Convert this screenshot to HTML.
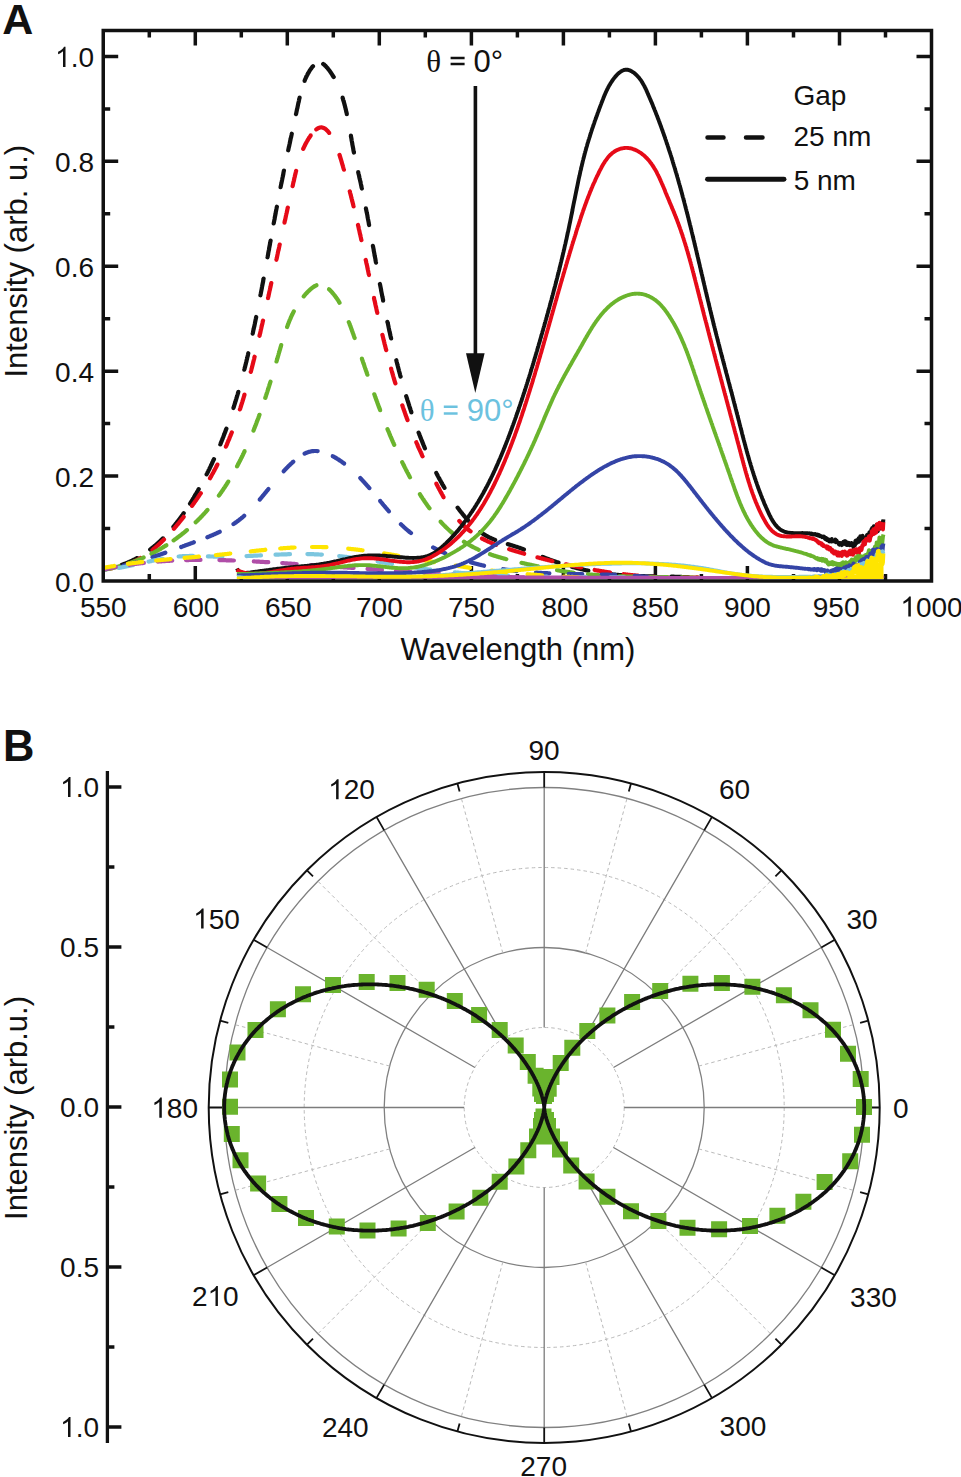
<!DOCTYPE html><html><head><meta charset="utf-8"><style>html,body{margin:0;padding:0;background:#fff;overflow:hidden}svg{display:block}text{font-family:"Liberation Sans",sans-serif}</style></head><body>
<svg width="961" height="1477" viewBox="0 0 961 1477">
<rect width="961" height="1477" fill="#fff"/>
<text x="2.3" y="33.7" font-size="43" font-weight="bold" fill="#111">A</text>
<path d="M149.3 581V574M149.3 30.5V37.5M195.3 581V566M195.3 30.5V45.5M241.3 581V574M241.3 30.5V37.5M287.3 581V566M287.3 30.5V45.5M333.3 581V574M333.3 30.5V37.5M379.3 581V566M379.3 30.5V45.5M425.3 581V574M425.3 30.5V37.5M471.4 581V566M471.4 30.5V45.5M517.4 581V574M517.4 30.5V37.5M563.4 581V566M563.4 30.5V45.5M609.4 581V574M609.4 30.5V37.5M655.4 581V566M655.4 30.5V45.5M701.4 581V574M701.4 30.5V37.5M747.4 581V566M747.4 30.5V45.5M793.5 581V574M793.5 30.5V37.5M839.5 581V566M839.5 30.5V45.5M885.5 581V574M885.5 30.5V37.5M103.25 528.5H110.2M931.5 528.5H924.5M103.25 476.1H118.2M931.5 476.1H916.5M103.25 423.6H110.2M931.5 423.6H924.5M103.25 371.2H118.2M931.5 371.2H916.5M103.25 318.7H110.2M931.5 318.7H924.5M103.25 266.2H118.2M931.5 266.2H916.5M103.25 213.8H110.2M931.5 213.8H924.5M103.25 161.3H118.2M931.5 161.3H916.5M103.25 108.9H110.2M931.5 108.9H924.5M103.25 56.4H118.2M931.5 56.4H916.5" stroke="#111" stroke-width="3.5" fill="none"/>
<defs><clipPath id="ca"><rect x="105" y="32" width="825" height="547"/></clipPath></defs>
<g clip-path="url(#ca)" fill="none" stroke-linejoin="round">
<path d="M103.9 569 L103.9 569 L104.4 568.9 L104.9 568.8 L105.4 568.8 L105.9 568.7 L106.5 568.6 L106.7 568.6M121.7 564.9 L121.9 564.8 L122.3 564.7 L122.8 564.5 L123.3 564.3 L123.8 564.2 L124.2 564 L124.7 563.8 L125.2 563.6 L125.6 563.5 L126.1 563.3 L126.5 563.1 L127 562.9 L127.5 562.7 L127.9 562.5 L128.4 562.3 L128.8 562.1 L129.3 561.9 L129.7 561.7 L130.2 561.5 L130.6 561.3 L131.1 561.1 L131.5 560.9 L132 560.7 L132.4 560.5 L132.9 560.3 L133.3 560.1 L133.7 559.8 L134.2 559.6 L134.6 559.4 L135.1 559.2 L135.5 558.9 L135.9 558.7 L136.4 558.5 L136.8 558.2 L137.2 558 L137.3 558M150.2 549.5 L150.3 549.4 L150.7 549.1 L151.1 548.8 L151.5 548.5 L151.9 548.2 L152.2 547.9 L152.6 547.6 L153 547.3 L153.4 547 L153.8 546.7 L154.2 546.3 L154.5 546 L154.9 545.7 L155.3 545.4 L155.7 545.1 L156 544.7 L156.4 544.4 L156.8 544.1 L157.1 543.8 L157.5 543.4 L157.9 543.1 L158.2 542.8 L158.6 542.4 L159 542.1 L159.3 541.8 L159.7 541.4 L160.1 541.1 L160.4 540.8 L160.8 540.4 L161.1 540.1 L161.5 539.7 L161.9 539.4 L162.2 539 L162.6 538.7 L162.9 538.3 L163 538.3M173.4 526.8 L173.7 526.5 L174 526.1 L174.3 525.7 L174.6 525.3 L174.9 524.9 L175.2 524.5 L175.6 524.1 L175.9 523.7 L176.2 523.3 L176.5 522.9 L176.8 522.5 L177.1 522.1 L177.4 521.7 L177.7 521.3 L178.1 520.9 L178.4 520.5 L178.7 520.1 L179 519.7 L179.3 519.3 L179.6 518.9 L179.9 518.5 L180.2 518.1 L180.5 517.7 L180.8 517.3 L181.1 516.9 L181.4 516.5 L181.7 516 L182 515.6 L182.3 515.2 L182.6 514.8 L182.8 514.4 L183.1 514 L183.4 513.6 L183.7 513.2M190 503.7 L190.2 503.4 L190.5 503 L190.7 502.5 L191 502.1 L191.3 501.7 L191.5 501.3 L191.8 500.8 L192.1 500.4 L192.3 500 L192.6 499.5 L192.9 499.1 L193.1 498.7 L193.4 498.2 L193.7 497.8 L193.9 497.4 L194.2 496.9 L194.4 496.5 L194.7 496.1 L195 495.6 L195.2 495.2 L195.5 494.7 L195.7 494.3 L196 493.9 L196.3 493.4 L196.5 493 L196.8 492.6 L197 492.1 L197.3 491.7 L197.5 491.3 L197.8 490.8 L198 490.4 L198.3 489.9 L198.5 489.5 L198.7 489.1M206.6 474.4 L206.8 474 L207.1 473.5 L207.3 473.1 L207.5 472.7 L207.7 472.2 L208 471.8 L208.2 471.3 L208.4 470.9 L208.6 470.4 L208.8 470 L209.1 469.5 L209.3 469.1 L209.5 468.6 L209.7 468.2 L209.9 467.7 L210.2 467.3 L210.4 466.8 L210.6 466.4 L210.8 465.9 L211 465.5 L211.2 465 L211.4 464.6 L211.7 464.1 L211.9 463.7 L212.1 463.2 L212.3 462.7 L212.5 462.3 L212.7 461.8 L212.9 461.4 L213.1 460.9 L213.3 460.5 L213.5 460 L213.8 459.6 L214 459.1 L214 459.1M220.2 444.5 L220.3 444.5 L220.5 444 L220.6 443.6 L220.8 443.1 L221 442.6 L221.2 442.2 L221.4 441.7 L221.6 441.3 L221.8 440.8 L221.9 440.3 L222.1 439.9 L222.3 439.4 L222.5 438.9 L222.7 438.5 L222.8 438 L223 437.6 L223.2 437.1 L223.4 436.6 L223.6 436.2 L223.7 435.7 L223.9 435.2 L224.1 434.8 L224.3 434.3 L224.5 433.8 L224.6 433.4 L224.8 432.9 L225 432.4 L225.2 432 L225.3 431.5 L225.5 431 L225.7 430.6 L225.8 430.1 L226 429.6 L226.2 429.2 L226.4 428.7 L226.4 428.7M233.4 408.1 L233.4 408 L233.6 407.5 L233.7 407.1 L233.9 406.6 L234 406.1 L234.2 405.6 L234.3 405.2 L234.5 404.7 L234.6 404.2 L234.8 403.7 L234.9 403.3 L235.1 402.8 L235.2 402.3 L235.4 401.8 L235.5 401.4 L235.7 400.9 L235.8 400.4 L235.9 399.9 L236.1 399.5 L236.2 399 L236.4 398.5 L236.5 398 L236.7 397.6 L236.8 397.1 L236.9 396.6 L237.1 396.1 L237.2 395.7 L237.4 395.2 L237.5 394.7 L237.7 394.2 L237.8 393.7 L237.9 393.3 L238.1 392.8 L238.2 392.3 L238.3 391.8 L238.4 391.8M244.3 369.7 L244.3 369.7 L244.4 369.2 L244.6 368.7 L244.7 368.2 L244.8 367.8 L244.9 367.3 L245.1 366.8 L245.2 366.3 L245.3 365.8 L245.4 365.3 L245.5 364.9 L245.7 364.4 L245.8 363.9 L245.9 363.4 L246 362.9 L246.1 362.4 L246.3 361.9 L246.4 361.5 L246.5 361 L246.6 360.5 L246.7 360 L246.8 359.5 L247 359 L247.1 358.5 L247.2 358.1 L247.3 357.6 L247.4 357.1 L247.5 356.6 L247.7 356.1 L247.8 355.6 L247.9 355.1 L248 354.7 L248.1 354.2 L248.2 353.7 L248.3 353.2 L248.3 353.2M252.7 333.6 L252.8 333.2 L252.9 332.7 L253 332.2 L253.1 331.7 L253.2 331.2 L253.3 330.7 L253.4 330.2 L253.5 329.7 L253.6 329.3 L253.7 328.8 L253.8 328.3 L253.9 327.8 L254 327.3 L254.2 326.8 L254.3 326.3 L254.4 325.8 L254.5 325.3 L254.6 324.8 L254.7 324.3 L254.8 323.9 L254.9 323.4 L255 322.9 L255.1 322.4 L255.2 321.9 L255.3 321.4 L255.4 320.9 L255.5 320.4 L255.6 319.9 L255.7 319.4 L255.8 318.9 L255.9 318.5 L256 318 L256.1 317.5 L256.2 317M260.4 295.3 L260.5 294.8 L260.6 294.3 L260.7 293.8 L260.8 293.4 L260.9 292.9 L261 292.4 L261.1 291.9 L261.2 291.4 L261.3 290.9 L261.4 290.4 L261.5 289.9 L261.6 289.4 L261.7 288.9 L261.8 288.4 L261.9 287.9 L261.9 287.4 L262 286.9 L262.1 286.5 L262.2 286 L262.3 285.5 L262.4 285 L262.5 284.5 L262.6 284 L262.7 283.5 L262.8 283 L262.9 282.5 L263 282 L263.1 281.5 L263.2 281 L263.2 280.5 L263.3 280 L263.4 279.5 L263.5 279.1 L263.6 278.6M267.5 257.3 L267.6 256.9 L267.7 256.4 L267.8 255.9 L267.9 255.4 L268 254.9 L268.1 254.4 L268.2 253.9 L268.2 253.4 L268.3 252.9 L268.4 252.4 L268.5 251.9 L268.6 251.4 L268.7 250.9 L268.8 250.4 L268.9 250 L269 249.5 L269.1 249 L269.1 248.5 L269.2 248 L269.3 247.5 L269.4 247 L269.5 246.5 L269.6 246 L269.7 245.5 L269.8 245 L269.9 244.5 L270 244 L270 243.5 L270.1 243.1 L270.2 242.6 L270.3 242.1 L270.4 241.6 L270.5 241.1 L270.6 240.6M273.7 223.4 L273.7 223.4 L273.8 222.9 L273.9 222.4 L274 221.9 L274.1 221.4 L274.2 220.9 L274.3 220.4 L274.4 219.9 L274.5 219.4 L274.6 219 L274.7 218.5 L274.7 218 L274.8 217.5 L274.9 217 L275 216.5 L275.1 216 L275.2 215.5 L275.3 215 L275.4 214.5 L275.5 214 L275.6 213.6 L275.7 213.1 L275.7 212.6 L275.8 212.1 L275.9 211.6 L276 211.1 L276.1 210.6 L276.2 210.1 L276.3 209.6 L276.4 209.1 L276.5 208.7 L276.6 208.2 L276.7 207.7 L276.8 207.2 L276.9 206.7 L276.9 206.7M280.6 187.2 L280.6 187.2 L280.7 186.7 L280.8 186.2 L280.9 185.7 L281 185.2 L281.1 184.7 L281.2 184.2 L281.3 183.7 L281.4 183.3 L281.5 182.8 L281.6 182.3 L281.7 181.8 L281.8 181.3 L281.9 180.8 L282 180.3 L282.1 179.9 L282.2 179.4 L282.3 178.9 L282.4 178.4 L282.5 177.9 L282.6 177.4 L282.7 176.9 L282.8 176.5 L282.9 176 L283 175.5 L283.1 175 L283.2 174.5 L283.3 174 L283.4 173.5 L283.4 173.1 L283.5 172.6 L283.6 172.1 L283.7 171.6 L283.8 171.1 L283.9 170.6 L284 170.6M288.2 150.3 L288.2 150.3 L288.3 149.8 L288.4 149.3 L288.5 148.8 L288.6 148.3 L288.7 147.8 L288.8 147.3 L289 146.9 L289.1 146.4 L289.2 145.9 L289.3 145.4 L289.4 144.9 L289.5 144.4 L289.6 143.9 L289.7 143.5 L289.8 143 L289.9 142.5 L290 142 L290.1 141.5 L290.2 141 L290.3 140.5 L290.4 140 L290.5 139.5 L290.6 139.1 L290.7 138.6 L290.8 138.1 L290.9 137.6 L291.1 137.1 L291.2 136.6 L291.3 136.1 L291.4 135.6 L291.5 135.1 L291.6 134.7 L291.7 134.2 L291.8 133.7M296 114.1 L296.1 113.9 L296.2 113.4 L296.3 112.9 L296.4 112.4 L296.5 111.9 L296.6 111.4 L296.7 110.9 L296.8 110.4 L296.9 109.9 L297 109.4 L297.1 108.9 L297.3 108.3 L297.4 107.8 L297.5 107.3 L297.6 106.8 L297.7 106.3 L297.8 105.8 L297.9 105.3 L298 104.8 L298.1 104.3 L298.2 103.8 L298.3 103.3 L298.4 102.8 L298.6 102.3 L298.7 101.8 L298.8 101.3 L298.9 100.8 L299 100.3 L299.1 99.7 L299.2 99.2 L299.3 98.7 L299.5 98.2 L299.6 97.7 L299.6 97.5M304.6 80.9 L304.6 80.8 L304.8 80.3 L305 79.8 L305.2 79.3 L305.4 78.8 L305.6 78.4 L305.8 77.9 L306 77.4 L306.3 76.9 L306.5 76.5 L306.7 76 L307 75.5 L307.2 75.1 L307.4 74.6 L307.7 74.1 L307.9 73.7 L308.2 73.2 L308.4 72.8 L308.7 72.3 L309 71.8 L309.2 71.4 L309.5 70.9 L309.8 70.5 L310.1 70 L310.4 69.6 L310.7 69.2 L311 68.8 L311.3 68.3 L311.6 67.9 L311.9 67.5 L312.2 67.1 L312.5 66.8 L312.8 66.4 L313 66.2M323.2 63.9 L323.3 64 L323.6 64.2 L323.9 64.5 L324.3 64.8 L324.6 65.1 L324.9 65.4 L325.2 65.7 L325.6 66 L325.9 66.3 L326.2 66.7 L326.5 67 L326.8 67.4 L327.2 67.8 L327.5 68.1 L327.8 68.5 L328.1 68.9 L328.4 69.3 L328.7 69.7 L329 70.1 L329.3 70.4 L329.6 70.8 L329.9 71.2 L330.1 71.6 L330.4 72 L330.7 72.4 L331 72.8 L331.3 73.2 L331.5 73.7 L331.8 74.1 L332.1 74.5 L332.3 74.9 L332.6 75.3 L332.8 75.7 L333.1 76.1 L333.3 76.6 L333.6 77 L333.7 77.1M342.6 97.7 L342.6 98 L342.8 98.5 L343 99 L343.1 99.5 L343.2 100 L343.4 100.5 L343.5 100.9 L343.7 101.4 L343.8 101.9 L344 102.4 L344.1 102.9 L344.2 103.4 L344.4 103.9 L344.5 104.4 L344.6 104.9 L344.8 105.4 L344.9 105.9 L345 106.4 L345.1 106.9 L345.3 107.4 L345.4 107.9 L345.5 108.4 L345.6 108.9 L345.8 109.4 L345.9 109.9 L346 110.4 L346.1 110.9 L346.2 111.4 L346.3 111.9 L346.5 112.4 L346.6 112.9 L346.7 113.4 L346.8 114 L346.8 114.2M350.9 135.7 L350.9 136 L351 136.5 L351.1 137 L351.2 137.5 L351.3 138 L351.4 138.5 L351.5 139 L351.5 139.5 L351.6 140 L351.7 140.6 L351.8 141.1 L351.9 141.6 L352 142.1 L352.1 142.6 L352.2 143.1 L352.3 143.6 L352.3 144.1 L352.4 144.6 L352.5 145.1 L352.6 145.6 L352.7 146.1 L352.8 146.6 L352.9 147.1 L353 147.6 L353.1 148.1 L353.2 148.6 L353.3 149.1 L353.3 149.6 L353.4 150.1 L353.5 150.6 L353.6 151.1 L353.7 151.6 L353.8 152.1 L353.9 152.5M358.2 172.1 L358.2 172.3 L358.3 172.7 L358.4 173.2 L358.5 173.7 L358.7 174.2 L358.8 174.6 L358.9 175.1 L359 175.6 L359.1 176.1 L359.2 176.5 L359.3 177 L359.4 177.5 L359.5 178 L359.6 178.4 L359.7 178.9 L359.9 179.4 L360 179.9 L360.1 180.3 L360.2 180.8 L360.3 181.3 L360.4 181.8 L360.5 182.2 L360.6 182.7 L360.7 183.2 L360.8 183.7 L360.9 184.2 L361 184.6 L361.1 185.1 L361.2 185.6 L361.3 186.1 L361.4 186.5 L361.5 187 L361.6 187.5 L361.8 188 L361.9 188.5 L361.9 188.6M365.9 208.3 L365.9 208.4 L366 208.8 L366.1 209.3 L366.2 209.8 L366.3 210.3 L366.4 210.8 L366.5 211.3 L366.6 211.8 L366.7 212.3 L366.8 212.8 L366.9 213.2 L367 213.7 L367.1 214.2 L367.2 214.7 L367.3 215.2 L367.4 215.7 L367.5 216.2 L367.5 216.7 L367.6 217.2 L367.7 217.7 L367.8 218.2 L367.9 218.7 L368 219.1 L368.1 219.6 L368.2 220.1 L368.3 220.6 L368.4 221.1 L368.5 221.6 L368.6 222.1 L368.7 222.6 L368.8 223.1 L368.8 223.6 L368.9 224.1 L369 224.6 L369.1 225M372.9 245.9 L373 246.3 L373.1 246.8 L373.2 247.3 L373.3 247.8 L373.4 248.3 L373.5 248.8 L373.6 249.3 L373.7 249.8 L373.7 250.3 L373.8 250.8 L373.9 251.3 L374 251.8 L374.1 252.3 L374.2 252.8 L374.3 253.3 L374.4 253.8 L374.5 254.3 L374.5 254.8 L374.6 255.3 L374.7 255.8 L374.8 256.3 L374.9 256.7 L375 257.2 L375.1 257.7 L375.2 258.2 L375.3 258.7 L375.4 259.2 L375.5 259.7 L375.5 260.2 L375.6 260.7 L375.7 261.2 L375.8 261.7 L375.9 262.2 L376 262.6M379.9 284 L380 284.4 L380.1 284.9 L380.2 285.4 L380.3 285.9 L380.4 286.4 L380.5 286.9 L380.6 287.4 L380.7 287.9 L380.8 288.4 L380.9 288.9 L381 289.4 L381.1 289.9 L381.1 290.4 L381.2 290.8 L381.3 291.3 L381.4 291.8 L381.5 292.3 L381.6 292.8 L381.7 293.3 L381.8 293.8 L381.9 294.3 L382 294.8 L382.1 295.3 L382.2 295.8 L382.3 296.3 L382.4 296.8 L382.5 297.2 L382.6 297.7 L382.7 298.2 L382.8 298.7 L382.9 299.2 L383 299.7 L383.1 300.2 L383.1 300.7M387.4 321.8 L387.4 321.8 L387.5 322.3 L387.7 322.8 L387.8 323.3 L387.9 323.7 L388 324.2 L388.1 324.7 L388.2 325.2 L388.3 325.7 L388.4 326.2 L388.5 326.7 L388.6 327.2 L388.7 327.7 L388.8 328.1 L388.9 328.6 L389 329.1 L389.1 329.6 L389.2 330.1 L389.3 330.6 L389.4 331.1 L389.5 331.6 L389.7 332 L389.8 332.5 L389.9 333 L390 333.5 L390.1 334 L390.2 334.5 L390.3 335 L390.4 335.5 L390.5 335.9 L390.6 336.4 L390.7 336.9 L390.9 337.4 L391 337.9 L391.1 338.4 L391.1 338.4M396.3 360.2 L396.3 360.2 L396.4 360.7 L396.5 361.2 L396.6 361.7 L396.8 362.2 L396.9 362.6 L397 363.1 L397.1 363.6 L397.3 364.1 L397.4 364.6 L397.5 365 L397.6 365.5 L397.8 366 L397.9 366.5 L398 367 L398.1 367.5 L398.3 367.9 L398.4 368.4 L398.5 368.9 L398.6 369.4 L398.8 369.9 L398.9 370.4 L399 370.8 L399.1 371.3 L399.3 371.8 L399.4 372.3 L399.5 372.8 L399.7 373.2 L399.8 373.7 L399.9 374.2 L400 374.7 L400.2 375.2 L400.3 375.6 L400.4 376.1 L400.6 376.6 L400.6 376.6M406.2 396.2 L406.2 396.2 L406.4 396.7 L406.5 397.2 L406.7 397.6 L406.8 398.1 L407 398.6 L407.1 399.1 L407.3 399.5 L407.4 400 L407.6 400.5 L407.7 401 L407.9 401.4 L408 401.9 L408.2 402.4 L408.3 402.9 L408.5 403.3 L408.6 403.8 L408.8 404.3 L408.9 404.8 L409.1 405.2 L409.2 405.7 L409.4 406.2 L409.5 406.7 L409.7 407.1 L409.8 407.6 L410 408.1 L410.2 408.6 L410.3 409 L410.5 409.5 L410.6 410 L410.8 410.5 L410.9 410.9 L411.1 411.4 L411.2 411.9 L411.4 412.3 L411.4 412.4M418.6 432.6 L418.8 433 L419 433.5 L419.2 434 L419.3 434.4 L419.5 434.9 L419.7 435.4 L419.9 435.8 L420.1 436.3 L420.2 436.8 L420.4 437.2 L420.6 437.7 L420.8 438.1 L421 438.6 L421.1 439.1 L421.3 439.5 L421.5 440 L421.7 440.5 L421.9 440.9 L422.1 441.4 L422.3 441.9 L422.4 442.3 L422.6 442.8 L422.8 443.3 L423 443.7 L423.2 444.2 L423.4 444.7 L423.6 445.1 L423.8 445.6 L424 446 L424.2 446.5 L424.3 447 L424.5 447.4 L424.7 447.9 L424.9 448.3M436.3 473 L436.5 473.4 L436.7 473.8 L437 474.3 L437.2 474.7 L437.4 475.2 L437.7 475.6 L437.9 476.1 L438.1 476.5 L438.4 477 L438.6 477.4 L438.8 477.8 L439.1 478.3 L439.3 478.7 L439.6 479.2 L439.8 479.6 L440 480 L440.3 480.5 L440.5 480.9 L440.8 481.4 L441 481.8 L441.3 482.2 L441.5 482.7 L441.7 483.1 L442 483.6 L442.2 484 L442.5 484.4 L442.7 484.9 L443 485.3 L443.2 485.7 L443.5 486.2 L443.7 486.6 L444 487 L444.3 487.5 L444.5 487.9M457.6 507.6 L457.9 508 L458.2 508.4 L458.5 508.8 L458.8 509.2 L459.1 509.6 L459.4 510 L459.7 510.4 L460 510.8 L460.3 511.2 L460.6 511.6 L460.9 511.9 L461.2 512.3 L461.6 512.7 L461.9 513.1 L462.2 513.5 L462.5 513.9 L462.8 514.3 L463.1 514.7 L463.5 515.1 L463.8 515.5 L464.1 515.9 L464.4 516.3 L464.8 516.6 L465.1 517 L465.4 517.4 L465.7 517.8 L466.1 518.2 L466.4 518.6 L466.7 518.9 L467.1 519.3 L467.4 519.7 L467.7 520.1 L468.1 520.5 L468.4 520.8M480.4 531.9 L480.5 532 L480.9 532.3 L481.3 532.6 L481.7 532.9 L482.1 533.1 L482.5 533.4 L482.9 533.7 L483.3 534 L483.8 534.2 L484.2 534.5 L484.6 534.8 L485 535 L485.4 535.3 L485.8 535.5 L486.3 535.8 L486.7 536 L487.1 536.3 L487.6 536.5 L488 536.7 L488.4 537 L488.9 537.2 L489.3 537.4 L489.8 537.6 L490.2 537.8 L490.7 538 L491.1 538.3 L491.6 538.5 L492 538.7 L492.5 538.9 L492.9 539 L493.4 539.2 L493.8 539.4 L494.3 539.6 L494.8 539.8 L495.2 540 L495.3 540M507.8 544.1 L508.2 544.2 L508.7 544.4 L509.1 544.5 L509.6 544.7 L510.1 544.8 L510.6 545 L511.1 545.1 L511.6 545.3 L512.1 545.4 L512.5 545.6 L513 545.7 L513.5 545.9 L514 546 L514.5 546.2 L515 546.3 L515.4 546.5 L515.9 546.6 L516.4 546.8 L516.9 546.9 L517.4 547.1 L517.8 547.3 L518.3 547.4 L518.8 547.6 L519.3 547.8 L519.8 547.9 L520.2 548.1 L520.7 548.3 L521.2 548.4 L521.7 548.6 L522.1 548.8 L522.6 549 L523.1 549.1 L523.5 549.3 L523.9 549.5M542.6 556.9 L542.6 556.9 L543.1 557.1 L543.6 557.2 L544 557.4 L544.5 557.6 L545 557.8 L545.4 558 L545.9 558.2 L546.4 558.3 L546.8 558.5 L547.3 558.7 L547.7 558.9 L548.2 559 L548.7 559.2 L549.1 559.4 L549.6 559.6 L550.1 559.8 L550.5 559.9 L551 560.1 L551.5 560.3 L551.9 560.4 L552.4 560.6 L552.9 560.8 L553.4 560.9 L553.8 561.1 L554.3 561.3 L554.8 561.4 L555.2 561.6 L555.7 561.8 L556.2 561.9 L556.6 562.1 L557.1 562.3 L557.6 562.4 L558.1 562.6 L558.5 562.7 L558.6 562.7M571.8 566.8 L571.9 566.8 L572.4 566.9 L572.8 567 L573.3 567.2 L573.8 567.3 L574.3 567.4 L574.8 567.5 L575.2 567.7 L575.7 567.8 L576.2 567.9 L576.7 568 L577.2 568.2 L577.7 568.3 L578.1 568.4 L578.6 568.5 L579.1 568.6 L579.6 568.7 L580.1 568.9 L580.6 569 L581 569.1 L581.5 569.2 L582 569.3 L582.5 569.4 L583 569.5 L583.5 569.6 L584 569.8 L584.4 569.9 L584.9 570 L585.4 570.1 L585.9 570.2 L586.4 570.3 L586.9 570.4 L587.4 570.5 L587.9 570.6 L588.3 570.7 L588.4 570.7M604.6 573.4 L604.6 573.4 L605.1 573.5 L605.6 573.6 L606 573.6 L606.5 573.7 L607 573.8 L607.5 573.8 L608 573.9 L608.5 574 L609 574 L609.5 574.1 L610 574.1 L610.5 574.2 L611 574.2 L611.5 574.3 L612 574.4 L612.5 574.4 L613 574.5 L613.5 574.5 L614 574.6 L614.5 574.6 L615 574.7 L615.5 574.7 L616 574.8 L616.5 574.8 L617 574.8 L617.5 574.9 L618 574.9 L618.5 575 L619 575 L619.5 575.1 L620 575.1 L620.5 575.1 L621 575.2 L621.5 575.2M637.9 576 L638 576 L638.5 576.1 L639 576.1 L639.5 576.1 L640 576.1 L640.5 576.1 L641 576.1 L641.5 576.2 L642 576.2 L642.5 576.2 L643 576.2 L643.5 576.2 L644 576.2 L644.5 576.2 L645 576.2 L645.5 576.3 L646 576.3 L646.5 576.3 L647 576.3 L647.5 576.3 L648.1 576.3 L648.6 576.3 L649.1 576.3 L649.6 576.3 L650.1 576.3 L650.6 576.3 L651.1 576.4 L651.6 576.4 L652.1 576.4 L652.6 576.4 L653.1 576.4 L653.6 576.4 L654.1 576.4 L654.6 576.4 L654.8 576.4M671.3 576.7 L671.7 576.7 L672.2 576.7 L672.7 576.7 L673.2 576.7 L673.7 576.7 L674.2 576.7 L674.7 576.8 L675.2 576.8 L675.7 576.8 L676.2 576.8 L676.7 576.8 L677.2 576.8 L677.7 576.8 L678.2 576.8 L678.7 576.9 L679.2 576.9 L679.7 576.9 L680.2 576.9 L680.7 576.9 L681.2 576.9 L681.7 577 L682.1 577 L682.6 577 L683.1 577 L683.6 577 L684.1 577 L684.6 577.1 L685.1 577.1 L685.6 577.1 L686.1 577.1 L686.6 577.2 L687.1 577.2 L687.6 577.2 L688.1 577.2 L688.2 577.2" stroke="#111" stroke-width="4.2" stroke-linecap="round"/>
<path d="M103.9 569 L103.9 569 L104.5 568.9 L105 568.9 L105.6 568.9 L106.1 568.9 L106.7 568.8 L107.2 568.8 L107.8 568.7 L108.3 568.7 L108.8 568.6 L109.4 568.6 L109.9 568.5 L110.4 568.4 L111 568.4 L111.5 568.3 L112 568.2 L112.4 568.2M126.5 564.7 L126.9 564.5 L127.4 564.4 L127.8 564.2 L128.3 564 L128.8 563.8 L129.2 563.7 L129.7 563.5 L130.1 563.3 L130.6 563.1 L131.1 562.9 L131.5 562.7 L132 562.5 L132.4 562.3 L132.9 562.1 L133.3 561.9 L133.8 561.7 L134.2 561.5 L134.6 561.3 L135.1 561.1 L135.5 560.8 L136 560.6 L136.4 560.4 L136.8 560.2 L137.3 560 L137.7 559.7 L138.1 559.5 L138.6 559.3 L139 559 L139.4 558.8 L139.8 558.5 L140.3 558.3 L140.5 558.1M152.5 549.9 L152.8 549.7 L153.1 549.4 L153.5 549 L153.9 548.7 L154.3 548.4 L154.7 548.1 L155 547.8 L155.4 547.5 L155.8 547.1 L156.2 546.8 L156.5 546.5 L156.9 546.2 L157.3 545.8 L157.6 545.5 L158 545.2 L158.4 544.9 L158.7 544.5 L159.1 544.2 L159.5 543.9 L159.8 543.5 L160.2 543.2 L160.6 542.8 L160.9 542.5 L161.3 542.2 L161.6 541.8 L162 541.5 L162.4 541.1 L162.7 540.8 L163.1 540.4 L163.4 540.1 L163.8 539.7 L164 539.5M173.9 528.8 L174 528.7 L174.3 528.3 L174.6 527.9 L175 527.5 L175.3 527.1 L175.6 526.8 L175.9 526.4 L176.3 526 L176.6 525.6 L176.9 525.2 L177.2 524.8 L177.6 524.4 L177.9 524 L178.2 523.7 L178.5 523.3 L178.8 522.9 L179.2 522.5 L179.5 522.1 L179.8 521.7 L180.1 521.3 L180.4 520.9 L180.8 520.5 L181.1 520.1 L181.4 519.8 L181.7 519.4 L182 519 L182.3 518.6 L182.6 518.2 L183 517.8 L183.3 517.4 L183.6 517 L183.7 516.8M192 505.9 L192.1 505.7 L192.4 505.3 L192.7 504.9 L193 504.5 L193.3 504.1 L193.6 503.7 L193.8 503.3 L194.1 502.9 L194.4 502.5 L194.7 502.1 L195 501.7 L195.3 501.2 L195.6 500.8 L195.9 500.4 L196.2 500 L196.4 499.6 L196.7 499.2 L197 498.8 L197.3 498.4 L197.6 497.9 L197.9 497.5 L198.1 497.1 L198.4 496.7 L198.7 496.3 L199 495.9 L199.3 495.4 L199.5 495 L199.8 494.6 L200.1 494.2 L200.4 493.8 L200.6 493.4 L200.8 493.2M210 478.2 L210.1 478 L210.4 477.6 L210.6 477.1 L210.9 476.7 L211.1 476.3 L211.4 475.8 L211.6 475.4 L211.8 475 L212.1 474.5 L212.3 474.1 L212.6 473.7 L212.8 473.2 L213.1 472.8 L213.3 472.4 L213.5 471.9 L213.8 471.5 L214 471 L214.3 470.6 L214.5 470.2 L214.7 469.7 L215 469.3 L215.2 468.8 L215.4 468.4 L215.7 468 L215.9 467.5 L216.1 467.1 L216.4 466.6 L216.6 466.2 L216.8 465.8 L217 465.3 L217.3 464.9 L217.4 464.6M225.9 446.7 L226 446.4 L226.2 446 L226.4 445.5 L226.6 445.1 L226.8 444.6 L227 444.1 L227.2 443.7 L227.4 443.2 L227.5 442.8 L227.7 442.3 L227.9 441.9 L228.1 441.4 L228.3 440.9 L228.5 440.5 L228.7 440 L228.9 439.6 L229.1 439.1 L229.3 438.6 L229.5 438.2 L229.6 437.7 L229.8 437.3 L230 436.8 L230.2 436.3 L230.4 435.9 L230.6 435.4 L230.8 434.9 L230.9 434.5 L231.1 434 L231.3 433.6 L231.5 433.1 L231.7 432.6 L231.8 432.4M239.9 409.4 L240 409.1 L240.2 408.7 L240.3 408.2 L240.5 407.7 L240.6 407.2 L240.8 406.8 L240.9 406.3 L241.1 405.8 L241.2 405.3 L241.4 404.9 L241.5 404.4 L241.7 403.9 L241.8 403.4 L242 402.9 L242.1 402.5 L242.3 402 L242.4 401.5 L242.6 401 L242.7 400.6 L242.9 400.1 L243 399.6 L243.2 399.1 L243.3 398.6 L243.5 398.2 L243.6 397.7 L243.7 397.2 L243.9 396.7 L244 396.3 L244.2 395.8 L244.3 395.3 L244.5 394.8 L244.5 394.6M250.8 371.8 L250.9 371.6 L251 371.1 L251.1 370.7 L251.2 370.2 L251.4 369.7 L251.5 369.2 L251.6 368.7 L251.7 368.2 L251.9 367.7 L252 367.3 L252.1 366.8 L252.2 366.3 L252.4 365.8 L252.5 365.3 L252.6 364.8 L252.7 364.3 L252.8 363.9 L253 363.4 L253.1 362.9 L253.2 362.4 L253.3 361.9 L253.5 361.4 L253.6 360.9 L253.7 360.4 L253.8 360 L253.9 359.5 L254.1 359 L254.2 358.5 L254.3 358 L254.4 357.5 L254.5 357 L254.6 356.8M259.5 335.8 L259.6 335.5 L259.7 335.1 L259.8 334.6 L259.9 334.1 L260 333.6 L260.2 333.1 L260.3 332.6 L260.4 332.1 L260.5 331.6 L260.6 331.1 L260.7 330.7 L260.8 330.2 L260.9 329.7 L261 329.2 L261.2 328.7 L261.3 328.2 L261.4 327.7 L261.5 327.2 L261.6 326.7 L261.7 326.3 L261.8 325.8 L261.9 325.3 L262 324.8 L262.2 324.3 L262.3 323.8 L262.4 323.3 L262.5 322.8 L262.6 322.4 L262.7 321.9 L262.8 321.4 L262.9 320.9 L263 320.7M268 298.2 L268 298 L268.1 297.5 L268.2 297 L268.4 296.5 L268.5 296 L268.6 295.5 L268.7 295 L268.8 294.6 L268.9 294.1 L269 293.6 L269.1 293.1 L269.2 292.6 L269.3 292.1 L269.4 291.6 L269.5 291.1 L269.6 290.7 L269.7 290.2 L269.9 289.7 L270 289.2 L270.1 288.7 L270.2 288.2 L270.3 287.7 L270.4 287.3 L270.5 286.8 L270.6 286.3 L270.7 285.8 L270.8 285.3 L270.9 284.8 L271 284.3 L271.1 283.8 L271.2 283.4 L271.3 283.1M276.4 259.8 L276.4 259.5 L276.5 259 L276.7 258.5 L276.8 258 L276.9 257.6 L277 257.1 L277.1 256.6 L277.2 256.1 L277.3 255.6 L277.4 255.1 L277.5 254.6 L277.6 254.1 L277.7 253.7 L277.8 253.2 L277.9 252.7 L278 252.2 L278.1 251.7 L278.2 251.2 L278.3 250.7 L278.5 250.2 L278.6 249.8 L278.7 249.3 L278.8 248.8 L278.9 248.3 L279 247.8 L279.1 247.3 L279.2 246.8 L279.3 246.4 L279.4 245.9 L279.5 245.4 L279.6 244.9 L279.7 244.6M284.5 222.7 L284.5 222.5 L284.6 222 L284.7 221.5 L284.8 221 L284.9 220.5 L285.1 220 L285.2 219.6 L285.3 219.1 L285.4 218.6 L285.5 218.1 L285.6 217.6 L285.7 217.1 L285.8 216.6 L285.9 216.1 L286 215.6 L286.1 215.2 L286.2 214.7 L286.3 214.2 L286.4 213.7 L286.6 213.2 L286.7 212.7 L286.8 212.2 L286.9 211.7 L287 211.3 L287.1 210.8 L287.2 210.3 L287.3 209.8 L287.4 209.3 L287.5 208.8 L287.6 208.3 L287.7 207.8 L287.8 207.6M292.6 186.1 L292.7 185.9 L292.8 185.4 L292.9 184.9 L293 184.4 L293.1 183.9 L293.2 183.4 L293.3 182.9 L293.4 182.4 L293.5 181.9 L293.7 181.4 L293.8 181 L293.9 180.5 L294 180 L294.1 179.5 L294.2 179 L294.3 178.5 L294.4 178 L294.5 177.5 L294.7 177 L294.8 176.5 L294.9 176.1 L295 175.6 L295.1 175.1 L295.2 174.6 L295.3 174.1 L295.5 173.6 L295.6 173.1 L295.7 172.6 L295.8 172.1 L295.9 171.7 L296 171.2 L296.1 171M303.2 148.9 L303.3 148.7 L303.5 148.3 L303.7 147.8 L303.9 147.3 L304.2 146.8 L304.4 146.3 L304.6 145.9 L304.9 145.4 L305.1 144.9 L305.3 144.4 L305.6 143.9 L305.8 143.4 L306.1 143 L306.4 142.5 L306.6 142 L306.9 141.5 L307.2 141 L307.4 140.6 L307.7 140.1 L308 139.6 L308.3 139.1 L308.6 138.7 L308.9 138.2 L309.2 137.7 L309.5 137.3 L309.8 136.8 L310.1 136.4 L310.4 135.9 L310.7 135.5 L310.7 135.4M316.3 129.4 L316.3 129.4 L316.7 129.1 L317 128.9 L317.4 128.7 L317.7 128.5 L318.1 128.3 L318.4 128.1 L318.8 128 L319.1 127.8 L319.5 127.7 L319.8 127.6 L320.1 127.5 L320.5 127.5 L320.8 127.4 L321.2 127.4 L321.5 127.4 L321.9 127.5 L322.2 127.5 L322.5 127.6 L322.9 127.7 L323.2 127.8 L323.5 127.9 L323.9 128.1 L324.2 128.2 L324.5 128.4 L324.9 128.6 L325.2 128.8 L325.5 129.1 L325.8 129.3 L326.2 129.6 L326.5 129.9 L326.8 130.2 L327.1 130.5 L327.4 130.8 L327.7 131.1 L328 131.5 L328.3 131.8 L328.6 132.2 L328.9 132.6 L329.2 133 L329.3 133M339.5 154.9 L339.5 154.9 L339.7 155.4 L339.8 155.9 L340 156.4 L340.1 156.9 L340.3 157.4 L340.4 157.9 L340.6 158.4 L340.7 158.9 L340.9 159.3 L341 159.8 L341.2 160.3 L341.3 160.8 L341.5 161.3 L341.6 161.8 L341.8 162.3 L341.9 162.8 L342 163.3 L342.2 163.8 L342.3 164.3 L342.5 164.8 L342.6 165.2 L342.8 165.7 L342.9 166.2 L343 166.7 L343.2 167.2 L343.3 167.7 L343.5 168.2 L343.6 168.7 L343.8 169.2 L343.9 169.7 L343.9 169.7M349.8 191.5 L349.9 191.7 L350 192.2 L350.1 192.7 L350.2 193.2 L350.4 193.7 L350.5 194.1 L350.6 194.6 L350.8 195.1 L350.9 195.6 L351 196.1 L351.1 196.6 L351.2 197.1 L351.4 197.6 L351.5 198 L351.6 198.5 L351.7 199 L351.9 199.5 L352 200 L352.1 200.5 L352.2 201 L352.3 201.5 L352.5 201.9 L352.6 202.4 L352.7 202.9 L352.8 203.4 L353 203.9 L353.1 204.4 L353.2 204.9 L353.3 205.4 L353.4 205.8 L353.6 206.3 L353.6 206.5M358 225 L358.1 225.3 L358.2 225.8 L358.3 226.3 L358.4 226.8 L358.5 227.2 L358.6 227.7 L358.7 228.2 L358.8 228.7 L358.9 229.2 L359.1 229.7 L359.2 230.2 L359.3 230.6 L359.4 231.1 L359.5 231.6 L359.6 232.1 L359.7 232.6 L359.8 233.1 L359.9 233.6 L360 234 L360.2 234.5 L360.3 235 L360.4 235.5 L360.5 236 L360.6 236.5 L360.7 236.9 L360.8 237.4 L360.9 237.9 L361 238.4 L361.1 238.9 L361.2 239.4 L361.3 239.9 L361.4 240.1M365.7 259.9 L365.8 260.2 L365.9 260.7 L366 261.2 L366.1 261.7 L366.2 262.2 L366.3 262.7 L366.4 263.2 L366.5 263.6 L366.7 264.1 L366.8 264.6 L366.9 265.1 L367 265.6 L367.1 266.1 L367.2 266.5 L367.3 267 L367.4 267.5 L367.5 268 L367.6 268.5 L367.7 269 L367.8 269.5 L367.9 269.9 L368 270.4 L368.1 270.9 L368.2 271.4 L368.3 271.9 L368.4 272.4 L368.5 272.9 L368.6 273.3 L368.7 273.8 L368.8 274.3 L369 274.8 L369 275.1M374 297.9 L374 298.1 L374.1 298.6 L374.2 299.1 L374.3 299.6 L374.4 300.1 L374.5 300.6 L374.7 301 L374.8 301.5 L374.9 302 L375 302.5 L375.1 303 L375.2 303.5 L375.3 304 L375.4 304.5 L375.5 304.9 L375.6 305.4 L375.7 305.9 L375.8 306.4 L376 306.9 L376.1 307.4 L376.2 307.9 L376.3 308.4 L376.4 308.8 L376.5 309.3 L376.6 309.8 L376.7 310.3 L376.8 310.8 L376.9 311.3 L377 311.8 L377.2 312.3 L377.3 312.7 L377.3 313M382.4 335 L382.5 335.2 L382.6 335.7 L382.7 336.2 L382.8 336.7 L383 337.1 L383.1 337.6 L383.2 338.1 L383.3 338.6 L383.4 339.1 L383.6 339.6 L383.7 340.1 L383.8 340.6 L383.9 341 L384 341.5 L384.2 342 L384.3 342.5 L384.4 343 L384.5 343.5 L384.6 344 L384.8 344.5 L384.9 344.9 L385 345.4 L385.1 345.9 L385.3 346.4 L385.4 346.9 L385.5 347.4 L385.6 347.9 L385.7 348.4 L385.9 348.8 L386 349.3 L386.1 349.8 L386.2 350M391.1 368.5 L391.1 368.7 L391.3 369.2 L391.4 369.7 L391.5 370.2 L391.7 370.7 L391.8 371.2 L391.9 371.6 L392.1 372.1 L392.2 372.6 L392.4 373.1 L392.5 373.6 L392.6 374.1 L392.8 374.5 L392.9 375 L393 375.5 L393.2 376 L393.3 376.5 L393.5 377 L393.6 377.4 L393.7 377.9 L393.9 378.4 L394 378.9 L394.2 379.4 L394.3 379.8 L394.4 380.3 L394.6 380.8 L394.7 381.3 L394.9 381.8 L395 382.3 L395.2 382.7 L395.3 383.2 L395.4 383.4M402.3 405.4 L402.4 405.6 L402.6 406.1 L402.7 406.6 L402.9 407.1 L403.1 407.5 L403.2 408 L403.4 408.5 L403.5 409 L403.7 409.4 L403.9 409.9 L404 410.4 L404.2 410.8 L404.4 411.3 L404.5 411.8 L404.7 412.3 L404.9 412.7 L405 413.2 L405.2 413.7 L405.4 414.1 L405.5 414.6 L405.7 415.1 L405.9 415.6 L406 416 L406.2 416.5 L406.4 417 L406.5 417.4 L406.7 417.9 L406.9 418.4 L407 418.8 L407.2 419.3 L407.4 419.8 L407.5 420M416.3 442.2 L416.4 442.5 L416.6 442.9 L416.8 443.4 L417 443.8 L417.2 444.3 L417.4 444.7 L417.6 445.2 L417.7 445.6 L417.9 446.1 L418.1 446.6 L418.3 447 L418.5 447.5 L418.7 447.9 L418.9 448.4 L419.1 448.8 L419.4 449.3 L419.6 449.7 L419.8 450.2 L420 450.6 L420.2 451.1 L420.4 451.5 L420.6 452 L420.8 452.4 L421 452.9 L421.2 453.3 L421.4 453.8 L421.6 454.2 L421.8 454.7 L422 455.1 L422.2 455.6 L422.4 456 L422.6 456.3M436.3 483.6 L436.3 483.7 L436.6 484.2 L436.8 484.6 L437 485.1 L437.3 485.5 L437.5 486 L437.8 486.4 L438 486.9 L438.2 487.3 L438.5 487.8 L438.7 488.2 L439 488.7 L439.2 489.1 L439.4 489.6 L439.7 490 L439.9 490.5 L440.2 490.9 L440.4 491.4 L440.6 491.8 L440.9 492.3 L441.1 492.7 L441.4 493.2 L441.6 493.6 L441.9 494.1 L442.1 494.5 L442.4 495 L442.6 495.4 L442.9 495.9 L443.1 496.3 L443.4 496.8 L443.6 497.2 L443.6 497.3M459.3 520.9 L459.6 521.2 L459.9 521.5 L460.2 521.9 L460.6 522.3 L460.9 522.6 L461.2 523 L461.6 523.4 L461.9 523.7 L462.2 524.1 L462.6 524.4 L462.9 524.8 L463.3 525.1 L463.6 525.5 L464 525.8 L464.3 526.1 L464.7 526.5 L465 526.8 L465.4 527.1 L465.7 527.5 L466.1 527.8 L466.5 528.1 L466.8 528.4 L467.2 528.7 L467.6 529.1 L468 529.4 L468.3 529.7 L468.7 530 L469.1 530.3 L469.5 530.6 L469.9 530.9 L470.2 531.2 L470.6 531.4M482 538.5 L482.2 538.7 L482.7 538.9 L483.1 539.1 L483.6 539.3 L484 539.6 L484.4 539.8 L484.9 540 L485.3 540.2 L485.8 540.4 L486.2 540.6 L486.7 540.8 L487.1 541 L487.6 541.3 L488 541.5 L488.5 541.7 L488.9 541.9 L489.4 542.1 L489.9 542.3 L490.3 542.5 L490.8 542.6 L491.2 542.8 L491.7 543 L492.2 543.2 L492.6 543.4 L493.1 543.6 L493.6 543.8 L494 544 L494.5 544.2 L495 544.3 L495.4 544.5 L495.9 544.7 L496.1 544.8M509.2 549.2 L509.3 549.3 L509.8 549.4 L510.3 549.6 L510.8 549.7 L511.3 549.9 L511.8 550 L512.3 550.2 L512.7 550.3 L513.2 550.5 L513.7 550.6 L514.2 550.8 L514.7 550.9 L515.2 551.1 L515.7 551.2 L516.2 551.3 L516.6 551.5 L517.1 551.6 L517.6 551.8 L518.1 551.9 L518.6 552.1 L519.1 552.2 L519.6 552.4 L520 552.5 L520.5 552.6 L521 552.8 L521.5 552.9 L522 553.1 L522.5 553.2 L523 553.3 L523.5 553.5 L523.9 553.6 L524.1 553.7M537.4 557.4 L537.6 557.4 L538.1 557.5 L538.5 557.7 L539 557.8 L539.5 557.9 L540 558 L540.5 558.2 L541 558.3 L541.5 558.4 L541.9 558.5 L542.4 558.7 L542.9 558.8 L543.4 558.9 L543.9 559.1 L544.4 559.2 L544.9 559.3 L545.3 559.4 L545.8 559.5 L546.3 559.7 L546.8 559.8 L547.3 559.9 L547.8 560 L548.3 560.2 L548.7 560.3 L549.2 560.4 L549.7 560.5 L550.2 560.6 L550.7 560.8 L551.2 560.9 L551.7 561 L552.1 561.1 L552.4 561.2M565.9 564.3 L566.2 564.4 L566.7 564.5 L567.2 564.6 L567.7 564.7 L568.2 564.8 L568.7 565 L569.2 565.1 L569.7 565.2 L570.1 565.3 L570.6 565.4 L571.1 565.5 L571.6 565.6 L572.1 565.7 L572.6 565.8 L573.1 565.9 L573.5 566 L574 566.1 L574.5 566.2 L575 566.3 L575.5 566.4 L576 566.5 L576.5 566.6 L577 566.7 L577.4 566.8 L577.9 566.9 L578.4 567 L578.9 567.1 L579.4 567.2 L579.9 567.3 L580.4 567.4 L580.8 567.5 L581.1 567.5M594.7 570 L595 570.1 L595.5 570.2 L596 570.3 L596.5 570.3 L596.9 570.4 L597.4 570.5 L597.9 570.6 L598.4 570.7 L598.9 570.7 L599.4 570.8 L599.9 570.9 L600.4 571 L600.9 571.1 L601.3 571.1 L601.8 571.2 L602.3 571.3 L602.8 571.4 L603.3 571.4 L603.8 571.5 L604.3 571.6 L604.8 571.7 L605.3 571.8 L605.8 571.8 L606.2 571.9 L606.7 572 L607.2 572 L607.7 572.1 L608.2 572.2 L608.7 572.3 L609.2 572.3 L609.7 572.4 L610 572.5M623.7 574.2 L623.9 574.3 L624.4 574.3 L624.9 574.4 L625.4 574.4 L625.9 574.5 L626.4 574.6 L626.9 574.6 L627.4 574.7 L627.9 574.7 L628.4 574.8 L628.8 574.8 L629.3 574.9 L629.8 574.9 L630.3 575 L630.8 575 L631.3 575.1 L631.8 575.1 L632.3 575.2 L632.8 575.2 L633.3 575.3 L633.8 575.3 L634.3 575.4 L634.8 575.4 L635.3 575.5 L635.8 575.5 L636.3 575.6 L636.8 575.6 L637.2 575.7 L637.7 575.7 L638.2 575.7 L638.7 575.8 L639.1 575.8M652.9 576.8 L653.1 576.8 L653.6 576.9 L654.1 576.9 L654.6 576.9 L655.1 577 L655.6 577 L656.1 577 L656.6 577 L657.1 577.1 L657.6 577.1 L658.1 577.1 L658.6 577.1 L659.1 577.2 L659.6 577.2 L660.1 577.2 L660.6 577.2 L661.1 577.2 L661.6 577.3 L662.1 577.3 L662.6 577.3 L663.1 577.3 L663.6 577.3 L664.1 577.4 L664.6 577.4 L665.1 577.4 L665.6 577.4 L666.1 577.4 L666.6 577.4 L667.1 577.5 L667.6 577.5 L668.1 577.5 L668.4 577.5M682.3 577.7 L682.3 577.7 L682.8 577.7 L683.3 577.7 L683.8 577.7 L684.3 577.7 L684.8 577.7 L685.3 577.7 L685.8 577.7 L686.3 577.7 L686.8 577.6 L687.3 577.6 L687.8 577.6 L688.4 577.6 L688.9 577.6 L689.4 577.6 L689.9 577.6 L690.4 577.6 L690.9 577.6 L691.4 577.6 L691.9 577.6 L692.4 577.6 L692.9 577.5 L693.4 577.5 L693.9 577.5 L694.5 577.5 L695 577.5 L695.5 577.5 L696 577.5 L696.5 577.4 L697 577.4 L697.5 577.4 L697.8 577.4" stroke="#e60a18" stroke-width="4.2" stroke-linecap="round"/>
<path d="M104.2 569.7 L104.2 569.7 L104.7 569.6 L105.1 569.5 L105.6 569.4 L106.1 569.3 L106.6 569.3 L107.1 569.2 L107.5 569.1 L108 569 L108.5 568.9 L109 568.8 L109.5 568.7 L109.9 568.6 L110.4 568.5 L110.9 568.4 L111.4 568.3 L111.9 568.2 L112.3 568.1 L112.8 568 L113.3 567.9 L113.8 567.7 L114.3 567.6 L114.7 567.5 L115.2 567.4 L115.7 567.3 L116.2 567.2 L116.6 567 L117.1 566.9 L117.6 566.8 L118.1 566.7 L118.6 566.5 L119 566.4 L119.5 566.3M127.8 563.7 L128 563.7 L128.5 563.5 L129 563.3 L129.4 563.2 L129.9 563 L130.4 562.9 L130.8 562.7 L131.3 562.5 L131.8 562.4 L132.2 562.2 L132.7 562 L133.2 561.8 L133.6 561.7 L134.1 561.5 L134.6 561.3 L135 561.1 L135.5 560.9 L136 560.8 L136.4 560.6 L136.9 560.4 L137.4 560.2 L137.8 560 L138.3 559.8 L138.7 559.6 L139.2 559.4 L139.7 559.3 L140.1 559.1 L140.6 558.9 L141 558.7 L141.5 558.5 L142 558.3 L142.4 558.1 L142.9 557.9 L143.3 557.7 L143.6 557.5M151.5 553.7 L151.9 553.5 L152.4 553.3 L152.8 553.1 L153.3 552.8 L153.7 552.6 L154.2 552.3 L154.6 552.1 L155 551.9 L155.5 551.6 L155.9 551.4 L156.4 551.1 L156.8 550.9 L157.3 550.7 L157.7 550.4 L158.1 550.2 L158.6 549.9 L159 549.7 L159.4 549.4 L159.9 549.2 L160.3 548.9 L160.8 548.7 L161.2 548.4 L161.6 548.1 L162.1 547.9 L162.5 547.6 L162.9 547.4 L163.4 547.1 L163.8 546.8 L164.2 546.6 L164.6 546.3 L165.1 546 L165.5 545.8 L165.9 545.5 L166.3 545.3M173.6 540.4 L173.9 540.2 L174.3 539.9 L174.7 539.6 L175.1 539.3 L175.6 539 L176 538.7 L176.4 538.4 L176.8 538.1 L177.2 537.8 L177.6 537.5 L178 537.2 L178.4 536.9 L178.8 536.6 L179.2 536.3 L179.6 536 L180 535.7 L180.4 535.4 L180.8 535.1 L181.2 534.8 L181.6 534.5 L182 534.1 L182.4 533.8 L182.8 533.5 L183.2 533.2 L183.6 532.9 L184 532.6 L184.4 532.3 L184.8 531.9 L185.2 531.6 L185.6 531.3 L185.9 531 L186.3 530.6 L186.7 530.3 L187 530.1M195.7 522.2 L196.1 521.9 L196.4 521.6 L196.8 521.2 L197.2 520.9 L197.5 520.5 L197.9 520.2 L198.2 519.8 L198.6 519.5 L199 519.1 L199.3 518.7 L199.7 518.4 L200 518 L200.4 517.7 L200.7 517.3 L201.1 517 L201.4 516.6 L201.8 516.2 L202.1 515.9 L202.4 515.5 L202.8 515.1 L203.1 514.8 L203.5 514.4 L203.8 514 L204.1 513.7 L204.5 513.3 L204.8 512.9 L205.2 512.6 L205.5 512.2 L205.8 511.8 L206.2 511.5 L206.5 511.1 L206.8 510.7 L207.1 510.3 L207.5 510 L207.5 510M218.9 495.6 L218.9 495.6 L219.2 495.2 L219.5 494.8 L219.8 494.4 L220.1 494 L220.4 493.5 L220.7 493.1 L221 492.7 L221.2 492.3 L221.5 491.9 L221.8 491.5 L222.1 491.1 L222.4 490.7 L222.6 490.3 L222.9 489.9 L223.2 489.5 L223.5 489 L223.8 488.6 L224 488.2 L224.3 487.8 L224.6 487.4 L224.9 487 L225.1 486.6 L225.4 486.1 L225.7 485.7 L225.9 485.3 L226.2 484.9 L226.5 484.5 L226.7 484.1 L227 483.6 L227.3 483.2 L227.5 482.8 L227.8 482.4 L228.1 482 L228.3 481.5 L228.4 481.5M237 466.5 L237 466.4 L237.2 466 L237.5 465.6 L237.7 465.1 L237.9 464.7 L238.2 464.2 L238.4 463.8 L238.6 463.3 L238.9 462.9 L239.1 462.5 L239.3 462 L239.5 461.6 L239.8 461.1 L240 460.7 L240.2 460.2 L240.4 459.8 L240.7 459.3 L240.9 458.9 L241.1 458.5 L241.3 458 L241.6 457.6 L241.8 457.1 L242 456.7 L242.2 456.2 L242.4 455.8 L242.7 455.3 L242.9 454.9 L243.1 454.4 L243.3 454 L243.5 453.5 L243.7 453.1 L243.9 452.6 L244.2 452.2 L244.4 451.7 L244.6 451.3 L244.6 451.2M253.5 430.6 L253.5 430.6 L253.7 430.2 L253.8 429.7 L254 429.2 L254.2 428.8 L254.4 428.3 L254.6 427.8 L254.8 427.4 L254.9 426.9 L255.1 426.4 L255.3 426 L255.5 425.5 L255.7 425.1 L255.8 424.6 L256 424.1 L256.2 423.7 L256.4 423.2 L256.5 422.7 L256.7 422.3 L256.9 421.8 L257.1 421.3 L257.2 420.9 L257.4 420.4 L257.6 419.9 L257.8 419.5 L257.9 419 L258.1 418.5 L258.3 418.1 L258.5 417.6 L258.6 417.1 L258.8 416.7 L259 416.2 L259.1 415.7 L259.3 415.3 L259.5 414.8 L259.5 414.8M265.3 397.9 L265.3 397.9 L265.5 397.4 L265.6 396.9 L265.8 396.4 L265.9 396 L266.1 395.5 L266.2 395 L266.4 394.5 L266.5 394.1 L266.7 393.6 L266.9 393.1 L267 392.7 L267.2 392.2 L267.3 391.7 L267.5 391.2 L267.6 390.8 L267.8 390.3 L267.9 389.8 L268.1 389.3 L268.2 388.9 L268.4 388.4 L268.5 387.9 L268.7 387.4 L268.8 387 L269 386.5 L269.1 386 L269.3 385.5 L269.4 385 L269.6 384.6 L269.7 384.1 L269.9 383.6 L270 383.1 L270.2 382.7 L270.3 382.2 L270.5 381.7 L270.5 381.7M276.5 361.4 L276.6 361 L276.8 360.5 L276.9 360 L277.1 359.5 L277.2 359.1 L277.3 358.6 L277.5 358.1 L277.6 357.6 L277.8 357.1 L277.9 356.6 L278 356.1 L278.2 355.7 L278.3 355.2 L278.5 354.7 L278.6 354.2 L278.7 353.7 L278.9 353.2 L279 352.7 L279.2 352.2 L279.3 351.8 L279.4 351.3 L279.6 350.8 L279.7 350.3 L279.9 349.8 L280 349.3 L280.2 348.8 L280.3 348.3 L280.4 347.8 L280.6 347.4 L280.7 346.9 L280.9 346.4 L281 345.9 L281.1 345.4 L281.2 345.1M287.1 327 L287.2 326.5 L287.4 326.1 L287.6 325.6 L287.8 325.1 L287.9 324.6 L288.1 324.2 L288.3 323.7 L288.5 323.2 L288.7 322.8 L288.9 322.3 L289 321.8 L289.2 321.4 L289.4 320.9 L289.6 320.4 L289.8 320 L290 319.5 L290.2 319.1 L290.4 318.6 L290.6 318.1 L290.8 317.7 L291 317.2 L291.2 316.8 L291.4 316.3 L291.6 315.9 L291.8 315.4 L292.1 314.9 L292.3 314.5 L292.5 314 L292.7 313.6 L292.9 313.2 L293.1 312.7 L293.4 312.3 L293.6 311.8 L293.8 311.4 L293.8 311.4M303.7 296.4 L304 296 L304.3 295.7 L304.6 295.3 L304.9 294.9 L305.3 294.5 L305.6 294.1 L305.9 293.8 L306.3 293.4 L306.6 293 L307 292.7 L307.3 292.3 L307.7 291.9 L308 291.6 L308.4 291.2 L308.8 290.9 L309.1 290.5 L309.5 290.2 L309.9 289.8 L310.3 289.5 L310.6 289.1 L311 288.8 L311.4 288.5 L311.8 288.2 L312.2 287.9 L312.6 287.6 L313 287.3 L313.4 287 L313.8 286.7 L314.2 286.5 L314.6 286.2 L315 286 L315.4 285.8 L315.8 285.6 L316.2 285.4 L316.4 285.3M329.1 289.3 L329.3 289.4 L329.7 289.8 L330 290.2 L330.4 290.6 L330.8 291 L331.2 291.4 L331.6 291.8 L331.9 292.2 L332.3 292.6 L332.6 293.1 L333 293.5 L333.4 293.9 L333.7 294.3 L334.1 294.8 L334.4 295.2 L334.7 295.7 L335.1 296.1 L335.4 296.5 L335.7 297 L336 297.4 L336.4 297.9 L336.7 298.3 L337 298.7 L337.3 299.2 L337.6 299.6 L337.9 300.1 L338.2 300.5 L338.5 301 L338.8 301.4 L339 301.9 L339.3 302.3 L339.5 302.7M348.8 322.1 L348.8 322.1 L349 322.5 L349.2 323 L349.4 323.5 L349.6 324 L349.7 324.4 L349.9 324.9 L350.1 325.4 L350.3 325.8 L350.4 326.3 L350.6 326.8 L350.8 327.2 L351 327.7 L351.1 328.2 L351.3 328.6 L351.5 329.1 L351.6 329.6 L351.8 330 L352 330.5 L352.1 331 L352.3 331.5 L352.5 331.9 L352.6 332.4 L352.8 332.9 L353 333.3 L353.2 333.8 L353.3 334.3 L353.5 334.7 L353.7 335.2 L353.8 335.7 L354 336.2 L354.2 336.6 L354.3 337.1 L354.5 337.6 L354.7 338 L354.7 338.1M361.9 358.6 L361.9 358.7 L362 359.2 L362.2 359.6 L362.4 360.1 L362.5 360.6 L362.7 361 L362.9 361.5 L363 362 L363.2 362.5 L363.3 362.9 L363.5 363.4 L363.7 363.9 L363.8 364.3 L364 364.8 L364.2 365.3 L364.3 365.7 L364.5 366.2 L364.6 366.7 L364.8 367.2 L365 367.6 L365.1 368.1 L365.3 368.6 L365.5 369 L365.6 369.5 L365.8 370 L365.9 370.4 L366.1 370.9 L366.3 371.4 L366.4 371.8 L366.6 372.3 L366.7 372.8 L366.9 373.3 L367.1 373.7 L367.2 374.2 L367.4 374.7 L367.4 374.7M374.3 394.3 L374.3 394.3 L374.5 394.8 L374.7 395.3 L374.8 395.7 L375 396.2 L375.2 396.7 L375.3 397.1 L375.5 397.6 L375.7 398.1 L375.8 398.5 L376 399 L376.2 399.5 L376.3 399.9 L376.5 400.4 L376.7 400.9 L376.9 401.3 L377 401.8 L377.2 402.3 L377.4 402.7 L377.5 403.2 L377.7 403.7 L377.9 404.1 L378.1 404.6 L378.2 405.1 L378.4 405.5 L378.6 406 L378.7 406.5 L378.9 406.9 L379.1 407.4 L379.3 407.9 L379.4 408.3 L379.6 408.8 L379.8 409.3 L380 409.7 L380.1 410.2 L380.1 410.2M387.5 429.2 L387.5 429.2 L387.7 429.6 L387.9 430.1 L388.1 430.6 L388.3 431 L388.5 431.5 L388.7 432 L388.9 432.4 L389.1 432.9 L389.3 433.3 L389.4 433.8 L389.6 434.3 L389.8 434.7 L390 435.2 L390.2 435.6 L390.4 436.1 L390.6 436.6 L390.8 437 L391 437.5 L391.2 437.9 L391.4 438.4 L391.6 438.9 L391.8 439.3 L392 439.8 L392.2 440.2 L392.4 440.7 L392.6 441.2 L392.8 441.6 L393 442.1 L393.2 442.5 L393.4 443 L393.6 443.4 L393.8 443.9 L394 444.4 L394.2 444.8 L394.2 444.8M402.2 462.2 L402.4 462.6 L402.6 463 L402.9 463.5 L403.1 463.9 L403.3 464.4 L403.5 464.9 L403.8 465.3 L404 465.8 L404.2 466.2 L404.4 466.7 L404.7 467.1 L404.9 467.6 L405.1 468 L405.4 468.5 L405.6 468.9 L405.8 469.4 L406 469.8 L406.3 470.3 L406.5 470.7 L406.7 471.2 L407 471.6 L407.2 472.1 L407.4 472.5 L407.7 473 L407.9 473.4 L408.2 473.9 L408.4 474.3 L408.6 474.8 L408.9 475.2 L409.1 475.7 L409.4 476.1 L409.6 476.6 L409.8 477 L410 477.3M419.9 494.2 L420.1 494.6 L420.4 495 L420.6 495.4 L420.9 495.8 L421.2 496.3 L421.4 496.7 L421.7 497.1 L422 497.5 L422.3 498 L422.6 498.4 L422.8 498.8 L423.1 499.2 L423.4 499.6 L423.7 500.1 L424 500.5 L424.2 500.9 L424.5 501.3 L424.8 501.7 L425.1 502.2 L425.4 502.6 L425.7 503 L426 503.4 L426.3 503.8 L426.6 504.2 L426.8 504.6 L427.1 505 L427.4 505.4 L427.7 505.9 L428 506.3 L428.3 506.7 L428.6 507.1 L428.9 507.5 L429.2 507.9 L429.5 508.2M440.6 521.6 L440.6 521.7 L441 522.1 L441.3 522.4 L441.6 522.8 L442 523.2 L442.3 523.5 L442.7 523.9 L443 524.2 L443.3 524.6 L443.7 524.9 L444 525.3 L444.4 525.6 L444.7 526 L445.1 526.3 L445.4 526.7 L445.8 527 L446.1 527.4 L446.5 527.7 L446.8 528 L447.2 528.4 L447.6 528.7 L447.9 529.1 L448.3 529.4 L448.6 529.7 L449 530.1 L449.4 530.4 L449.7 530.7 L450.1 531 L450.5 531.4 L450.8 531.7 L451.2 532 L451.6 532.3 L451.9 532.7 L452.3 533 L452.7 533.3 L452.8 533.4M463.9 541.7 L464 541.8 L464.5 542 L464.9 542.3 L465.3 542.6 L465.7 542.8 L466.1 543.1 L466.5 543.3 L466.9 543.6 L467.4 543.8 L467.8 544.1 L468.2 544.3 L468.6 544.6 L469.1 544.8 L469.5 545.1 L469.9 545.3 L470.3 545.6 L470.8 545.8 L471.2 546 L471.6 546.3 L472.1 546.5 L472.5 546.7 L472.9 547 L473.4 547.2 L473.8 547.4 L474.3 547.6 L474.7 547.9 L475.2 548.1 L475.6 548.3 L476 548.5 L476.5 548.7 L476.9 548.9 L477.4 549.1 L477.8 549.3 L478.3 549.6 L478.7 549.8 L478.8 549.8M490 554.2 L490.4 554.4 L490.9 554.5 L491.3 554.7 L491.8 554.9 L492.3 555 L492.8 555.2 L493.3 555.3 L493.7 555.5 L494.2 555.7 L494.7 555.8 L495.2 556 L495.7 556.1 L496.2 556.3 L496.7 556.4 L497.1 556.6 L497.6 556.7 L498.1 556.9 L498.6 557 L499.1 557.2 L499.6 557.3 L500.1 557.4 L500.6 557.6 L501 557.7 L501.5 557.9 L502 558 L502.5 558.1 L503 558.3 L503.5 558.4 L504 558.5 L504.5 558.7 L505 558.8 L505.5 558.9 L506 559.1 L506.3 559.2M521.5 562.8 L521.9 562.9 L522.4 563 L522.9 563.1 L523.4 563.2 L523.9 563.3 L524.4 563.4 L524.9 563.6 L525.4 563.7 L525.9 563.8 L526.4 563.9 L526.9 564 L527.3 564.1 L527.8 564.2 L528.3 564.3 L528.8 564.4 L529.3 564.5 L529.8 564.6 L530.3 564.7 L530.8 564.8 L531.3 564.9 L531.8 565.1 L532.3 565.2 L532.8 565.3 L533.3 565.4 L533.8 565.5 L534.3 565.6 L534.7 565.7 L535.2 565.8 L535.7 565.9 L536.2 566 L536.7 566.1 L537.2 566.2 L537.7 566.3 L538.1 566.4M557 570.2 L557.1 570.2 L557.6 570.3 L558.1 570.4 L558.5 570.4 L559 570.5 L559.5 570.6 L560 570.7 L560.5 570.8 L561 570.9 L561.5 570.9 L561.9 571 L562.4 571.1 L562.9 571.2 L563.4 571.3 L563.9 571.3 L564.4 571.4 L564.9 571.5 L565.3 571.6 L565.8 571.7 L566.3 571.7 L566.8 571.8 L567.3 571.9 L567.8 571.9 L568.3 572 L568.8 572.1 L569.2 572.2 L569.7 572.2 L570.2 572.3 L570.7 572.4 L571.2 572.4 L571.7 572.5 L572.2 572.6 L572.7 572.6 L573.2 572.7 L573.7 572.8 L573.8 572.8M587.9 574.3 L588 574.3 L588.5 574.4 L588.9 574.4 L589.4 574.5 L589.9 574.5 L590.4 574.6 L590.9 574.6 L591.4 574.6 L591.9 574.7 L592.4 574.7 L592.9 574.8 L593.4 574.8 L593.9 574.9 L594.4 574.9 L594.9 574.9 L595.4 575 L595.9 575 L596.4 575 L596.9 575.1 L597.4 575.1 L597.9 575.1 L598.4 575.2 L598.9 575.2 L599.4 575.3 L599.9 575.3 L600.4 575.3 L600.9 575.4 L601.4 575.4 L601.9 575.4 L602.4 575.4 L602.9 575.5 L603.4 575.5 L603.9 575.5 L604.4 575.6 L604.9 575.6M619.1 576.3 L619.4 576.3 L619.9 576.3 L620.4 576.3 L620.9 576.3 L621.4 576.3 L621.9 576.4 L622.4 576.4 L622.9 576.4 L623.4 576.4 L623.9 576.4 L624.4 576.4 L625 576.5 L625.5 576.5 L626 576.5 L626.5 576.5 L627 576.5 L627.5 576.5 L628 576.5 L628.5 576.6 L629 576.6 L629.5 576.6 L630 576.6 L630.5 576.6 L631 576.6 L631.5 576.6 L632 576.6 L632.5 576.7 L633 576.7 L633.5 576.7 L634 576.7 L634.5 576.7 L635 576.7 L635.5 576.7 L636 576.7 L636.1 576.7M650.4 577 L650.6 577 L651.1 577 L651.6 577 L652.1 577 L652.6 577 L653.1 577 L653.6 577 L654.1 577 L654.6 577 L655.1 577 L655.6 577 L656.1 577 L656.6 577 L657.2 577 L657.7 577.1 L658.2 577.1 L658.7 577.1 L659.2 577.1 L659.7 577.1 L660.2 577.1 L660.7 577.1 L661.2 577.1 L661.7 577.1 L662.2 577.1 L662.7 577.1 L663.2 577.1 L663.7 577.1 L664.2 577.1 L664.7 577.1 L665.2 577.2 L665.7 577.2 L666.2 577.2 L666.7 577.2 L667.2 577.2 L667.4 577.2M681.6 577.4 L681.7 577.4 L682.2 577.4 L682.7 577.5 L683.2 577.5 L683.7 577.5 L684.2 577.5 L684.7 577.5 L685.2 577.5 L685.6 577.5 L686.1 577.5 L686.6 577.6 L687.1 577.6 L687.6 577.6 L688.1 577.6 L688.6 577.6 L689.1 577.6 L689.6 577.6 L690.1 577.7 L690.6 577.7 L691.1 577.7 L691.6 577.7 L692.1 577.7 L692.6 577.7 L693.1 577.7 L693.6 577.8 L694.1 577.8 L694.6 577.8 L695.1 577.8 L695.5 577.8 L696 577.9 L696.5 577.9 L697 577.9 L697.5 577.9 L698 577.9 L698.5 577.9 L698.6 578" stroke="#6ab42d" stroke-width="4.2" stroke-linecap="round"/>
<path d="M104 569.5 L104 569.5 L104.5 569.4 L105 569.3 L105.5 569.2 L106 569.2 L106.5 569.1 L106.8 569M123.3 565.7 L123.4 565.6 L123.9 565.5 L124.4 565.4 L124.8 565.3 L125.3 565.2 L125.8 565.1 L126.3 564.9 L126.8 564.8 L127.3 564.7 L127.7 564.6 L128.2 564.4 L128.7 564.3 L129.2 564.2 L129.7 564.1 L130.2 563.9 L130.6 563.8 L131.1 563.7 L131.6 563.6 L132.1 563.4 L132.6 563.3 L133 563.2 L133.5 563 L134 562.9 L134.5 562.8 L134.9 562.6 L135.4 562.5 L135.9 562.4 L136.4 562.2 L136.4 562.2M152.5 557.2 L152.8 557.1 L153.3 556.9 L153.8 556.7 L154.2 556.6 L154.7 556.4 L155.2 556.3 L155.6 556.1 L156.1 556 L156.6 555.8 L157 555.6 L157.5 555.5 L158 555.3 L158.4 555.2 L158.9 555 L159.4 554.8 L159.8 554.7 L160.3 554.5 L160.8 554.3 L161.2 554.2 L161.7 554 L162.2 553.8 L162.6 553.7 L163.1 553.5 L163.6 553.4 L164 553.2 L164.5 553 L165 552.9 L165.3 552.7M181.2 547 L181.4 546.9 L181.8 546.7 L182.3 546.6 L182.8 546.4 L183.2 546.2 L183.7 546 L184.2 545.9 L184.7 545.7 L185.1 545.5 L185.6 545.3 L186.1 545.2 L186.5 545 L187 544.8 L187.5 544.6 L188 544.5 L188.4 544.3 L188.9 544.1 L189.4 544 L189.9 543.8 L190.4 543.6 L190.8 543.4 L191.3 543.3 L191.8 543.1 L192.3 542.9 L192.7 542.7 L193.2 542.6 L193.7 542.4 L193.8 542.3M207.4 537.2 L207.5 537.1 L208 537 L208.4 536.8 L208.9 536.6 L209.4 536.4 L209.8 536.2 L210.3 536 L210.8 535.8 L211.3 535.6 L211.7 535.4 L212.2 535.2 L212.7 535 L213.1 534.8 L213.6 534.6 L214 534.4 L214.5 534.2 L215 534 L215.4 533.8 L215.9 533.6 L216.3 533.4 L216.8 533.2 L217.3 532.9 L217.7 532.7 L218.2 532.5 L218.6 532.3 L219.1 532.1 L219.5 531.9 L219.7 531.8M233.5 524.1 L233.8 523.9 L234.2 523.6 L234.6 523.3 L235 523 L235.4 522.7 L235.8 522.5 L236.2 522.2 L236.6 521.9 L237 521.6 L237.4 521.3 L237.8 521 L238.2 520.7 L238.6 520.4 L239 520.1 L239.4 519.8 L239.8 519.5 L240.1 519.2 L240.5 518.9 L240.9 518.6 L241.3 518.3 L241.6 518 L242 517.7 L242.4 517.4 L242.8 517.1 L243.1 516.7 L243.5 516.4 L243.9 516.1 L244.2 515.8M259.8 499.5 L259.9 499.3 L260.3 498.9 L260.6 498.5 L260.9 498.2 L261.2 497.8 L261.5 497.4 L261.9 497 L262.2 496.6 L262.5 496.2 L262.8 495.8 L263.2 495.5 L263.5 495.1 L263.8 494.7 L264.1 494.3 L264.4 493.9 L264.8 493.5 L265.1 493.1 L265.4 492.7 L265.7 492.3 L266.1 491.9 L266.4 491.5 L266.7 491.1 L267 490.8 L267.3 490.4 L267.7 490 L268 489.6 L268.3 489.2 L268.4 489.1M283.7 471.2 L284 470.8 L284.4 470.4 L284.7 470.1 L285.1 469.7 L285.4 469.3 L285.8 468.9 L286.2 468.5 L286.5 468.2 L286.9 467.8 L287.3 467.4 L287.6 467.1 L288 466.7 L288.4 466.3 L288.7 466 L289.1 465.6 L289.5 465.2 L289.9 464.9 L290.2 464.5 L290.6 464.1 L291 463.8 L291.4 463.4 L291.8 463.1 L292.2 462.7 L292.5 462.3 L292.9 462 L293.3 461.7M304.6 453.6 L304.8 453.5 L305.2 453.3 L305.7 453.1 L306.1 452.9 L306.5 452.7 L307 452.6 L307.4 452.4 L307.9 452.2 L308.3 452.1 L308.7 452 L309.2 451.8 L309.6 451.7 L310.1 451.6 L310.5 451.5 L311 451.4 L311.4 451.3 L311.8 451.2 L312.3 451.2 L312.7 451.1 L313.2 451.1 L313.7 451 L314.1 451 L314.6 451 L315 451 L315.5 451 L315.9 451 L316.4 451 L316.8 451 L317.3 451.1 L317.7 451.1M332.7 456.2 L332.8 456.2 L333.3 456.5 L333.7 456.7 L334.2 457 L334.6 457.2 L335.1 457.5 L335.5 457.7 L335.9 458 L336.4 458.2 L336.8 458.5 L337.2 458.8 L337.7 459.1 L338.1 459.3 L338.5 459.6 L339 459.9 L339.4 460.2 L339.8 460.5 L340.2 460.7 L340.7 461 L341.1 461.3 L341.5 461.6 L341.9 461.9 L342.3 462.2 L342.7 462.5 L343.1 462.8 L343.5 463.1 L343.9 463.4 L344.1 463.5M360.3 478.1 L360.4 478.2 L360.8 478.6 L361.1 479 L361.5 479.3 L361.8 479.7 L362.2 480.1 L362.5 480.4 L362.8 480.8 L363.2 481.2 L363.5 481.5 L363.9 481.9 L364.2 482.3 L364.6 482.7 L364.9 483 L365.2 483.4 L365.6 483.8 L365.9 484.2 L366.2 484.5 L366.6 484.9 L366.9 485.3 L367.2 485.7 L367.6 486.1 L367.9 486.4 L368.2 486.8 L368.6 487.2 L368.9 487.6 L369.2 488 L369.4 488.1M380.2 501 L380.3 501.2 L380.6 501.6 L381 501.9 L381.3 502.3 L381.6 502.7 L381.9 503.1 L382.3 503.5 L382.6 503.9 L382.9 504.3 L383.2 504.7 L383.5 505.1 L383.9 505.4 L384.2 505.8 L384.5 506.2 L384.8 506.6 L385.2 507 L385.5 507.4 L385.8 507.8 L386.2 508.1 L386.5 508.5 L386.8 508.9 L387.1 509.3 L387.5 509.7 L387.8 510.1 L388.1 510.4 L388.5 510.8 L388.8 511.2 L388.9 511.4M400.9 524.2 L401.1 524.4 L401.5 524.7 L401.8 525.1 L402.2 525.4 L402.5 525.7 L402.9 526.1 L403.3 526.4 L403.6 526.8 L404 527.1 L404.4 527.4 L404.7 527.8 L405.1 528.1 L405.5 528.4 L405.8 528.8 L406.2 529.1 L406.6 529.4 L407 529.7 L407.3 530.1 L407.7 530.4 L408.1 530.7 L408.5 531 L408.9 531.3 L409.2 531.7 L409.6 532 L410 532.3 L410.4 532.6 L410.8 532.9 L411 533.1M433.1 547.4 L433.3 547.6 L433.8 547.8 L434.2 548 L434.6 548.2 L435.1 548.5 L435.5 548.7 L436 548.9 L436.4 549.2 L436.9 549.4 L437.3 549.6 L437.8 549.8 L438.2 550 L438.7 550.3 L439.1 550.5 L439.6 550.7 L440 550.9 L440.5 551.1 L440.9 551.3 L441.4 551.6 L441.9 551.8 L442.3 552 L442.8 552.2 L443.2 552.4 L443.7 552.6 L444.1 552.8 L444.6 553 L445.1 553.2 L445.3 553.3M470.9 562.4 L471.1 562.4 L471.6 562.6 L472.1 562.7 L472.6 562.8 L473.1 563 L473.6 563.1 L474.1 563.2 L474.5 563.4 L475 563.5 L475.5 563.6 L476 563.7 L476.5 563.9 L477 564 L477.5 564.1 L477.9 564.2 L478.4 564.4 L478.9 564.5 L479.4 564.6 L479.9 564.7 L480.4 564.8 L480.9 565 L481.4 565.1 L481.8 565.2 L482.3 565.3 L482.8 565.4 L483.3 565.5 L483.8 565.6 L484 565.7M503.1 569.2 L503.4 569.3 L503.9 569.3 L504.4 569.4 L504.9 569.5 L505.4 569.6 L505.9 569.6 L506.4 569.7 L506.9 569.8 L507.4 569.8 L507.8 569.9 L508.3 570 L508.8 570 L509.3 570.1 L509.8 570.2 L510.3 570.2 L510.8 570.3 L511.3 570.3 L511.8 570.4 L512.3 570.5 L512.8 570.5 L513.3 570.6 L513.8 570.6 L514.3 570.7 L514.8 570.8 L515.3 570.8 L515.8 570.9 L516.3 570.9 L516.5 571M535.9 572.6 L536.1 572.6 L536.6 572.7 L537.1 572.7 L537.6 572.7 L538.1 572.8 L538.6 572.8 L539.1 572.8 L539.6 572.8 L540.1 572.9 L540.6 572.9 L541.1 572.9 L541.6 573 L542.1 573 L542.6 573 L543.1 573 L543.6 573.1 L544.1 573.1 L544.6 573.1 L545.1 573.1 L545.6 573.2 L546.1 573.2 L546.6 573.2 L547.1 573.2 L547.6 573.2 L548.1 573.3 L548.6 573.3 L549.1 573.3 L549.4 573.3M568.8 573.9 L569.1 573.9 L569.6 573.9 L570.1 574 L570.6 574 L571.1 574 L571.6 574 L572.1 574 L572.6 574 L573.1 574 L573.6 574 L574.1 574 L574.6 574 L575.1 574.1 L575.6 574.1 L576.1 574.1 L576.6 574.1 L577.1 574.1 L577.6 574.1 L578.1 574.1 L578.6 574.1 L579.1 574.1 L579.6 574.1 L580.1 574.1 L580.6 574.2 L581.1 574.2 L581.6 574.2 L582.1 574.2 L582.3 574.2M601.7 574.6 L602.1 574.6 L602.6 574.6 L603.1 574.6 L603.6 574.6 L604.1 574.6 L604.6 574.6 L605.1 574.6 L605.6 574.6 L606.1 574.7 L606.6 574.7 L607.1 574.7 L607.6 574.7 L608.1 574.7 L608.6 574.7 L609.1 574.7 L609.6 574.8 L610.1 574.8 L610.6 574.8 L611.1 574.8 L611.6 574.8 L612.1 574.8 L612.6 574.8 L613.1 574.9 L613.6 574.9 L614.1 574.9 L614.6 574.9 L615.1 574.9 L615.2 574.9M634.7 575.9 L635.1 575.9 L635.6 575.9 L636.1 576 L636.6 576 L637.1 576 L637.6 576.1 L638.1 576.1 L638.6 576.2 L639.1 576.2 L639.6 576.2 L640.1 576.3 L640.6 576.3 L641.1 576.3 L641.5 576.4 L642 576.4 L642.5 576.5 L643 576.5 L643.5 576.5 L644 576.6 L644.5 576.6 L645 576.7 L645.5 576.7 L646 576.8 L646.5 576.8 L647 576.9 L647.5 576.9 L648 576.9 L648.1 577" stroke="#3444a6" stroke-width="4.2" stroke-linecap="round"/>
<path d="M118.7 568 L118.7 567.9 L119.2 567.9 L119.7 567.8 L120.2 567.7 L120.7 567.6 L121.2 567.5 L121.7 567.4 L122.2 567.3 L122.6 567.2 L123.1 567.1 L123.6 567 L124.1 566.9 L124.6 566.8 L125.1 566.7 L125.6 566.6 L126.1 566.5 L126.6 566.4 L127.1 566.3 L127.6 566.2 L128 566.1 L128.5 566 L129 565.9 L129.5 565.8 L130 565.7 L130.5 565.6 L131 565.5 L131.5 565.4 L132 565.3 L132.5 565.2 L132.9 565.1M148.5 561.6 L148.7 561.6 L149.2 561.5 L149.7 561.4 L150.2 561.3 L150.7 561.2 L151.2 561.1 L151.7 560.9 L152.2 560.8 L152.6 560.7 L153.1 560.6 L153.6 560.5 L154.1 560.4 L154.6 560.3 L155.1 560.2 L155.6 560.1 L156.1 560 L156.6 559.9 L157.1 559.8 L157.6 559.7 L158.1 559.6 L158.6 559.5 L159.1 559.4 L159.6 559.3 L160 559.3 L160.5 559.2 L161 559.1 L161.5 559 L162 558.9 L162.5 558.8 L162.7 558.8M178.6 556.5 L178.8 556.5 L179.3 556.5 L179.8 556.4 L180.3 556.4 L180.8 556.3 L181.3 556.3 L181.8 556.3 L182.3 556.2 L182.8 556.2 L183.3 556.2 L183.8 556.1 L184.3 556.1 L184.8 556.1 L185.3 556.1 L185.8 556 L186.3 556 L186.8 556 L187.3 556 L187.8 556 L188.3 556 L188.8 556 L189.3 556 L189.8 555.9 L190.3 555.9 L190.8 555.9 L191.3 555.9 L191.7 555.9 L192.2 555.9 L192.7 555.9 L193 555.9M207.9 556.4 L208.2 556.4 L208.7 556.4 L209.2 556.4 L209.7 556.4 L210.2 556.5 L210.7 556.5 L211.2 556.5 L211.7 556.5 L212.2 556.5 L212.7 556.5 L213.2 556.5 L213.7 556.6 L214.2 556.6 L214.7 556.6 L215.2 556.6 L215.7 556.6 L216.2 556.6 L216.7 556.6 L217.2 556.6 L217.7 556.6 L218.2 556.6 L218.7 556.6 L219.2 556.6 L219.7 556.6 L220.2 556.6 L220.7 556.6 L221.2 556.7 L221.7 556.7 L222.2 556.7 L222.4 556.7M246.5 556.1 L246.7 556.1 L247.2 556 L247.7 556 L248.2 556 L248.7 556 L249.2 555.9 L249.7 555.9 L250.2 555.9 L250.7 555.9 L251.2 555.9 L251.7 555.8 L252.2 555.8 L252.7 555.8 L253.2 555.8 L253.7 555.7 L254.2 555.7 L254.7 555.7 L255.2 555.7 L255.7 555.6 L256.2 555.6 L256.7 555.6 L257.2 555.6 L257.7 555.5 L258.2 555.5 L258.7 555.5 L259.2 555.5 L259.7 555.5 L260.2 555.4 L260.7 555.4 L261 555.4M275.5 554.7 L275.7 554.7 L276.2 554.7 L276.7 554.6 L277.2 554.6 L277.7 554.6 L278.2 554.6 L278.7 554.6 L279.2 554.5 L279.7 554.5 L280.2 554.5 L280.7 554.5 L281.2 554.5 L281.7 554.4 L282.2 554.4 L282.7 554.4 L283.2 554.4 L283.7 554.4 L284.2 554.4 L284.7 554.3 L285.2 554.3 L285.7 554.3 L286.2 554.3 L286.7 554.3 L287.2 554.3 L287.7 554.2 L288.2 554.2 L288.7 554.2 L289.2 554.2 L289.7 554.2 L290 554.2M307.4 554.1 L307.7 554.1 L308.2 554.1 L308.7 554.1 L309.2 554.1 L309.7 554.1 L310.2 554.1 L310.7 554.1 L311.2 554.2 L311.7 554.2 L312.2 554.2 L312.7 554.2 L313.2 554.2 L313.7 554.2 L314.2 554.3 L314.7 554.3 L315.2 554.3 L315.7 554.3 L316.2 554.3 L316.7 554.4 L317.2 554.4 L317.6 554.4 L318.1 554.4 L318.6 554.5 L319.1 554.5 L319.6 554.5 L320.1 554.5 L320.6 554.6 L321.1 554.6 L321.6 554.6 L321.9 554.6M339.2 556.1 L339.5 556.1 L340 556.2 L340.4 556.3 L340.9 556.3 L341.4 556.4 L341.9 556.4 L342.4 556.5 L342.9 556.5 L343.4 556.6 L343.9 556.6 L344.4 556.7 L344.9 556.8 L345.4 556.8 L345.9 556.9 L346.4 556.9 L346.9 557 L347.4 557.1 L347.9 557.1 L348.4 557.2 L348.8 557.3 L349.3 557.3 L349.8 557.4 L350.3 557.4 L350.8 557.5 L351.3 557.6 L351.8 557.6 L352.3 557.7 L352.8 557.8 L353.3 557.8 L353.6 557.9M377.7 561.5 L378 561.6 L378.5 561.7 L378.9 561.7 L379.4 561.8 L379.9 561.9 L380.4 562 L380.9 562.1 L381.4 562.1 L381.9 562.2 L382.4 562.3 L382.9 562.4 L383.4 562.5 L383.9 562.5 L384.4 562.6 L384.9 562.7 L385.4 562.8 L385.8 562.9 L386.3 562.9 L386.8 563 L387.3 563.1 L387.8 563.2 L388.3 563.3 L388.8 563.4 L389.3 563.4 L389.8 563.5 L390.3 563.6 L390.8 563.7 L391.3 563.8 L391.8 563.8 L392 563.9M416.1 567.7 L416.5 567.8 L416.9 567.9 L417.4 567.9 L417.9 568 L418.4 568.1 L418.9 568.1 L419.4 568.2 L419.9 568.3 L420.4 568.4 L420.9 568.4 L421.4 568.5 L421.9 568.6 L422.4 568.6 L422.9 568.7 L423.4 568.8 L423.9 568.9 L424.4 568.9 L424.9 569 L425.4 569.1 L425.9 569.1 L426.3 569.2 L426.8 569.3 L427.3 569.3 L427.8 569.4 L428.3 569.5 L428.8 569.5 L429.3 569.6 L429.8 569.6 L430.3 569.7 L430.5 569.7M454.8 572.4 L455.1 572.4 L455.6 572.5 L456.1 572.5 L456.6 572.6 L457.1 572.6 L457.6 572.7 L458.1 572.7 L458.6 572.7 L459.1 572.8 L459.6 572.8 L460.1 572.9 L460.6 572.9 L461.1 573 L461.6 573 L462.1 573 L462.6 573.1 L463.1 573.1 L463.6 573.2 L464.1 573.2 L464.6 573.2 L465.1 573.3 L465.6 573.3 L466.1 573.4 L466.6 573.4 L467.1 573.4 L467.6 573.5 L468.1 573.5 L468.6 573.6 L469.1 573.6 L469.2 573.6M493.6 575.1 L494 575.1 L494.5 575.1 L495 575.2 L495.5 575.2 L496 575.2 L496.5 575.2 L497 575.3 L497.5 575.3 L498 575.3 L498.5 575.3 L499 575.3 L499.5 575.4 L500 575.4 L500.5 575.4 L501 575.4 L501.5 575.5 L502 575.5 L502.5 575.5 L503 575.5 L503.5 575.5 L504 575.6 L504.5 575.6 L505 575.6 L505.5 575.6 L506 575.6 L506.5 575.7 L507 575.7 L507.5 575.7 L508 575.7 L508.1 575.7M532.5 576.4 L532.5 576.4 L533 576.4 L533.5 576.4 L534 576.4 L534.5 576.5 L535 576.5 L535.5 576.5 L536 576.5 L536.5 576.5 L537 576.5 L537.5 576.5 L538 576.5 L538.5 576.5 L539 576.5 L539.5 576.5 L540 576.6 L540.5 576.6 L541 576.6 L541.5 576.6 L542 576.6 L542.5 576.6 L543 576.6 L543.5 576.6 L544 576.6 L544.5 576.6 L545 576.6 L545.5 576.6 L546 576.7 L546.5 576.7 L547 576.7M571.4 576.9 L571.6 576.9 L572.1 576.9 L572.6 576.9 L573.1 577 L573.6 577 L574.1 577 L574.6 577 L575.1 577 L575.6 577 L576.1 577 L576.6 577 L577.1 577 L577.6 577 L578.1 577 L578.6 577 L579.1 577 L579.6 577 L580.1 577 L580.6 577 L581.1 577 L581.6 577 L582.1 577 L582.6 577 L583.1 577 L583.6 577 L584.1 577 L584.6 577 L585.1 577 L585.6 577.1 L585.9 577.1M610.3 577.3 L610.6 577.3 L611.1 577.3 L611.6 577.3 L612.1 577.3 L612.6 577.3 L613.1 577.3 L613.6 577.3 L614.1 577.3 L614.6 577.3 L615.1 577.3 L615.6 577.3 L616.1 577.3 L616.6 577.3 L617.1 577.4 L617.6 577.4 L618.1 577.4 L618.6 577.4 L619.1 577.4 L619.6 577.4 L620.1 577.4 L620.6 577.4 L621.1 577.4 L621.6 577.4 L622.1 577.4 L622.6 577.4 L623.1 577.4 L623.6 577.4 L624.1 577.5 L624.6 577.5 L624.8 577.5M649.2 578 L649.5 578 L650 578" stroke="#7cc6df" stroke-width="4.2" stroke-linecap="round"/>
<path d="M104 569.4 L104 569.4 L104.5 569.3 L104.9 569.2 L105.4 569.1 L105.9 569 L106.4 568.9 L106.9 568.8 L107.4 568.7 L107.9 568.6 L108.4 568.5 L108.9 568.4 L109.4 568.3 L109.9 568.2 L110.4 568.1 L110.9 568 L111.4 567.9 L111.9 567.8 L112.4 567.7 L112.9 567.6 L113.3 567.5 L113.8 567.4 L114.3 567.3 L114.8 567.2 L115.3 567.1 L115.8 567M129.5 564.8 L129.7 564.7 L130.2 564.7 L130.7 564.6 L131.2 564.5 L131.7 564.5 L132.2 564.4 L132.7 564.3 L133.1 564.2 L133.6 564.2 L134.1 564.1 L134.6 564 L135.1 564 L135.6 563.9 L136.1 563.9 L136.6 563.8 L137.1 563.7 L137.6 563.7 L138.1 563.6 L138.6 563.5 L139.1 563.5 L139.6 563.4 L140.1 563.4 L140.6 563.3 L141.1 563.2 L141.6 563.2 L142.1 563.1 L142.6 563.1 L143.1 563 L143.6 562.9 L143.9 562.9M157.7 561.6 L157.9 561.6 L158.4 561.5 L158.9 561.5 L159.4 561.5 L159.9 561.4 L160.4 561.4 L160.9 561.3 L161.4 561.3 L161.9 561.3 L162.4 561.2 L162.9 561.2 L163.4 561.2 L163.9 561.1 L164.4 561.1 L164.9 561.1 L165.4 561 L165.9 561 L166.4 561 L166.9 560.9 L167.4 560.9 L167.9 560.9 L168.4 560.9 L168.9 560.8 L169.4 560.8 L169.9 560.8 L170.4 560.7 L170.9 560.7 L171.4 560.7 L171.9 560.7 L172.1 560.6M186 560.1 L186.3 560.1 L186.8 560.1 L187.3 560.1 L187.8 560.1 L188.3 560.1 L188.8 560 L189.3 560 L189.8 560 L190.3 560 L190.8 560 L191.2 560 L191.7 560 L192.2 560 L192.7 560 L193.2 560 L193.7 560 L194.2 560 L194.7 559.9 L195.2 559.9 L195.7 559.9 L196.2 559.9 L196.7 559.9 L197.2 559.9 L197.7 559.9 L198.2 559.9 L198.7 559.9 L199.2 559.9 L199.7 559.9 L200.2 559.9 L200.5 559.9M219.4 560.1 L219.6 560.1 L220.1 560.1 L220.6 560.1 L221.1 560.1 L221.6 560.1 L222.1 560.2 L222.6 560.2 L223.1 560.2 L223.6 560.2 L224.1 560.2 L224.6 560.2 L225.1 560.2 L225.6 560.2 L226.1 560.3 L226.6 560.3 L227.1 560.3 L227.6 560.3 L228.1 560.3 L228.6 560.3 L229.1 560.4 L229.6 560.4 L230.1 560.4 L230.6 560.4 L231.1 560.4 L231.6 560.4 L232.1 560.5 L232.6 560.5 L233.1 560.5 L233.6 560.5 L233.9 560.5M253.8 561.4 L254 561.4 L254.5 561.5 L255 561.5 L255.5 561.5 L256 561.5 L256.5 561.6 L257 561.6 L257.5 561.6 L258 561.7 L258.5 561.7 L259 561.7 L259.5 561.7 L260 561.8 L260.5 561.8 L261 561.8 L261.5 561.9 L262 561.9 L262.5 561.9 L263 561.9 L263.5 562 L264 562 L264.5 562 L265 562.1 L265.5 562.1 L266 562.1 L266.5 562.1 L267 562.2 L267.5 562.2 L268 562.2 L268.3 562.2M282.2 563.1 L282.5 563.1 L283 563.2 L283.5 563.2 L284 563.2 L284.5 563.3 L285 563.3 L285.5 563.3 L286 563.4 L286.5 563.4 L287 563.4 L287.5 563.5 L288 563.5 L288.5 563.5 L289 563.6 L289.5 563.6 L290 563.6 L290.5 563.7 L291 563.7 L291.5 563.7 L292 563.8 L292.5 563.8 L293 563.8 L293.5 563.9 L294 563.9 L294.5 563.9 L295 564 L295.4 564 L295.9 564 L296.4 564.1 L296.7 564.1M310.7 565 L310.9 565 L311.4 565.1 L311.9 565.1 L312.4 565.1 L312.9 565.2 L313.4 565.2 L313.9 565.2 L314.4 565.3 L314.9 565.3 L315.4 565.4 L315.9 565.4 L316.4 565.4 L316.9 565.5 L317.4 565.5 L317.9 565.5 L318.4 565.6 L318.9 565.6 L319.4 565.6 L319.9 565.7 L320.4 565.7 L320.9 565.7 L321.4 565.8 L321.9 565.8 L322.4 565.8 L322.9 565.9 L323.4 565.9 L323.9 565.9 L324.4 566 L324.9 566 L325.1 566M339.1 567 L339.4 567 L339.9 567 L340.4 567.1 L340.9 567.1 L341.4 567.1 L341.9 567.2 L342.4 567.2 L342.9 567.2 L343.4 567.3 L343.9 567.3 L344.4 567.3 L344.9 567.4 L345.3 567.4 L345.8 567.4 L346.3 567.5 L346.8 567.5 L347.3 567.5 L347.8 567.6 L348.3 567.6 L348.8 567.6 L349.3 567.7 L349.8 567.7 L350.3 567.7 L350.8 567.8 L351.3 567.8 L351.8 567.9 L352.3 567.9 L352.8 567.9 L353.3 568 L353.6 568M367.5 568.9 L367.8 568.9 L368.3 569 L368.8 569 L369.3 569 L369.8 569.1 L370.3 569.1 L370.8 569.1 L371.3 569.2 L371.8 569.2 L372.3 569.2 L372.8 569.3 L373.3 569.3 L373.8 569.4 L374.3 569.4 L374.8 569.4 L375.3 569.5 L375.8 569.5 L376.3 569.5 L376.8 569.6 L377.3 569.6 L377.8 569.6 L378.3 569.7 L378.8 569.7 L379.3 569.7 L379.8 569.8 L380.3 569.8 L380.8 569.8 L381.3 569.9 L381.8 569.9 L382 569.9M396 570.8 L396.3 570.9 L396.8 570.9 L397.2 570.9 L397.7 570.9 L398.2 571 L398.7 571 L399.2 571 L399.7 571.1 L400.2 571.1 L400.7 571.1 L401.2 571.2 L401.7 571.2 L402.2 571.2 L402.7 571.3 L403.2 571.3 L403.7 571.3 L404.2 571.4 L404.7 571.4 L405.2 571.4 L405.7 571.5 L406.2 571.5 L406.7 571.5 L407.2 571.6 L407.7 571.6 L408.2 571.6 L408.7 571.7 L409.2 571.7 L409.7 571.7 L410.2 571.8 L410.4 571.8M424.4 572.7 L424.7 572.7 L425.2 572.7 L425.7 572.7 L426.2 572.8 L426.7 572.8 L427.2 572.8 L427.7 572.9 L428.2 572.9 L428.7 572.9 L429.2 572.9 L429.7 573 L430.2 573 L430.7 573 L431.2 573.1 L431.7 573.1 L432.2 573.1 L432.7 573.2 L433.2 573.2 L433.7 573.2 L434.2 573.3 L434.7 573.3 L435.2 573.3 L435.7 573.3 L436.2 573.4 L436.7 573.4 L437.2 573.4 L437.7 573.5 L438.2 573.5 L438.7 573.5 L438.9 573.5M452.8 574.3 L453.2 574.4 L453.7 574.4 L454.2 574.4 L454.6 574.4 L455.1 574.5 L455.6 574.5 L456.1 574.5 L456.6 574.6 L457.1 574.6 L457.6 574.6 L458.1 574.6 L458.6 574.7 L459.1 574.7 L459.6 574.7 L460.1 574.7 L460.6 574.8 L461.1 574.8 L461.6 574.8 L462.1 574.9 L462.6 574.9 L463.1 574.9 L463.6 574.9 L464.1 575 L464.6 575 L465.1 575 L465.6 575 L466.1 575.1 L466.6 575.1 L467.1 575.1 L467.3 575.1M481.3 575.9 L481.6 575.9 L482.1 575.9 L482.6 575.9 L483.1 575.9 L483.6 576 L484.1 576 L484.6 576 L485.1 576 L485.6 576.1 L486.1 576.1 L486.6 576.1 L487.1 576.1 L487.6 576.2 L488.1 576.2 L488.6 576.2 L489.1 576.2 L489.6 576.3 L490.1 576.3 L490.6 576.3 L491.1 576.3 L491.6 576.3 L492.1 576.4 L492.6 576.4 L493.1 576.4 L493.6 576.4 L494.1 576.5 L494.6 576.5 L495.1 576.5 L495.6 576.5 L495.8 576.5M509.8 577.1 L510.1 577.2 L510.6 577.2 L511.1 577.2 L511.6 577.2 L512.1 577.2 L512.6 577.3 L513.1 577.3 L513.6 577.3 L514.1 577.3 L514.6 577.3 L515.1 577.4 L515.6 577.4 L516.1 577.4 L516.6 577.4 L517.1 577.4 L517.6 577.5 L518.1 577.5 L518.6 577.5 L519.1 577.5 L519.6 577.5 L520.1 577.5 L520.6 577.6 L521.1 577.6 L521.6 577.6 L522.1 577.6 L522.6 577.6 L523.1 577.7 L523.6 577.7 L524.1 577.7 L524.3 577.7M538.2 578.2 L538.5 578.2 L539 578.2 L539.5 578.2 L540 578.2 L540.5 578.2 L541 578.3 L541.5 578.3 L542 578.3 L542.5 578.3 L543 578.3 L543.5 578.3 L544 578.3 L544.5 578.4 L545 578.4 L545.5 578.4 L546 578.4 L546.5 578.4 L547 578.4 L547.5 578.4 L548 578.4 L548.5 578.5 L549 578.5 L549.5 578.5 L550 578.5 L550.5 578.5 L551 578.5 L551.5 578.5 L552 578.6 L552.5 578.6 L552.7 578.6M566.7 578.9 L567 578.9 L567.5 578.9 L568 578.9 L568.5 578.9 L569 578.9 L569.5 578.9 L570 578.9 L570.5 578.9 L571 579 L571.5 579 L572 579 L572.5 579 L573 579 L573.5 579 L574 579 L574.5 579 L575 579 L575.5 579 L576 579 L576.5 579 L577 579.1 L577.5 579.1 L578 579.1 L578.5 579.1 L579 579.1 L579.5 579.1 L580 579.1 L580.5 579.1 L581 579.1 L581.2 579.1M595.2 579.2 L595.5 579.2 L596 579.2 L596.5 579.2 L597 579.2 L597.5 579.2 L598 579.2 L598.5 579.3 L599 579.3 L599.5 579.3 L600 579.3 L600.5 579.3 L601 579.3 L601.5 579.3 L602 579.3 L602.5 579.3 L603 579.3 L603.5 579.3 L604 579.3 L604.5 579.3 L605 579.3 L605.5 579.3 L606 579.3 L606.5 579.3 L607 579.3 L607.5 579.3 L608 579.3 L608.5 579.3 L609 579.3 L609.5 579.3 L609.7 579.3M623.7 579.2 L624 579.2 L624.5 579.2 L625 579.2 L625.5 579.2 L626 579.2 L626.5 579.2 L627 579.2 L627.5 579.2 L628 579.1 L628.5 579.1 L629 579.1 L629.5 579.1 L630 579.1 L630.5 579.1 L631 579.1 L631.5 579.1 L632 579.1 L632.5 579.1 L633 579.1 L633.5 579.1 L634 579.1 L634.5 579.1 L635 579.1 L635.5 579 L636 579 L636.5 579 L637 579 L637.5 579 L638 579 L638.2 579" stroke="#b04ea8" stroke-width="4.2" stroke-linecap="round"/>
<path d="M104 567.8 L104 567.8 L104.5 567.7 L105 567.6 L105.5 567.5 L106 567.4 L106.5 567.3 L106.9 567.2 L107.4 567.2 L107.9 567.1 L108.4 567 L108.9 566.9 L109.4 566.8 L109.9 566.7 L110.4 566.6 L110.9 566.5 L111.4 566.4 L111.9 566.3 L112.4 566.3 L112.9 566.2 L113.4 566.1 L113.8 566 L114.1 565.9M127.9 563.8 L128.2 563.8 L128.7 563.7 L129.2 563.6 L129.7 563.6 L130.2 563.5 L130.6 563.4 L131.1 563.4 L131.6 563.3 L132.1 563.2 L132.6 563.2 L133.1 563.1 L133.6 563 L134.1 563 L134.6 562.9 L135.1 562.8 L135.6 562.8 L136.1 562.7 L136.6 562.7 L137.1 562.6 L137.6 562.5 L138.1 562.5 L138.6 562.4 L139.1 562.4 L139.6 562.3 L140 562.2 L140.5 562.2 L141 562.1 L141.5 562.1 L142 562 L142.3 562M156.1 560.5 L156.4 560.5 L156.9 560.4 L157.4 560.4 L157.9 560.3 L158.4 560.3 L158.9 560.2 L159.4 560.2 L159.9 560.1 L160.4 560.1 L160.9 560 L161.4 560 L161.9 559.9 L162.4 559.9 L162.9 559.8 L163.4 559.8 L163.9 559.7 L164.4 559.7 L164.8 559.6 L165.3 559.6 L165.8 559.6 L166.3 559.5 L166.8 559.5 L167.3 559.4 L167.8 559.4 L168.3 559.3 L168.8 559.3 L169.3 559.2 L169.8 559.2 L170.3 559.1 L170.6 559.1M184.5 557.9 L184.7 557.9 L185.2 557.8 L185.7 557.8 L186.2 557.7 L186.7 557.7 L187.2 557.7 L187.7 557.6 L188.2 557.6 L188.7 557.5 L189.2 557.5 L189.7 557.4 L190.2 557.4 L190.7 557.4 L191.2 557.3 L191.7 557.3 L192.2 557.2 L192.7 557.2 L193.2 557.1 L193.7 557.1 L194.2 557.1 L194.7 557 L195.2 557 L195.7 556.9 L196.2 556.9 L196.7 556.8 L197.2 556.8 L197.7 556.7 L198.2 556.7 L198.7 556.7 L198.9 556.6M215.9 555.1 L216.1 555.1 L216.6 555 L217.1 555 L217.6 554.9 L218.1 554.9 L218.6 554.8 L219.1 554.8 L219.6 554.7 L220.1 554.7 L220.6 554.6 L221.1 554.6 L221.6 554.5 L222.1 554.5 L222.6 554.4 L223.1 554.4 L223.6 554.3 L224.1 554.3 L224.6 554.2 L225.1 554.2 L225.6 554.1 L226.1 554.1 L226.6 554 L227.1 554 L227.6 553.9 L228.1 553.8 L228.6 553.8 L229.1 553.7 L229.6 553.7 L230.1 553.6 L230.3 553.6M250.8 551.4 L251 551.3 L251.5 551.3 L252 551.2 L252.5 551.2 L253 551.1 L253.5 551.1 L254 551 L254.5 551 L255 550.9 L255.5 550.8 L256 550.8 L256.5 550.7 L257 550.7 L257.5 550.6 L258 550.6 L258.5 550.5 L259 550.5 L259.5 550.4 L260 550.4 L260.5 550.3 L261 550.3 L261.5 550.2 L262 550.2 L262.5 550.1 L263 550.1 L263.5 550 L264 550 L264.5 549.9 L265 549.9 L265.2 549.8M280.2 548.5 L280.4 548.5 L280.9 548.4 L281.4 548.4 L281.9 548.3 L282.4 548.3 L282.9 548.3 L283.4 548.2 L283.9 548.2 L284.4 548.1 L284.9 548.1 L285.4 548.1 L285.9 548 L286.4 548 L286.9 548 L287.4 547.9 L287.9 547.9 L288.4 547.9 L288.9 547.8 L289.4 547.8 L289.9 547.8 L290.4 547.7 L290.9 547.7 L291.4 547.7 L291.9 547.7 L292.4 547.6 L292.9 547.6 L293.4 547.6 L293.9 547.5 L294.4 547.5 L294.6 547.5M312 547 L312.3 547 L312.8 547 L313.2 547 L313.7 547 L314.2 547 L314.7 547 L315.2 547 L315.7 547 L316.2 547 L316.7 547 L317.2 547 L317.7 547 L318.2 547 L318.7 547 L319.2 547 L319.7 547 L320.2 547 L320.7 547 L321.2 547 L321.7 547 L322.2 547.1 L322.7 547.1 L323.2 547.1 L323.7 547.1 L324.2 547.1 L324.7 547.1 L325.2 547.2 L325.7 547.2 L326.2 547.2 L326.5 547.2M348.2 548.7 L348.4 548.7 L348.9 548.8 L349.4 548.8 L349.9 548.9 L350.4 548.9 L350.9 549 L351.4 549 L351.9 549.1 L352.4 549.1 L352.9 549.2 L353.4 549.2 L353.9 549.3 L354.4 549.3 L354.9 549.4 L355.4 549.4 L355.9 549.5 L356.4 549.6 L356.9 549.6 L357.4 549.7 L357.8 549.7 L358.3 549.8 L358.8 549.9 L359.3 549.9 L359.8 550 L360.3 550 L360.8 550.1 L361.3 550.2 L361.8 550.2 L362.3 550.3 L362.6 550.3M384.1 553.4 L384.5 553.5 L385 553.6 L385.5 553.6 L386 553.7 L386.5 553.8 L387 553.9 L387.5 554 L388 554 L388.5 554.1 L389 554.2 L389.5 554.3 L390 554.4 L390.5 554.4 L391 554.5 L391.5 554.6 L391.9 554.7 L392.4 554.8 L392.9 554.8 L393.4 554.9 L393.9 555 L394.4 555.1 L394.9 555.2 L395.4 555.3 L395.9 555.3 L396.4 555.4 L396.9 555.5 L397.4 555.6 L397.9 555.7 L398.4 555.8 L398.4 555.8M419.9 559.5 L420.1 559.6 L420.6 559.7 L421.1 559.8 L421.6 559.9 L422.1 559.9 L422.6 560 L423.1 560.1 L423.5 560.2 L424 560.3 L424.5 560.4 L425 560.5 L425.5 560.6 L426 560.6 L426.5 560.7 L427 560.8 L427.5 560.9 L428 561 L428.5 561.1 L429 561.2 L429.5 561.3 L430 561.3 L430.5 561.4 L431 561.5 L431.5 561.6 L431.9 561.7 L432.4 561.8 L432.9 561.9 L433.4 561.9 L433.9 562 L434.1 562.1M455.6 565.6 L455.7 565.6 L456.2 565.7 L456.7 565.8 L457.2 565.9 L457.7 565.9 L458.1 566 L458.6 566.1 L459.1 566.2 L459.6 566.2 L460.1 566.3 L460.6 566.4 L461.1 566.5 L461.6 566.5 L462.1 566.6 L462.6 566.7 L463.1 566.8 L463.6 566.8 L464.1 566.9 L464.6 567 L465.1 567.1 L465.6 567.1 L466.1 567.2 L466.6 567.3 L467.1 567.3 L467.6 567.4 L468 567.5 L468.5 567.6 L469 567.6 L469.5 567.7 L470 567.8M491.5 570.6 L491.8 570.6 L492.3 570.6 L492.8 570.7 L493.3 570.8 L493.8 570.8 L494.3 570.9 L494.8 570.9 L495.3 571 L495.8 571.1 L496.3 571.1 L496.8 571.2 L497.3 571.2 L497.8 571.3 L498.3 571.3 L498.8 571.4 L499.3 571.4 L499.8 571.5 L500.3 571.6 L500.8 571.6 L501.3 571.7 L501.8 571.7 L502.3 571.8 L502.7 571.8 L503.2 571.9 L503.7 571.9 L504.2 572 L504.7 572 L505.2 572.1 L505.7 572.1 L505.9 572.2M527.6 574.2 L528.1 574.3 L528.6 574.3 L529.1 574.3 L529.6 574.4 L530.1 574.4 L530.6 574.5 L531.1 574.5 L531.6 574.5 L532.1 574.6 L532.6 574.6 L533.1 574.7 L533.6 574.7 L534.1 574.7 L534.5 574.8 L535 574.8 L535.5 574.9 L536 574.9 L536.5 574.9 L537 575 L537.5 575 L538 575 L538.5 575.1 L539 575.1 L539.5 575.2 L540 575.2 L540.5 575.2 L541 575.3 L541.5 575.3 L542 575.3 L542.1 575.3M563.8 576.7 L563.9 576.7 L564.4 576.7 L564.9 576.7 L565.4 576.7 L565.9 576.8 L566.4 576.8 L566.9 576.8 L567.4 576.8 L567.9 576.9 L568.4 576.9 L568.9 576.9 L569.4 576.9 L569.9 577 L570.4 577 L570.9 577 L571.4 577 L571.9 577 L572.4 577.1 L572.9 577.1 L573.4 577.1 L573.9 577.1 L574.4 577.2 L574.9 577.2 L575.4 577.2 L575.9 577.2 L576.4 577.2 L576.9 577.3 L577.4 577.3 L577.9 577.3 L578.3 577.3M600 577.9 L600.4 577.9 L600.9 578 L601.4 578 L601.9 578 L602.4 578 L602.9 578 L603.4 578 L603.9 578 L604.4 578 L604.9 578 L605.4 578 L605.9 578 L606.4 578.1 L606.9 578.1 L607.4 578.1 L607.9 578.1 L608.4 578.1 L608.9 578.1 L609.4 578.1 L609.9 578.1 L610.4 578.1 L610.9 578.1 L611.4 578.1 L611.9 578.1 L612.4 578.1 L612.9 578.1 L613.4 578.1 L613.9 578.1 L614.4 578.1 L614.5 578.1M636.3 578.1 L636.5 578.1 L637 578.1 L637.5 578.1 L638 578.1 L638.5 578.1 L639 578.1 L639.5 578.1 L640 578.1 L640.5 578.1 L641 578.1 L641.5 578.1 L642 578.1 L642.5 578.1 L643 578 L643.5 578 L644 578 L644.5 578 L645 578 L645.5 578 L646 578 L646.5 578 L647 578 L647.5 578 L648 578 L648.5 578 L649 577.9 L649.5 577.9 L650 577.9" stroke="#ffe500" stroke-width="4.2" stroke-linecap="round"/>
<path d="M237 568.5 L237.5 569.5 L238.1 570.4 L238.8 571.1 L239.5 571.7 L240.3 572.1 L241.2 572.5 L242.1 572.7 L243.1 572.9 L244 573 L245.1 573 L246.1 572.9 L247.2 572.8 L248.2 572.7 L249.3 572.6 L250.4 572.5 L251.5 572.3 L252.5 572.2 L253.6 572 L254.6 571.9 L255.7 571.7 L256.7 571.6 L257.7 571.5 L258.7 571.3 L259.8 571.2 L260.8 571 L261.8 570.9 L262.8 570.8 L263.8 570.6 L264.8 570.5 L265.8 570.4 L266.8 570.2 L267.7 570.1 L268.7 570 L269.7 569.8 L270.7 569.7 L271.7 569.6 L272.6 569.4 L273.6 569.3 L274.6 569.2 L275.5 569.1 L276.5 568.9 L277.5 568.8 L278.4 568.7 L279.4 568.6 L280.4 568.5 L281.3 568.4 L282.3 568.2 L283.3 568.1 L284.2 568 L285.2 567.9 L286.1 567.8 L287.1 567.7 L288.1 567.6 L289.1 567.5 L290 567.4 L291 567.3 L292 567.2 L293 567.1 L293.9 567 L294.9 566.9 L295.9 566.8 L296.9 566.8 L297.9 566.7 L298.9 566.6 L299.9 566.5 L300.8 566.4 L301.8 566.3 L302.8 566.2 L303.8 566.1 L304.8 566 L305.8 566 L306.8 565.9 L307.8 565.8 L308.8 565.7 L309.8 565.6 L310.8 565.4 L311.8 565.3 L312.8 565.2 L313.8 565.1 L314.8 565 L315.8 564.9 L316.8 564.7 L317.8 564.6 L318.8 564.5 L319.8 564.3 L320.8 564.2 L321.8 564 L322.8 563.9 L323.8 563.7 L324.8 563.5 L325.8 563.4 L326.8 563.2 L327.8 563 L328.8 562.8 L329.7 562.6 L330.7 562.4 L331.7 562.2 L332.7 562 L333.7 561.7 L334.7 561.5 L335.7 561.3 L336.7 561.1 L337.6 560.8 L338.6 560.6 L339.6 560.4 L340.6 560.2 L341.6 559.9 L342.6 559.7 L343.5 559.5 L344.5 559.3 L345.5 559.1 L346.5 558.8 L347.5 558.6 L348.4 558.4 L349.4 558.2 L350.4 558 L351.4 557.8 L352.3 557.6 L353.3 557.4 L354.3 557.2 L355.3 557 L356.2 556.9 L357.2 556.7 L358.2 556.6 L359.2 556.4 L360.2 556.3 L361.1 556.1 L362.1 556 L363.1 555.9 L364.1 555.8 L365 555.7 L366 555.6 L367 555.6 L368 555.5 L368.9 555.5 L369.9 555.4 L370.9 555.4 L371.9 555.4 L372.9 555.4 L373.8 555.4 L374.8 555.4 L375.8 555.4 L376.8 555.4 L377.8 555.5 L378.8 555.5 L379.7 555.5 L380.7 555.6 L381.7 555.6 L382.7 555.7 L383.7 555.8 L384.7 555.8 L385.7 555.9 L386.7 556 L387.7 556.1 L388.7 556.1 L389.7 556.2 L390.7 556.3 L391.7 556.4 L392.7 556.5 L393.7 556.6 L394.7 556.7 L395.7 556.8 L396.8 556.9 L397.8 557 L398.8 557.1 L399.8 557.2 L400.9 557.3 L401.9 557.3 L402.9 557.4 L403.9 557.5 L405 557.6 L406 557.7 L407.1 557.7 L408.1 557.8 L409.1 557.9 L410.1 557.9 L411.2 557.9 L412.2 557.9 L413.2 558 L414.2 557.9 L415.3 557.9 L416.3 557.9 L417.3 557.8 L418.3 557.8 L419.3 557.7 L420.3 557.6 L421.3 557.4 L422.2 557.3 L423.2 557.1 L424.2 556.9 L425.1 556.7 L426 556.4 L427 556.2 L427.9 555.9 L428.8 555.5 L429.7 555.2 L430.6 554.8 L431.5 554.4 L432.3 553.9 L433.2 553.5 L434 553 L434.9 552.4 L435.7 551.9 L436.5 551.3 L437.3 550.7 L438.1 550.1 L438.9 549.5 L439.7 548.9 L440.4 548.3 L441.2 547.6 L442 546.9 L442.7 546.3 L443.5 545.6 L444.2 544.9 L444.9 544.3 L445.7 543.6 L446.4 542.9 L447.1 542.2 L447.8 541.5 L448.6 540.8 L449.3 540 L450 539.3 L450.7 538.6 L451.4 537.9 L452 537.1 L452.7 536.4 L453.4 535.7 L454.1 534.9 L454.7 534.2 L455.4 533.4 L456.1 532.7 L456.7 531.9 L457.4 531.1 L458 530.4 L458.7 529.6 L459.3 528.8 L459.9 528 L460.6 527.2 L461.2 526.5 L461.8 525.7 L462.4 524.9 L463 524.1 L463.6 523.3 L464.2 522.5 L464.8 521.7 L465.4 520.9 L466 520.1 L466.6 519.3 L467.2 518.5 L467.8 517.6 L468.4 516.8 L468.9 516 L469.5 515.2 L470.1 514.4 L470.6 513.5 L471.2 512.7 L471.8 511.9 L472.3 511.1 L472.9 510.2 L473.4 509.4 L474 508.6 L474.5 507.7 L475 506.9 L475.6 506 L476.1 505.2 L476.6 504.3 L477.1 503.5 L477.7 502.6 L478.2 501.8 L478.7 500.9 L479.2 500.1 L479.7 499.2 L480.2 498.4 L480.7 497.5 L481.2 496.6 L481.7 495.8 L482.2 494.9 L482.7 494 L483.2 493.2 L483.7 492.3 L484.1 491.4 L484.6 490.6 L485.1 489.7 L485.6 488.8 L486 487.9 L486.5 487 L487 486.2 L487.4 485.3 L487.9 484.4 L488.3 483.5 L488.8 482.6 L489.2 481.7 L489.7 480.8 L490.1 479.9 L490.6 479.1 L491 478.2 L491.4 477.3 L491.9 476.4 L492.3 475.5 L492.7 474.6 L493.2 473.7 L493.6 472.8 L494 471.9 L494.4 471 L494.9 470 L495.3 469.1 L495.7 468.2 L496.1 467.3 L496.5 466.4 L496.9 465.5 L497.3 464.6 L497.7 463.7 L498.1 462.8 L498.5 461.8 L498.9 460.9 L499.3 460 L499.7 459.1 L500.1 458.2 L500.5 457.2 L500.9 456.3 L501.3 455.4 L501.7 454.5 L502 453.6 L502.4 452.6 L502.8 451.7 L503.2 450.8 L503.6 449.9 L503.9 448.9 L504.3 448 L504.7 447.1 L505 446.1 L505.4 445.2 L505.8 444.3 L506.1 443.4 L506.5 442.4 L506.9 441.5 L507.2 440.6 L507.6 439.6 L507.9 438.7 L508.3 437.8 L508.7 436.8 L509 435.9 L509.4 435 L509.7 434 L510.1 433.1 L510.4 432.1 L510.8 431.2 L511.1 430.3 L511.5 429.3 L511.8 428.4 L512.1 427.5 L512.5 426.5 L512.8 425.6 L513.2 424.6 L513.5 423.7 L513.9 422.8 L514.2 421.8 L514.5 420.9 L514.9 419.9 L515.2 419 L515.5 418.1 L515.9 417.1 L516.2 416.2 L516.5 415.2 L516.8 414.3 L517.2 413.3 L517.5 412.4 L517.8 411.5 L518.2 410.5 L518.5 409.6 L518.8 408.6 L519.1 407.7 L519.4 406.7 L519.8 405.8 L520.1 404.8 L520.4 403.9 L520.7 402.9 L521 402 L521.4 401.1 L521.7 400.1 L522 399.2 L522.3 398.2 L522.6 397.3 L522.9 396.3 L523.2 395.4 L523.5 394.4 L523.8 393.5 L524.2 392.5 L524.5 391.6 L524.8 390.6 L525.1 389.7 L525.4 388.7 L525.7 387.8 L526 386.8 L526.3 385.9 L526.6 384.9 L526.9 384 L527.2 383 L527.5 382.1 L527.8 381.1 L528.1 380.2 L528.4 379.2 L528.7 378.2 L529 377.3 L529.3 376.3 L529.6 375.4 L529.9 374.4 L530.2 373.5 L530.5 372.5 L530.8 371.6 L531 370.6 L531.3 369.7 L531.6 368.7 L531.9 367.7 L532.2 366.8 L532.5 365.8 L532.8 364.9 L533.1 363.9 L533.4 363 L533.6 362 L533.9 361.1 L534.2 360.1 L534.5 359.1 L534.8 358.2 L535.1 357.2 L535.4 356.3 L535.6 355.3 L535.9 354.4 L536.2 353.4 L536.5 352.4 L536.8 351.5 L537.1 350.5 L537.3 349.6 L537.6 348.6 L537.9 347.6 L538.2 346.7 L538.5 345.7 L538.7 344.8 L539 343.8 L539.3 342.8 L539.6 341.9 L539.9 340.9 L540.1 340 L540.4 339 L540.7 338 L541 337.1 L541.2 336.1 L541.5 335.2 L541.8 334.2 L542.1 333.2 L542.3 332.3 L542.6 331.3 L542.9 330.4 L543.2 329.4 L543.4 328.4 L543.7 327.5 L544 326.5 L544.3 325.5 L544.5 324.6 L544.8 323.6 L545.1 322.7 L545.4 321.7 L545.6 320.7 L545.9 319.8 L546.2 318.8 L546.4 317.8 L546.7 316.9 L547 315.9 L547.2 315 L547.5 314 L547.8 313 L548 312.1 L548.3 311.1 L548.6 310.1 L548.8 309.2 L549.1 308.2 L549.4 307.2 L549.6 306.3 L549.9 305.3 L550.2 304.3 L550.4 303.4 L550.7 302.4 L550.9 301.5 L551.2 300.5 L551.5 299.5 L551.7 298.6 L552 297.6 L552.2 296.6 L552.5 295.7 L552.8 294.7 L553 293.7 L553.3 292.8 L553.5 291.8 L553.8 290.8 L554 289.9 L554.3 288.9 L554.6 287.9 L554.8 287 L555.1 286 L555.3 285 L555.6 284.1 L555.8 283.1 L556.1 282.1 L556.3 281.1 L556.6 280.2 L556.8 279.2 L557.1 278.2 L557.3 277.3 L557.6 276.3 L557.8 275.3 L558 274.4 L558.3 273.4 L558.5 272.4 L558.8 271.5 L559 270.5 L559.3 269.5 L559.5 268.5 L559.7 267.6 L560 266.6 L560.2 265.6 L560.5 264.7 L560.7 263.7 L560.9 262.7 L561.2 261.7 L561.4 260.8 L561.6 259.8 L561.9 258.8 L562.1 257.9 L562.3 256.9 L562.6 255.9 L562.8 254.9 L563 254 L563.2 253 L563.5 252 L563.7 251 L563.9 250.1 L564.2 249.1 L564.4 248.1 L564.6 247.2 L564.8 246.2 L565 245.2 L565.3 244.2 L565.5 243.3 L565.7 242.3 L565.9 241.3 L566.1 240.3 L566.4 239.4 L566.6 238.4 L566.8 237.4 L567 236.4 L567.2 235.5 L567.4 234.5 L567.6 233.5 L567.8 232.5 L568.1 231.6 L568.3 230.6 L568.5 229.6 L568.7 228.6 L568.9 227.6 L569.1 226.7 L569.3 225.7 L569.5 224.7 L569.7 223.7 L569.9 222.8 L570.1 221.8 L570.3 220.8 L570.5 219.8 L570.7 218.8 L570.9 217.9 L571.1 216.9 L571.3 215.9 L571.5 214.9 L571.7 214 L571.9 213 L572.1 212 L572.3 211 L572.5 210 L572.6 209.1 L572.8 208.1 L573 207.1 L573.2 206.1 L573.4 205.1 L573.6 204.2 L573.8 203.2 L574 202.2 L574.2 201.2 L574.4 200.3 L574.6 199.3 L574.8 198.3 L575 197.3 L575.2 196.3 L575.4 195.4 L575.6 194.4 L575.8 193.4 L576 192.4 L576.2 191.4 L576.4 190.5 L576.6 189.5 L576.8 188.5 L577 187.5 L577.2 186.6 L577.4 185.6 L577.6 184.6 L577.8 183.6 L578 182.6 L578.2 181.7 L578.4 180.7 L578.6 179.7 L578.8 178.7 L579 177.8 L579.2 176.8 L579.5 175.8 L579.7 174.8 L579.9 173.9 L580.1 172.9 L580.3 171.9 L580.5 170.9 L580.8 170 L581 169 L581.2 168 L581.4 167 L581.7 166.1 L581.9 165.1 L582.1 164.1 L582.4 163.2 L582.6 162.2 L582.8 161.2 L583.1 160.2 L583.3 159.3 L583.6 158.3 L583.8 157.3 L584.1 156.4 L584.3 155.4 L584.6 154.4 L584.8 153.5 L585.1 152.5 L585.3 151.5 L585.6 150.6 L585.9 149.6 L586.1 148.6 L586.4 147.7 L586.7 146.7 L587 145.7 L587.2 144.8 L587.5 143.8 L587.8 142.8 L588.1 141.9 L588.4 140.9 L588.7 139.9 L589 139 L589.3 138 L589.6 137.1 L589.9 136.1 L590.2 135.1 L590.5 134.2 L590.8 133.2 L591.1 132.3 L591.4 131.3 L591.7 130.4 L592 129.4 L592.3 128.5 L592.7 127.5 L593 126.6 L593.3 125.6 L593.6 124.7 L594 123.7 L594.3 122.8 L594.6 121.8 L594.9 120.9 L595.3 119.9 L595.6 119 L596 118 L596.3 117.1 L596.6 116.2 L597 115.2 L597.3 114.3 L597.6 113.4 L598 112.4 L598.3 111.5 L598.7 110.6 L599 109.7 L599.3 108.7 L599.7 107.8 L600 106.9 L600.4 106 L600.7 105.1 L601.1 104.1 L601.4 103.2 L601.8 102.3 L602.1 101.4 L602.5 100.5 L602.8 99.6 L603.2 98.7 L603.5 97.8 L603.9 96.9 L604.2 96 L604.6 95.1 L605 94.2 L605.4 93.3 L605.8 92.4 L606.2 91.5 L606.6 90.6 L607.1 89.7 L607.5 88.8 L608 87.9 L608.4 87 L608.9 86.1 L609.4 85.2 L610 84.3 L610.5 83.4 L611.1 82.5 L611.7 81.6 L612.3 80.7 L612.9 79.8 L613.6 78.9 L614.2 78 L614.9 77.2 L615.6 76.3 L616.4 75.5 L617.1 74.7 L617.9 73.9 L618.7 73.2 L619.4 72.6 L620.3 72 L621.1 71.4 L621.9 70.9 L622.7 70.5 L623.6 70.2 L624.4 69.9 L625.3 69.8 L626.2 69.7 L627 69.7 L627.9 69.8 L628.8 70.1 L629.7 70.4 L630.5 70.7 L631.4 71.2 L632.2 71.7 L633.1 72.2 L633.9 72.8 L634.7 73.4 L635.4 74.1 L636.1 74.7 L636.8 75.4 L637.5 76.1 L638.2 76.8 L638.8 77.6 L639.4 78.3 L640 79.1 L640.6 79.9 L641.2 80.7 L641.7 81.5 L642.2 82.4 L642.7 83.2 L643.2 84.1 L643.7 85 L644.2 85.8 L644.6 86.7 L645.1 87.6 L645.5 88.5 L646 89.4 L646.4 90.4 L646.8 91.3 L647.2 92.2 L647.6 93.1 L648 94.1 L648.4 95 L648.8 95.9 L649.2 96.9 L649.6 97.8 L650 98.7 L650.4 99.6 L650.8 100.6 L651.2 101.5 L651.6 102.4 L652 103.4 L652.4 104.3 L652.8 105.2 L653.1 106.2 L653.5 107.1 L653.9 108.1 L654.3 109 L654.6 109.9 L655 110.9 L655.4 111.8 L655.8 112.7 L656.1 113.7 L656.5 114.6 L656.9 115.6 L657.2 116.5 L657.6 117.4 L657.9 118.4 L658.3 119.3 L658.7 120.3 L659 121.2 L659.4 122.1 L659.7 123.1 L660.1 124 L660.4 125 L660.8 125.9 L661.1 126.8 L661.4 127.8 L661.8 128.7 L662.1 129.7 L662.5 130.6 L662.8 131.6 L663.1 132.5 L663.5 133.5 L663.8 134.4 L664.1 135.4 L664.5 136.3 L664.8 137.2 L665.1 138.2 L665.4 139.1 L665.8 140.1 L666.1 141 L666.4 142 L666.7 142.9 L667 143.9 L667.4 144.8 L667.7 145.8 L668 146.7 L668.3 147.7 L668.6 148.6 L668.9 149.6 L669.2 150.5 L669.5 151.5 L669.9 152.4 L670.2 153.4 L670.5 154.3 L670.8 155.3 L671.1 156.2 L671.4 157.2 L671.7 158.2 L672 159.1 L672.3 160.1 L672.6 161 L672.8 162 L673.1 162.9 L673.4 163.9 L673.7 164.8 L674 165.8 L674.3 166.7 L674.6 167.7 L674.9 168.7 L675.2 169.6 L675.4 170.6 L675.7 171.5 L676 172.5 L676.3 173.4 L676.6 174.4 L676.9 175.4 L677.1 176.3 L677.4 177.3 L677.7 178.2 L678 179.2 L678.2 180.2 L678.5 181.1 L678.8 182.1 L679 183 L679.3 184 L679.6 185 L679.9 185.9 L680.1 186.9 L680.4 187.8 L680.7 188.8 L680.9 189.8 L681.2 190.7 L681.4 191.7 L681.7 192.6 L682 193.6 L682.2 194.6 L682.5 195.5 L682.7 196.5 L683 197.5 L683.3 198.4 L683.5 199.4 L683.8 200.4 L684 201.3 L684.3 202.3 L684.5 203.2 L684.8 204.2 L685 205.2 L685.3 206.1 L685.5 207.1 L685.8 208.1 L686 209 L686.3 210 L686.5 211 L686.8 211.9 L687 212.9 L687.3 213.9 L687.5 214.8 L687.8 215.8 L688 216.8 L688.3 217.7 L688.5 218.7 L688.7 219.7 L689 220.6 L689.2 221.6 L689.5 222.6 L689.7 223.5 L689.9 224.5 L690.2 225.5 L690.4 226.4 L690.7 227.4 L690.9 228.4 L691.1 229.3 L691.4 230.3 L691.6 231.3 L691.8 232.2 L692.1 233.2 L692.3 234.2 L692.6 235.2 L692.8 236.1 L693 237.1 L693.3 238.1 L693.5 239 L693.7 240 L694 241 L694.2 241.9 L694.4 242.9 L694.6 243.9 L694.9 244.9 L695.1 245.8 L695.3 246.8 L695.6 247.8 L695.8 248.7 L696 249.7 L696.3 250.7 L696.5 251.6 L696.7 252.6 L696.9 253.6 L697.2 254.6 L697.4 255.5 L697.6 256.5 L697.9 257.5 L698.1 258.4 L698.3 259.4 L698.5 260.4 L698.8 261.4 L699 262.3 L699.2 263.3 L699.5 264.3 L699.7 265.2 L699.9 266.2 L700.1 267.2 L700.4 268.2 L700.6 269.1 L700.8 270.1 L701 271.1 L701.3 272.1 L701.5 273 L701.7 274 L702 275 L702.2 275.9 L702.4 276.9 L702.6 277.9 L702.9 278.9 L703.1 279.8 L703.3 280.8 L703.5 281.8 L703.8 282.8 L704 283.7 L704.2 284.7 L704.5 285.7 L704.7 286.6 L704.9 287.6 L705.1 288.6 L705.4 289.6 L705.6 290.5 L705.8 291.5 L706.1 292.5 L706.3 293.5 L706.5 294.4 L706.7 295.4 L707 296.4 L707.2 297.3 L707.4 298.3 L707.7 299.3 L707.9 300.3 L708.1 301.2 L708.4 302.2 L708.6 303.2 L708.8 304.1 L709.1 305.1 L709.3 306.1 L709.5 307.1 L709.8 308 L710 309 L710.2 310 L710.5 311 L710.7 311.9 L710.9 312.9 L711.2 313.9 L711.4 314.8 L711.6 315.8 L711.9 316.8 L712.1 317.8 L712.4 318.7 L712.6 319.7 L712.8 320.7 L713.1 321.6 L713.3 322.6 L713.5 323.6 L713.8 324.6 L714 325.5 L714.3 326.5 L714.5 327.5 L714.8 328.4 L715 329.4 L715.2 330.4 L715.5 331.4 L715.7 332.3 L716 333.3 L716.2 334.3 L716.5 335.2 L716.7 336.2 L717 337.2 L717.2 338.2 L717.5 339.1 L717.7 340.1 L718 341.1 L718.2 342 L718.5 343 L718.7 344 L719 344.9 L719.2 345.9 L719.5 346.9 L719.7 347.9 L720 348.8 L720.2 349.8 L720.5 350.8 L720.7 351.7 L721 352.7 L721.2 353.7 L721.5 354.6 L721.7 355.6 L722 356.6 L722.3 357.6 L722.5 358.5 L722.8 359.5 L723 360.5 L723.3 361.4 L723.5 362.4 L723.8 363.4 L724 364.3 L724.3 365.3 L724.6 366.3 L724.8 367.2 L725.1 368.2 L725.3 369.2 L725.6 370.1 L725.8 371.1 L726.1 372.1 L726.3 373 L726.6 374 L726.9 375 L727.1 375.9 L727.4 376.9 L727.6 377.9 L727.9 378.8 L728.1 379.8 L728.4 380.8 L728.6 381.7 L728.9 382.7 L729.2 383.7 L729.4 384.6 L729.7 385.6 L729.9 386.6 L730.2 387.5 L730.4 388.5 L730.7 389.5 L730.9 390.4 L731.2 391.4 L731.5 392.4 L731.7 393.3 L732 394.3 L732.2 395.3 L732.5 396.2 L732.7 397.2 L733 398.1 L733.2 399.1 L733.5 400.1 L733.7 401 L734 402 L734.2 403 L734.5 403.9 L734.7 404.9 L735 405.9 L735.2 406.8 L735.5 407.8 L735.7 408.7 L736 409.7 L736.2 410.7 L736.5 411.6 L736.7 412.6 L737 413.6 L737.2 414.5 L737.5 415.5 L737.7 416.4 L738 417.4 L738.2 418.4 L738.5 419.3 L738.7 420.3 L739 421.2 L739.2 422.2 L739.4 423.2 L739.7 424.1 L739.9 425.1 L740.2 426 L740.4 427 L740.7 428 L740.9 428.9 L741.2 429.9 L741.4 430.8 L741.7 431.8 L741.9 432.8 L742.1 433.7 L742.4 434.7 L742.6 435.6 L742.9 436.6 L743.1 437.6 L743.4 438.5 L743.6 439.5 L743.9 440.4 L744.1 441.4 L744.4 442.3 L744.7 443.3 L744.9 444.3 L745.2 445.2 L745.4 446.2 L745.7 447.1 L745.9 448.1 L746.2 449 L746.5 450 L746.7 451 L747 451.9 L747.2 452.9 L747.5 453.8 L747.8 454.8 L748.1 455.7 L748.3 456.7 L748.6 457.6 L748.9 458.6 L749.1 459.6 L749.4 460.5 L749.7 461.5 L750 462.4 L750.3 463.4 L750.5 464.3 L750.8 465.3 L751.1 466.2 L751.4 467.2 L751.7 468.1 L752 469.1 L752.3 470 L752.6 471 L752.9 471.9 L753.2 472.9 L753.5 473.8 L753.8 474.8 L754.1 475.7 L754.4 476.7 L754.7 477.6 L755 478.6 L755.4 479.5 L755.7 480.5 L756 481.4 L756.3 482.4 L756.7 483.3 L757 484.3 L757.3 485.2 L757.7 486.2 L758 487.1 L758.3 488.1 L758.7 489 L759 490 L759.4 490.9 L759.7 491.9 L760.1 492.8 L760.5 493.8 L760.8 494.7 L761.2 495.6 L761.6 496.6 L761.9 497.5 L762.3 498.5 L762.7 499.4 L763.1 500.4 L763.5 501.3 L763.9 502.3 L764.2 503.2 L764.6 504.1 L765 505.1 L765.5 506 L765.9 507 L766.3 507.9 L766.7 508.9 L767.1 509.8 L767.5 510.7 L768 511.7 L768.4 512.6 L768.8 513.6 L769.3 514.5 L769.7 515.4 L770.2 516.3 L770.7 517.2 L771.1 518.1 L771.6 519 L772.1 519.9 L772.7 520.8 L773.2 521.6 L773.7 522.4 L774.3 523.2 L774.8 524 L775.4 524.7 L776 525.5 L776.7 526.2 L777.3 526.9 L777.9 527.5 L778.6 528.1 L779.3 528.7 L780 529.3 L780.8 529.8 L781.6 530.3 L782.4 530.7 L783.2 531.1 L784 531.5 L784.9 531.8 L785.8 532 L786.7 532.3 L787.6 532.5 L788.6 532.6 L789.6 532.8 L790.6 532.9 L791.6 533 L792.7 533 L793.7 533.1 L794.8 533.1 L795.8 533.1 L796.9 533.1 L798 533.1 L799.1 533.1 L800.1 533.1 L801.2 533.1 L802.3 533 L803.4 533.1 L804.4 533.1 L805 533.1 L805.4 533.1 L805.8 533.1 L806.2 533.1 L806.6 533.1 L807 533.2 L807.4 533.2 L807.8 533.2 L808.2 533.3 L808.6 533.4 L809 533.4 L809.4 533.3 L809.8 533.8 L810.2 533.7 L810.6 533.8 L811 533.6 L811.4 534.2 L811.8 534.2 L812.2 533.7 L812.6 533.9 L813 534.2 L813.4 534.3 L813.8 534.5 L814.2 534.1 L814.6 534.5 L815 534.4 L815.4 534.1 L815.8 534.5 L816.2 534.9 L816.6 535.1 L817 534.8 L817.4 535.1 L817.8 534.5 L818.2 534.9 L818.6 535.8 L819 535.5 L819.4 535.2 L819.8 535.9 L820.2 536.3 L820.6 536.4 L821 536 L821.4 536.3 L821.8 536.5 L822.2 537.1 L822.6 536.8 L823 536.8 L823.4 537.2 L823.8 536.5 L824.2 536.7 L824.6 538.2 L825 539 L825.4 538.4 L825.8 538.2 L826.2 538 L826.6 538.9 L827 540.1 L827.4 539.9 L827.8 539.6 L828.2 540.6 L828.6 539.3 L829 540.2 L829.4 541.5 L829.8 540.7 L830.2 540.3 L830.6 539.8 L831 540.5 L831.4 541.6 L831.8 539 L832.2 541.1 L832.6 541.1 L833 541.2 L833.4 541 L833.8 541.3 L834.2 540.6 L834.6 540.9 L835 540.6 L835.4 539.6 L835.8 542.2 L836.2 541.4 L836.6 540.5 L837 541.9 L837.4 542.2 L837.8 542.3 L838.2 542.6 L838.6 543.7 L839 544.3 L839.4 544.7 L839.8 544.5 L840.2 543.1 L840.6 543.6 L841 543.1 L841.4 544.3 L841.8 545.1 L842.2 544.5 L842.6 544.2 L843 544 L843.4 541.6 L843.8 543.8 L844.2 543.3 L844.6 541.2 L845 541.1 L845.4 541.3 L845.8 544.5 L846.2 542.8 L846.6 542.6 L847 545.1 L847.4 543.9 L847.8 542.6 L848.2 543 L848.6 544.5 L849 543 L849.4 543.4 L849.8 545.3 L850.2 544.1 L850.6 543.5 L851 544.7 L851.4 543 L851.8 544.9 L852.2 545.2 L852.6 544.2 L853 543.7 L853.4 547.3 L853.8 545.2 L854.2 543.3 L854.6 544.8 L855 545.3 L855.4 540.9 L855.8 540.4 L856.2 540.6 L856.6 543.1 L857 540 L857.4 542.5 L857.8 541.9 L858.2 540.6 L858.6 538.3 L859 541.8 L859.4 540.3 L859.8 538.3 L860.2 536.3 L860.6 538.1 L861 536.3 L861.4 537.6 L861.8 536.5 L862.2 538.6 L862.6 535.7 L863 537.4 L863.4 541.6 L863.8 541.4 L864.2 538.4 L864.6 541.8 L865 538.4 L865.4 541.8 L865.8 540.4 L866.2 538.1 L866.6 536.7 L867 534.9 L867.4 539.9 L867.8 534.4 L868.2 538.7 L868.6 538.8 L869 535.5 L869.4 532.2 L869.8 535.8 L870.2 535.8 L870.6 533.2 L871 531.2 L871.4 529.5 L871.8 529 L872.2 527.9 L872.6 530.8 L873 529 L873.4 527.2 L873.8 526.3 L874.2 529.9 L874.6 527.1 L875 528.1 L875.4 527 L875.8 530.8 L876.2 531 L876.6 524.7 L877 525.9 L877.4 526.7 L877.8 531.2 L878.2 529.5 L878.6 526 L879 524.7 L879.4 527.5 L879.8 528.2 L880.2 528.5 L880.6 523.9 L881 527.5 L881.4 526 L881.8 524.5 L882.2 527.8 L882.6 521.7 L883 524.7 L883.4 519.4" stroke="#111" stroke-width="3.9"/>
<path d="M236.6 569.8 L237.4 570.2 L238.2 570.6 L239 571 L239.9 571.3 L240.7 571.7 L241.6 572 L242.4 572.2 L243.3 572.5 L244.2 572.7 L245.1 572.9 L246 573.1 L246.9 573.2 L247.8 573.3 L248.7 573.5 L249.6 573.6 L250.6 573.6 L251.5 573.7 L252.5 573.7 L253.4 573.7 L254.4 573.8 L255.3 573.7 L256.3 573.7 L257.3 573.7 L258.2 573.6 L259.2 573.6 L260.2 573.5 L261.2 573.4 L262.2 573.3 L263.2 573.2 L264.2 573.1 L265.2 573 L266.2 572.8 L267.2 572.7 L268.2 572.5 L269.2 572.4 L270.3 572.2 L271.3 572.1 L272.3 571.9 L273.3 571.7 L274.4 571.5 L275.4 571.4 L276.4 571.2 L277.4 571 L278.5 570.8 L279.5 570.7 L280.5 570.5 L281.6 570.3 L282.6 570.1 L283.6 570 L284.7 569.8 L285.7 569.6 L286.7 569.5 L287.7 569.3 L288.8 569.2 L289.8 569.1 L290.8 568.9 L291.8 568.8 L292.8 568.7 L293.9 568.6 L294.9 568.5 L295.9 568.4 L296.9 568.3 L297.9 568.3 L298.9 568.2 L299.9 568.1 L300.9 568 L301.9 568 L302.9 567.9 L303.9 567.8 L304.9 567.8 L305.9 567.7 L306.9 567.7 L307.9 567.6 L308.9 567.5 L309.9 567.5 L310.9 567.4 L311.9 567.3 L312.9 567.3 L313.9 567.2 L314.8 567.1 L315.8 567 L316.8 566.9 L317.8 566.8 L318.8 566.7 L319.8 566.6 L320.7 566.5 L321.7 566.4 L322.7 566.2 L323.7 566.1 L324.7 565.9 L325.6 565.8 L326.6 565.6 L327.6 565.4 L328.6 565.3 L329.5 565.1 L330.5 564.9 L331.5 564.6 L332.4 564.4 L333.4 564.2 L334.4 564 L335.4 563.8 L336.3 563.5 L337.3 563.3 L338.3 563.1 L339.2 562.8 L340.2 562.6 L341.2 562.3 L342.2 562.1 L343.1 561.9 L344.1 561.6 L345.1 561.4 L346 561.2 L347 560.9 L348 560.7 L349 560.5 L349.9 560.3 L350.9 560.1 L351.9 559.9 L352.9 559.7 L353.9 559.5 L354.8 559.3 L355.8 559.2 L356.8 559 L357.8 558.9 L358.8 558.8 L359.8 558.6 L360.7 558.5 L361.7 558.4 L362.7 558.4 L363.7 558.3 L364.7 558.2 L365.7 558.2 L366.7 558.2 L367.7 558.2 L368.7 558.2 L369.7 558.2 L370.7 558.3 L371.7 558.3 L372.7 558.4 L373.7 558.4 L374.8 558.5 L375.8 558.6 L376.8 558.7 L377.8 558.8 L378.8 558.9 L379.8 559.1 L380.8 559.2 L381.8 559.3 L382.8 559.4 L383.9 559.6 L384.9 559.7 L385.9 559.9 L386.9 560 L387.9 560.2 L388.9 560.3 L389.9 560.5 L390.9 560.6 L392 560.7 L393 560.9 L394 561 L395 561.1 L396 561.3 L397 561.4 L398 561.5 L399 561.6 L400 561.7 L401 561.8 L402 561.9 L403 562 L404 562 L405 562.1 L406 562.1 L407 562.2 L408 562.2 L408.9 562.2 L409.9 562.2 L410.9 562.1 L411.9 562.1 L412.9 562 L413.8 562 L414.8 561.9 L415.8 561.8 L416.7 561.6 L417.7 561.5 L418.6 561.3 L419.6 561.1 L420.5 560.9 L421.5 560.6 L422.4 560.4 L423.4 560.1 L424.3 559.8 L425.2 559.5 L426.2 559.1 L427.1 558.8 L428 558.4 L428.9 558 L429.8 557.6 L430.7 557.2 L431.6 556.7 L432.5 556.3 L433.4 555.8 L434.3 555.3 L435.2 554.8 L436.1 554.3 L436.9 553.8 L437.8 553.3 L438.6 552.7 L439.5 552.2 L440.3 551.6 L441.2 551 L442 550.5 L442.9 549.9 L443.7 549.3 L444.5 548.7 L445.3 548.1 L446.1 547.5 L446.9 546.9 L447.7 546.2 L448.5 545.6 L449.3 545 L450 544.4 L450.8 543.7 L451.6 543.1 L452.3 542.4 L453.1 541.7 L453.8 541.1 L454.6 540.4 L455.3 539.7 L456 539.1 L456.7 538.4 L457.5 537.7 L458.2 537 L458.9 536.3 L459.6 535.6 L460.3 534.9 L460.9 534.2 L461.6 533.4 L462.3 532.7 L463 532 L463.7 531.2 L464.3 530.5 L465 529.8 L465.6 529 L466.3 528.3 L466.9 527.5 L467.6 526.7 L468.2 526 L468.8 525.2 L469.4 524.4 L470.1 523.7 L470.7 522.9 L471.3 522.1 L471.9 521.3 L472.5 520.5 L473.1 519.7 L473.7 518.9 L474.3 518.1 L474.8 517.3 L475.4 516.5 L476 515.7 L476.6 514.9 L477.1 514.1 L477.7 513.2 L478.2 512.4 L478.8 511.6 L479.3 510.7 L479.9 509.9 L480.4 509.1 L481 508.2 L481.5 507.4 L482 506.5 L482.5 505.7 L483.1 504.8 L483.6 504 L484.1 503.1 L484.6 502.2 L485.1 501.4 L485.6 500.5 L486.1 499.6 L486.6 498.8 L487.1 497.9 L487.6 497 L488.1 496.1 L488.6 495.3 L489 494.4 L489.5 493.5 L490 492.6 L490.5 491.7 L490.9 490.8 L491.4 489.9 L491.8 489 L492.3 488.2 L492.8 487.3 L493.2 486.4 L493.7 485.5 L494.1 484.6 L494.5 483.7 L495 482.8 L495.4 481.8 L495.9 480.9 L496.3 480 L496.7 479.1 L497.2 478.2 L497.6 477.3 L498 476.4 L498.4 475.5 L498.8 474.6 L499.3 473.7 L499.7 472.7 L500.1 471.8 L500.5 470.9 L500.9 470 L501.3 469.1 L501.7 468.2 L502.1 467.2 L502.5 466.3 L502.9 465.4 L503.3 464.5 L503.7 463.6 L504.1 462.6 L504.5 461.7 L504.9 460.8 L505.2 459.9 L505.6 458.9 L506 458 L506.4 457.1 L506.8 456.2 L507.1 455.2 L507.5 454.3 L507.9 453.4 L508.3 452.5 L508.6 451.5 L509 450.6 L509.4 449.7 L509.7 448.8 L510.1 447.8 L510.5 446.9 L510.8 446 L511.2 445 L511.5 444.1 L511.9 443.2 L512.2 442.3 L512.6 441.3 L512.9 440.4 L513.3 439.5 L513.6 438.5 L514 437.6 L514.3 436.7 L514.7 435.7 L515 434.8 L515.3 433.9 L515.7 432.9 L516 432 L516.4 431 L516.7 430.1 L517 429.2 L517.4 428.2 L517.7 427.3 L518 426.4 L518.3 425.4 L518.7 424.5 L519 423.5 L519.3 422.6 L519.7 421.7 L520 420.7 L520.3 419.8 L520.6 418.8 L520.9 417.9 L521.3 416.9 L521.6 416 L521.9 415.1 L522.2 414.1 L522.5 413.2 L522.8 412.2 L523.1 411.3 L523.5 410.3 L523.8 409.4 L524.1 408.4 L524.4 407.5 L524.7 406.5 L525 405.6 L525.3 404.7 L525.6 403.7 L525.9 402.8 L526.2 401.8 L526.5 400.9 L526.8 399.9 L527.1 399 L527.4 398 L527.7 397.1 L528 396.1 L528.3 395.2 L528.6 394.2 L528.9 393.3 L529.2 392.3 L529.5 391.4 L529.8 390.4 L530.1 389.4 L530.4 388.5 L530.7 387.5 L531 386.6 L531.3 385.6 L531.6 384.7 L531.9 383.7 L532.2 382.8 L532.5 381.8 L532.8 380.9 L533 379.9 L533.3 378.9 L533.6 378 L533.9 377 L534.2 376.1 L534.5 375.1 L534.8 374.2 L535.1 373.2 L535.3 372.3 L535.6 371.3 L535.9 370.3 L536.2 369.4 L536.5 368.4 L536.8 367.5 L537.1 366.5 L537.3 365.5 L537.6 364.6 L537.9 363.6 L538.2 362.7 L538.5 361.7 L538.8 360.7 L539 359.8 L539.3 358.8 L539.6 357.9 L539.9 356.9 L540.2 355.9 L540.4 355 L540.7 354 L541 353.1 L541.3 352.1 L541.6 351.1 L541.8 350.2 L542.1 349.2 L542.4 348.2 L542.7 347.3 L542.9 346.3 L543.2 345.4 L543.5 344.4 L543.8 343.4 L544 342.5 L544.3 341.5 L544.6 340.5 L544.9 339.6 L545.2 338.6 L545.4 337.7 L545.7 336.7 L546 335.7 L546.2 334.8 L546.5 333.8 L546.8 332.8 L547.1 331.9 L547.3 330.9 L547.6 330 L547.9 329 L548.2 328 L548.4 327.1 L548.7 326.1 L549 325.1 L549.3 324.2 L549.5 323.2 L549.8 322.2 L550.1 321.3 L550.4 320.3 L550.6 319.3 L550.9 318.4 L551.2 317.4 L551.4 316.5 L551.7 315.5 L552 314.5 L552.3 313.6 L552.5 312.6 L552.8 311.6 L553.1 310.7 L553.4 309.7 L553.6 308.7 L553.9 307.8 L554.2 306.8 L554.4 305.9 L554.7 304.9 L555 303.9 L555.3 303 L555.5 302 L555.8 301 L556.1 300.1 L556.4 299.1 L556.6 298.2 L556.9 297.2 L557.2 296.2 L557.4 295.3 L557.7 294.3 L558 293.3 L558.3 292.4 L558.5 291.4 L558.8 290.5 L559.1 289.5 L559.4 288.5 L559.6 287.6 L559.9 286.6 L560.2 285.6 L560.5 284.7 L560.7 283.7 L561 282.8 L561.3 281.8 L561.6 280.8 L561.9 279.9 L562.1 278.9 L562.4 278 L562.7 277 L563 276 L563.2 275.1 L563.5 274.1 L563.8 273.2 L564.1 272.2 L564.4 271.2 L564.6 270.3 L564.9 269.3 L565.2 268.4 L565.5 267.4 L565.8 266.5 L566 265.5 L566.3 264.5 L566.6 263.6 L566.9 262.6 L567.2 261.7 L567.4 260.7 L567.7 259.8 L568 258.8 L568.3 257.9 L568.6 256.9 L568.9 255.9 L569.2 255 L569.4 254 L569.7 253.1 L570 252.1 L570.3 251.2 L570.6 250.2 L570.9 249.3 L571.2 248.3 L571.5 247.4 L571.7 246.4 L572 245.5 L572.3 244.5 L572.6 243.6 L572.9 242.6 L573.2 241.7 L573.5 240.7 L573.8 239.8 L574.1 238.8 L574.4 237.9 L574.7 236.9 L575 236 L575.3 235 L575.6 234.1 L575.9 233.1 L576.1 232.2 L576.4 231.2 L576.7 230.3 L577 229.3 L577.3 228.4 L577.6 227.5 L577.9 226.5 L578.3 225.6 L578.6 224.6 L578.9 223.7 L579.2 222.7 L579.5 221.8 L579.8 220.9 L580.1 219.9 L580.4 219 L580.7 218 L581 217.1 L581.3 216.2 L581.6 215.2 L582 214.3 L582.3 213.3 L582.6 212.4 L582.9 211.5 L583.2 210.5 L583.6 209.6 L583.9 208.7 L584.2 207.7 L584.6 206.8 L584.9 205.8 L585.2 204.9 L585.6 204 L585.9 203 L586.3 202.1 L586.6 201.2 L586.9 200.2 L587.3 199.3 L587.7 198.4 L588 197.4 L588.4 196.5 L588.7 195.6 L589.1 194.6 L589.5 193.7 L589.8 192.8 L590.2 191.8 L590.6 190.9 L591 190 L591.4 189 L591.7 188.1 L592.1 187.2 L592.5 186.2 L592.9 185.3 L593.3 184.4 L593.7 183.5 L594.2 182.5 L594.6 181.6 L595 180.7 L595.4 179.7 L595.8 178.8 L596.3 177.9 L596.7 176.9 L597.2 176 L597.6 175.1 L598.1 174.2 L598.5 173.2 L599 172.3 L599.4 171.4 L599.9 170.4 L600.4 169.5 L600.9 168.6 L601.3 167.7 L601.8 166.8 L602.3 165.8 L602.9 164.9 L603.4 164 L603.9 163.2 L604.5 162.3 L605 161.4 L605.6 160.6 L606.2 159.8 L606.8 158.9 L607.4 158.2 L608 157.4 L608.6 156.6 L609.3 155.9 L610 155.2 L610.7 154.5 L611.4 153.9 L612.1 153.2 L612.9 152.6 L613.7 152.1 L614.5 151.5 L615.3 151 L616.2 150.5 L617 150.1 L617.9 149.7 L618.8 149.4 L619.7 149 L620.6 148.7 L621.5 148.5 L622.4 148.3 L623.4 148.1 L624.3 148 L625.3 147.9 L626.2 147.9 L627.2 147.9 L628.1 148 L629.1 148.1 L630 148.2 L630.9 148.4 L631.9 148.7 L632.8 149 L633.7 149.3 L634.6 149.6 L635.5 150 L636.4 150.4 L637.3 150.9 L638.2 151.4 L639 151.9 L639.8 152.4 L640.7 152.9 L641.5 153.5 L642.2 154.1 L643 154.7 L643.8 155.3 L644.5 155.9 L645.2 156.6 L645.9 157.3 L646.6 158 L647.3 158.7 L647.9 159.4 L648.6 160.1 L649.2 160.9 L649.8 161.7 L650.4 162.5 L651 163.2 L651.6 164.1 L652.2 164.9 L652.7 165.7 L653.3 166.6 L653.8 167.4 L654.3 168.3 L654.9 169.1 L655.4 170 L655.9 170.9 L656.4 171.8 L656.9 172.7 L657.3 173.6 L657.8 174.6 L658.3 175.5 L658.7 176.4 L659.2 177.4 L659.6 178.3 L660 179.3 L660.5 180.2 L660.9 181.2 L661.3 182.1 L661.7 183.1 L662.1 184.1 L662.6 185 L663 186 L663.4 186.9 L663.8 187.9 L664.2 188.9 L664.6 189.8 L665 190.8 L665.3 191.7 L665.7 192.7 L666.1 193.6 L666.5 194.6 L666.9 195.5 L667.3 196.5 L667.7 197.4 L668.1 198.4 L668.5 199.3 L668.9 200.2 L669.3 201.1 L669.6 202.1 L670 203 L670.4 203.9 L670.8 204.8 L671.2 205.7 L671.6 206.7 L671.9 207.6 L672.3 208.5 L672.7 209.4 L673.1 210.3 L673.5 211.2 L673.8 212.1 L674.2 213 L674.6 214 L674.9 214.9 L675.3 215.8 L675.7 216.7 L676 217.6 L676.4 218.5 L676.7 219.4 L677.1 220.3 L677.4 221.3 L677.8 222.2 L678.1 223.1 L678.5 224 L678.8 224.9 L679.1 225.9 L679.5 226.8 L679.8 227.7 L680.1 228.6 L680.5 229.6 L680.8 230.5 L681.1 231.4 L681.4 232.4 L681.7 233.3 L682.1 234.2 L682.4 235.2 L682.7 236.1 L683 237.1 L683.3 238 L683.6 238.9 L683.9 239.9 L684.2 240.8 L684.5 241.8 L684.8 242.7 L685.1 243.7 L685.4 244.6 L685.7 245.6 L686 246.5 L686.3 247.5 L686.5 248.4 L686.8 249.4 L687.1 250.3 L687.4 251.3 L687.7 252.2 L687.9 253.2 L688.2 254.1 L688.5 255.1 L688.8 256.1 L689 257 L689.3 258 L689.6 258.9 L689.8 259.9 L690.1 260.9 L690.4 261.8 L690.6 262.8 L690.9 263.8 L691.2 264.7 L691.4 265.7 L691.7 266.7 L691.9 267.6 L692.2 268.6 L692.5 269.6 L692.7 270.5 L693 271.5 L693.2 272.5 L693.5 273.4 L693.7 274.4 L694 275.4 L694.2 276.4 L694.5 277.3 L694.7 278.3 L695 279.3 L695.2 280.2 L695.5 281.2 L695.7 282.2 L696 283.2 L696.2 284.1 L696.5 285.1 L696.7 286.1 L697 287 L697.2 288 L697.5 289 L697.7 290 L697.9 290.9 L698.2 291.9 L698.4 292.9 L698.7 293.9 L698.9 294.8 L699.2 295.8 L699.4 296.8 L699.7 297.7 L699.9 298.7 L700.2 299.7 L700.4 300.7 L700.7 301.6 L700.9 302.6 L701.2 303.6 L701.4 304.5 L701.7 305.5 L701.9 306.5 L702.2 307.5 L702.4 308.4 L702.6 309.4 L702.9 310.4 L703.1 311.3 L703.4 312.3 L703.6 313.3 L703.9 314.3 L704.1 315.2 L704.4 316.2 L704.6 317.2 L704.9 318.1 L705.1 319.1 L705.4 320.1 L705.7 321 L705.9 322 L706.2 323 L706.4 323.9 L706.7 324.9 L706.9 325.9 L707.2 326.8 L707.4 327.8 L707.7 328.8 L707.9 329.8 L708.2 330.7 L708.4 331.7 L708.7 332.7 L708.9 333.6 L709.2 334.6 L709.4 335.6 L709.7 336.5 L709.9 337.5 L710.2 338.5 L710.4 339.4 L710.7 340.4 L711 341.4 L711.2 342.3 L711.5 343.3 L711.7 344.3 L712 345.2 L712.2 346.2 L712.5 347.2 L712.7 348.1 L713 349.1 L713.2 350.1 L713.5 351 L713.8 352 L714 353 L714.3 353.9 L714.5 354.9 L714.8 355.9 L715 356.8 L715.3 357.8 L715.5 358.7 L715.8 359.7 L716 360.7 L716.3 361.6 L716.6 362.6 L716.8 363.6 L717.1 364.5 L717.3 365.5 L717.6 366.5 L717.8 367.4 L718.1 368.4 L718.4 369.4 L718.6 370.3 L718.9 371.3 L719.1 372.3 L719.4 373.2 L719.6 374.2 L719.9 375.1 L720.2 376.1 L720.4 377.1 L720.7 378 L720.9 379 L721.2 380 L721.4 380.9 L721.7 381.9 L722 382.9 L722.2 383.8 L722.5 384.8 L722.7 385.7 L723 386.7 L723.2 387.7 L723.5 388.6 L723.8 389.6 L724 390.6 L724.3 391.5 L724.5 392.5 L724.8 393.5 L725 394.4 L725.3 395.4 L725.6 396.3 L725.8 397.3 L726.1 398.3 L726.3 399.2 L726.6 400.2 L726.8 401.2 L727.1 402.1 L727.4 403.1 L727.6 404.1 L727.9 405 L728.1 406 L728.4 406.9 L728.6 407.9 L728.9 408.9 L729.2 409.8 L729.4 410.8 L729.7 411.8 L729.9 412.7 L730.2 413.7 L730.4 414.7 L730.7 415.6 L731 416.6 L731.2 417.5 L731.5 418.5 L731.7 419.5 L732 420.4 L732.3 421.4 L732.5 422.4 L732.8 423.3 L733 424.3 L733.3 425.2 L733.5 426.2 L733.8 427.2 L734.1 428.1 L734.3 429.1 L734.6 430.1 L734.8 431 L735.1 432 L735.3 433 L735.6 433.9 L735.9 434.9 L736.1 435.8 L736.4 436.8 L736.6 437.8 L736.9 438.7 L737.1 439.7 L737.4 440.7 L737.6 441.6 L737.9 442.6 L738.2 443.6 L738.4 444.5 L738.7 445.5 L738.9 446.4 L739.2 447.4 L739.4 448.4 L739.7 449.3 L740 450.3 L740.2 451.3 L740.5 452.2 L740.7 453.2 L741 454.2 L741.2 455.1 L741.5 456.1 L741.7 457.1 L742 458 L742.3 459 L742.5 460 L742.8 460.9 L743 461.9 L743.3 462.8 L743.5 463.8 L743.8 464.8 L744.1 465.7 L744.3 466.7 L744.6 467.7 L744.9 468.6 L745.1 469.6 L745.4 470.6 L745.7 471.5 L745.9 472.5 L746.2 473.4 L746.5 474.4 L746.8 475.4 L747 476.3 L747.3 477.3 L747.6 478.2 L747.9 479.2 L748.2 480.1 L748.5 481.1 L748.8 482.1 L749.1 483 L749.4 484 L749.7 484.9 L750 485.9 L750.3 486.8 L750.6 487.8 L750.9 488.7 L751.3 489.7 L751.6 490.6 L751.9 491.6 L752.2 492.5 L752.6 493.5 L752.9 494.4 L753.3 495.4 L753.6 496.3 L754 497.3 L754.3 498.2 L754.7 499.1 L755.1 500.1 L755.4 501 L755.8 502 L756.2 502.9 L756.6 503.8 L757 504.8 L757.4 505.7 L757.8 506.6 L758.2 507.6 L758.6 508.5 L759 509.4 L759.4 510.4 L759.9 511.3 L760.3 512.2 L760.8 513.1 L761.2 514.1 L761.7 515 L762.1 515.9 L762.6 516.8 L763.1 517.7 L763.6 518.6 L764.1 519.5 L764.6 520.5 L765.1 521.3 L765.6 522.2 L766.1 523.1 L766.7 524 L767.2 524.8 L767.8 525.7 L768.4 526.5 L768.9 527.3 L769.5 528 L770.2 528.8 L770.8 529.5 L771.4 530.2 L772.1 530.9 L772.8 531.5 L773.5 532.1 L774.2 532.7 L775 533.2 L775.7 533.7 L776.5 534.2 L777.3 534.6 L778.1 534.9 L779 535.3 L779.8 535.5 L780.7 535.8 L781.6 536 L782.5 536.1 L783.5 536.2 L784.4 536.3 L785.4 536.4 L786.4 536.5 L787.4 536.5 L788.4 536.5 L789.4 536.5 L790.4 536.5 L791.4 536.5 L792.5 536.4 L793.5 536.4 L794.5 536.4 L795.6 536.3 L796.6 536.3 L797.6 536.3 L798.7 536.3 L799.7 536.3 L800.7 536.3 L801.7 536.4 L802.7 536.5 L803.7 536.6 L804.7 536.7 L805 536.8 L805.4 536.9 L805.8 537 L806.2 537.1 L806.6 537.1 L807 537.2 L807.4 537.3 L807.8 537.4 L808.2 537.6 L808.6 537.9 L809 537.9 L809.4 537.7 L809.8 538.2 L810.2 538.2 L810.6 538.3 L811 538.4 L811.4 538.4 L811.8 538.5 L812.2 538.3 L812.6 538.9 L813 539.1 L813.4 538.5 L813.8 539.2 L814.2 539.3 L814.6 539.2 L815 539.5 L815.4 539.6 L815.8 540.4 L816.2 540.2 L816.6 540.9 L817 540.6 L817.4 541.6 L817.8 542 L818.2 541.7 L818.6 542.3 L819 543.2 L819.4 543.1 L819.8 543 L820.2 542.7 L820.6 543.1 L821 544 L821.4 543.3 L821.8 544.9 L822.2 544 L822.6 545.5 L823 544.5 L823.4 546.1 L823.8 545.9 L824.2 545.7 L824.6 546 L825 546.6 L825.4 546.7 L825.8 546.4 L826.2 546.3 L826.6 547.2 L827 548.5 L827.4 547.9 L827.8 546.7 L828.2 548.8 L828.6 548.7 L829 549.4 L829.4 547.6 L829.8 549.4 L830.2 547.9 L830.6 549.9 L831 549.2 L831.4 549.4 L831.8 551.7 L832.2 549.7 L832.6 551.3 L833 552.7 L833.4 551.1 L833.8 551.2 L834.2 553.6 L834.6 552.3 L835 553.5 L835.4 551.4 L835.8 552.7 L836.2 552.2 L836.6 554.2 L837 552.3 L837.4 555.5 L837.8 552.3 L838.2 555 L838.6 552.5 L839 553.5 L839.4 555.7 L839.8 553.3 L840.2 553.4 L840.6 555.2 L841 553.9 L841.4 552.4 L841.8 556.1 L842.2 552.5 L842.6 551.8 L843 552.8 L843.4 553.8 L843.8 554.4 L844.2 551.7 L844.6 552.8 L845 551.5 L845.4 553.4 L845.8 554.9 L846.2 554.9 L846.6 555.7 L847 555.1 L847.4 555.5 L847.8 554.6 L848.2 553.4 L848.6 552 L849 553.9 L849.4 552.1 L849.8 550.8 L850.2 552.3 L850.6 554.3 L851 550.5 L851.4 552.9 L851.8 551.9 L852.2 552.5 L852.6 550.5 L853 554.8 L853.4 551.1 L853.8 552.9 L854.2 551.8 L854.6 549.6 L855 552.5 L855.4 550 L855.8 549.5 L856.2 549.2 L856.6 549.9 L857 549.4 L857.4 552.4 L857.8 551.4 L858.2 553.9 L858.6 553.3 L859 553.4 L859.4 548.5 L859.8 549.4 L860.2 547.9 L860.6 549.7 L861 549.5 L861.4 550.1 L861.8 548.9 L862.2 545.4 L862.6 545.9 L863 545.9 L863.4 541.9 L863.8 541.4 L864.2 543.2 L864.6 540.7 L865 544.3 L865.4 540.6 L865.8 539.3 L866.2 539.4 L866.6 539.3 L867 538.7 L867.4 540.4 L867.8 539.5 L868.2 538 L868.6 539.8 L869 536.3 L869.4 540.7 L869.8 540.6 L870.2 538.4 L870.6 535.8 L871 535.8 L871.4 535.8 L871.8 531.3 L872.2 533.5 L872.6 533.7 L873 530.5 L873.4 529.2 L873.8 534.1 L874.2 530.1 L874.6 530.7 L875 533.3 L875.4 530.5 L875.8 527.6 L876.2 532.6 L876.6 527.4 L877 524.2 L877.4 529.1 L877.8 524 L878.2 525.3 L878.6 529.4 L879 528.1 L879.4 522.8 L879.8 526.4 L880.2 526.1 L880.6 526.8 L881 524.6 L881.4 527.8 L881.8 523.7 L882.2 525.2 L882.6 525.5 L883 529.5 L883.4 522.1" stroke="#e60a18" stroke-width="3.9"/>
<path d="M236.8 574 L237.7 574 L238.7 574 L239.7 574 L240.6 574 L241.6 574 L242.5 574 L243.5 574 L244.5 574 L245.4 573.9 L246.4 573.9 L247.4 573.9 L248.4 573.8 L249.3 573.8 L250.3 573.7 L251.3 573.7 L252.3 573.7 L253.3 573.6 L254.3 573.6 L255.2 573.5 L256.2 573.5 L257.2 573.5 L258.2 573.4 L259.2 573.4 L260.2 573.3 L261.2 573.3 L262.2 573.3 L263.1 573.2 L264.1 573.2 L265.1 573.2 L266.1 573.1 L267.1 573.1 L268.1 573 L269.1 573 L270.1 573 L271.1 572.9 L272.1 572.9 L273.1 572.9 L274.1 572.8 L275.1 572.8 L276.1 572.7 L277.1 572.7 L278.1 572.6 L279.1 572.6 L280.1 572.6 L281.1 572.5 L282.1 572.5 L283.1 572.4 L284.1 572.4 L285.1 572.3 L286.1 572.3 L287.1 572.2 L288.1 572.2 L289.1 572.1 L290.2 572.1 L291.2 572 L292.2 571.9 L293.2 571.9 L294.2 571.8 L295.2 571.8 L296.2 571.7 L297.2 571.6 L298.2 571.6 L299.2 571.5 L300.2 571.4 L301.2 571.4 L302.2 571.3 L303.2 571.2 L304.2 571.1 L305.2 571.1 L306.2 571 L307.2 570.9 L308.2 570.8 L309.2 570.7 L310.2 570.6 L311.2 570.5 L312.2 570.4 L313.2 570.3 L314.2 570.2 L315.2 570.1 L316.2 570 L317.2 569.9 L318.2 569.8 L319.2 569.7 L320.2 569.6 L321.2 569.5 L322.2 569.4 L323.2 569.2 L324.2 569.1 L325.2 569 L326.2 568.9 L327.2 568.7 L328.2 568.6 L329.2 568.5 L330.1 568.3 L331.1 568.2 L332.1 568 L333.1 567.9 L334.1 567.8 L335.1 567.6 L336.1 567.5 L337.1 567.3 L338 567.2 L339 567.1 L340 566.9 L341 566.8 L342 566.7 L343 566.5 L344 566.4 L344.9 566.3 L345.9 566.2 L346.9 566.1 L347.9 565.9 L348.9 565.8 L349.9 565.7 L350.9 565.7 L351.9 565.6 L352.8 565.5 L353.8 565.4 L354.8 565.3 L355.8 565.3 L356.8 565.2 L357.8 565.2 L358.8 565.1 L359.8 565.1 L360.8 565.1 L361.8 565.1 L362.8 565.1 L363.8 565.1 L364.8 565.1 L365.8 565.1 L366.8 565.2 L367.8 565.2 L368.8 565.3 L369.8 565.3 L370.8 565.4 L371.8 565.5 L372.8 565.6 L373.8 565.7 L374.8 565.8 L375.8 565.9 L376.8 566 L377.8 566.1 L378.9 566.2 L379.9 566.3 L380.9 566.4 L381.9 566.5 L382.9 566.7 L383.9 566.8 L384.9 566.9 L385.9 567 L386.9 567.1 L387.9 567.2 L388.9 567.3 L390 567.5 L391 567.6 L392 567.7 L393 567.7 L394 567.8 L395 567.9 L396 568 L397 568 L398 568.1 L399 568.2 L400 568.2 L401 568.2 L401.9 568.2 L402.9 568.3 L403.9 568.2 L404.9 568.2 L405.9 568.2 L406.9 568.2 L407.9 568.1 L408.8 568 L409.8 567.9 L410.8 567.8 L411.8 567.7 L412.7 567.6 L413.7 567.5 L414.7 567.3 L415.6 567.2 L416.6 567 L417.6 566.8 L418.5 566.6 L419.5 566.4 L420.4 566.2 L421.4 566 L422.3 565.7 L423.3 565.5 L424.2 565.2 L425.2 564.9 L426.1 564.6 L427.1 564.3 L428 564 L428.9 563.7 L429.9 563.4 L430.8 563.1 L431.7 562.7 L432.7 562.4 L433.6 562 L434.5 561.7 L435.4 561.3 L436.4 560.9 L437.3 560.5 L438.2 560.1 L439.1 559.7 L440 559.3 L440.9 558.9 L441.9 558.5 L442.8 558 L443.7 557.6 L444.6 557.2 L445.5 556.7 L446.4 556.3 L447.3 555.8 L448.2 555.3 L449.1 554.9 L449.9 554.4 L450.8 553.9 L451.7 553.4 L452.6 552.9 L453.5 552.4 L454.4 551.9 L455.2 551.4 L456.1 550.9 L457 550.4 L457.8 549.8 L458.7 549.3 L459.5 548.8 L460.4 548.2 L461.2 547.7 L462.1 547.1 L462.9 546.6 L463.8 546 L464.6 545.4 L465.4 544.8 L466.2 544.2 L467.1 543.7 L467.9 543.1 L468.7 542.4 L469.5 541.8 L470.3 541.2 L471.1 540.6 L471.8 540 L472.6 539.3 L473.4 538.7 L474.2 538.1 L474.9 537.4 L475.7 536.7 L476.4 536.1 L477.2 535.4 L477.9 534.7 L478.6 534.1 L479.4 533.4 L480.1 532.7 L480.8 532 L481.5 531.3 L482.2 530.6 L482.9 529.8 L483.5 529.1 L484.2 528.4 L484.9 527.7 L485.5 526.9 L486.2 526.2 L486.8 525.4 L487.5 524.7 L488.1 523.9 L488.7 523.1 L489.4 522.4 L490 521.6 L490.6 520.8 L491.2 520 L491.8 519.3 L492.4 518.5 L493 517.7 L493.6 516.9 L494.2 516.1 L494.7 515.2 L495.3 514.4 L495.9 513.6 L496.4 512.8 L497 512 L497.6 511.2 L498.1 510.3 L498.6 509.5 L499.2 508.7 L499.7 507.8 L500.3 507 L500.8 506.1 L501.3 505.3 L501.8 504.4 L502.4 503.6 L502.9 502.7 L503.4 501.9 L503.9 501 L504.4 500.2 L504.9 499.3 L505.4 498.4 L505.9 497.6 L506.4 496.7 L506.9 495.8 L507.4 495 L507.9 494.1 L508.4 493.2 L508.9 492.4 L509.4 491.5 L509.9 490.6 L510.3 489.8 L510.8 488.9 L511.3 488 L511.8 487.1 L512.3 486.3 L512.7 485.4 L513.2 484.5 L513.7 483.6 L514.2 482.7 L514.6 481.9 L515.1 481 L515.6 480.1 L516 479.2 L516.5 478.3 L517 477.5 L517.4 476.6 L517.9 475.7 L518.4 474.8 L518.8 473.9 L519.3 473 L519.7 472.1 L520.2 471.2 L520.6 470.4 L521.1 469.5 L521.5 468.6 L522 467.7 L522.4 466.8 L522.9 465.9 L523.3 465 L523.8 464.1 L524.2 463.2 L524.7 462.3 L525.1 461.4 L525.5 460.5 L526 459.6 L526.4 458.7 L526.8 457.8 L527.3 456.9 L527.7 456 L528.1 455.1 L528.6 454.2 L529 453.3 L529.4 452.4 L529.8 451.5 L530.2 450.6 L530.7 449.7 L531.1 448.8 L531.5 447.9 L531.9 447 L532.3 446 L532.8 445.1 L533.2 444.2 L533.6 443.3 L534 442.4 L534.4 441.5 L534.8 440.6 L535.2 439.7 L535.6 438.7 L536 437.8 L536.4 436.9 L536.8 436 L537.2 435.1 L537.6 434.1 L538 433.2 L538.4 432.3 L538.8 431.4 L539.2 430.4 L539.6 429.5 L540 428.6 L540.4 427.7 L540.8 426.7 L541.2 425.8 L541.5 424.9 L541.9 424 L542.3 423 L542.7 422.1 L543.1 421.2 L543.5 420.3 L543.9 419.3 L544.3 418.4 L544.6 417.5 L545 416.5 L545.4 415.6 L545.8 414.7 L546.2 413.8 L546.6 412.9 L547 411.9 L547.4 411 L547.8 410.1 L548.2 409.2 L548.6 408.3 L549 407.3 L549.4 406.4 L549.8 405.5 L550.2 404.6 L550.6 403.7 L551 402.8 L551.4 401.9 L551.8 401 L552.2 400 L552.6 399.1 L553 398.2 L553.4 397.3 L553.9 396.4 L554.3 395.5 L554.7 394.7 L555.1 393.8 L555.6 392.9 L556 392 L556.4 391.1 L556.9 390.2 L557.3 389.3 L557.8 388.5 L558.2 387.6 L558.6 386.7 L559.1 385.8 L559.5 385 L560 384.1 L560.4 383.2 L560.9 382.3 L561.4 381.5 L561.8 380.6 L562.3 379.7 L562.7 378.9 L563.2 378 L563.7 377.1 L564.1 376.3 L564.6 375.4 L565.1 374.5 L565.6 373.7 L566 372.8 L566.5 372 L567 371.1 L567.5 370.2 L568 369.4 L568.4 368.5 L568.9 367.7 L569.4 366.8 L569.9 365.9 L570.4 365.1 L570.9 364.2 L571.4 363.4 L571.8 362.5 L572.3 361.6 L572.8 360.8 L573.3 359.9 L573.8 359 L574.3 358.2 L574.8 357.3 L575.3 356.4 L575.8 355.6 L576.3 354.7 L576.8 353.8 L577.3 353 L577.8 352.1 L578.3 351.2 L578.8 350.3 L579.3 349.5 L579.8 348.6 L580.3 347.7 L580.8 346.8 L581.3 346 L581.8 345.1 L582.3 344.2 L582.8 343.3 L583.3 342.4 L583.8 341.5 L584.3 340.6 L584.8 339.7 L585.3 338.8 L585.8 338 L586.3 337.1 L586.9 336.2 L587.4 335.3 L587.9 334.4 L588.4 333.5 L588.9 332.6 L589.5 331.8 L590 330.9 L590.5 330 L591.1 329.1 L591.6 328.3 L592.1 327.4 L592.7 326.5 L593.2 325.7 L593.8 324.8 L594.4 324 L594.9 323.1 L595.5 322.3 L596.1 321.4 L596.7 320.6 L597.3 319.8 L597.9 319 L598.5 318.2 L599.1 317.4 L599.7 316.6 L600.3 315.8 L600.9 315 L601.6 314.2 L602.2 313.5 L602.9 312.7 L603.5 312 L604.2 311.2 L604.9 310.5 L605.6 309.8 L606.3 309.1 L607 308.4 L607.7 307.7 L608.4 307 L609.1 306.3 L609.9 305.7 L610.6 305 L611.4 304.4 L612.1 303.8 L612.9 303.2 L613.7 302.6 L614.5 302 L615.3 301.4 L616.2 300.9 L617 300.3 L617.8 299.8 L618.7 299.3 L619.6 298.8 L620.5 298.3 L621.4 297.9 L622.3 297.4 L623.2 297 L624.1 296.6 L625 296.2 L626 295.8 L626.9 295.5 L627.9 295.2 L628.9 294.9 L629.8 294.6 L630.8 294.4 L631.8 294.2 L632.7 294 L633.7 293.9 L634.7 293.7 L635.7 293.7 L636.7 293.6 L637.6 293.6 L638.6 293.7 L639.6 293.8 L640.6 293.9 L641.5 294 L642.5 294.2 L643.5 294.4 L644.4 294.6 L645.4 294.9 L646.3 295.2 L647.2 295.6 L648.1 295.9 L649.1 296.3 L649.9 296.8 L650.8 297.2 L651.7 297.7 L652.5 298.2 L653.4 298.7 L654.2 299.3 L655 299.8 L655.8 300.4 L656.5 301 L657.3 301.7 L658 302.3 L658.8 303 L659.5 303.7 L660.2 304.4 L660.9 305.1 L661.5 305.8 L662.2 306.6 L662.9 307.3 L663.5 308.1 L664.2 308.9 L664.8 309.7 L665.4 310.5 L666 311.3 L666.6 312.1 L667.2 313 L667.8 313.8 L668.3 314.6 L668.9 315.5 L669.5 316.3 L670 317.2 L670.5 318.1 L671.1 318.9 L671.6 319.8 L672.1 320.6 L672.6 321.5 L673.2 322.4 L673.7 323.3 L674.2 324.1 L674.6 325 L675.1 325.9 L675.6 326.8 L676.1 327.7 L676.5 328.5 L677 329.4 L677.5 330.3 L677.9 331.2 L678.3 332.1 L678.8 333 L679.2 333.9 L679.7 334.8 L680.1 335.7 L680.5 336.6 L680.9 337.5 L681.3 338.4 L681.7 339.4 L682.1 340.3 L682.5 341.2 L682.9 342.1 L683.3 343 L683.7 343.9 L684.1 344.9 L684.5 345.8 L684.8 346.7 L685.2 347.6 L685.6 348.6 L685.9 349.5 L686.3 350.4 L686.7 351.4 L687 352.3 L687.4 353.2 L687.7 354.2 L688.1 355.1 L688.4 356 L688.7 357 L689.1 357.9 L689.4 358.9 L689.8 359.8 L690.1 360.7 L690.4 361.7 L690.8 362.6 L691.1 363.6 L691.4 364.5 L691.7 365.4 L692.1 366.4 L692.4 367.3 L692.7 368.3 L693 369.2 L693.4 370.2 L693.7 371.1 L694 372.1 L694.3 373 L694.6 374 L694.9 374.9 L695.3 375.9 L695.6 376.8 L695.9 377.7 L696.2 378.7 L696.5 379.6 L696.9 380.6 L697.2 381.5 L697.5 382.5 L697.8 383.4 L698.1 384.4 L698.4 385.3 L698.8 386.3 L699.1 387.2 L699.4 388.1 L699.7 389.1 L700.1 390 L700.4 391 L700.7 391.9 L701 392.9 L701.3 393.8 L701.7 394.7 L702 395.7 L702.3 396.6 L702.6 397.6 L703 398.5 L703.3 399.4 L703.6 400.4 L703.9 401.3 L704.3 402.3 L704.6 403.2 L704.9 404.2 L705.2 405.1 L705.6 406 L705.9 407 L706.2 407.9 L706.6 408.9 L706.9 409.8 L707.2 410.7 L707.5 411.7 L707.9 412.6 L708.2 413.6 L708.5 414.5 L708.9 415.4 L709.2 416.4 L709.5 417.3 L709.8 418.3 L710.2 419.2 L710.5 420.1 L710.8 421.1 L711.2 422 L711.5 423 L711.8 423.9 L712.2 424.8 L712.5 425.8 L712.8 426.7 L713.1 427.7 L713.5 428.6 L713.8 429.5 L714.1 430.5 L714.5 431.4 L714.8 432.4 L715.1 433.3 L715.5 434.2 L715.8 435.2 L716.1 436.1 L716.5 437.1 L716.8 438 L717.1 438.9 L717.5 439.9 L717.8 440.8 L718.1 441.8 L718.5 442.7 L718.8 443.7 L719.1 444.6 L719.5 445.5 L719.8 446.5 L720.1 447.4 L720.5 448.4 L720.8 449.3 L721.1 450.3 L721.4 451.2 L721.8 452.1 L722.1 453.1 L722.4 454 L722.8 455 L723.1 455.9 L723.4 456.9 L723.8 457.8 L724.1 458.8 L724.4 459.7 L724.8 460.6 L725.1 461.6 L725.4 462.5 L725.8 463.5 L726.1 464.4 L726.4 465.4 L726.8 466.3 L727.1 467.3 L727.4 468.2 L727.8 469.2 L728.1 470.1 L728.4 471.1 L728.8 472 L729.1 473 L729.4 473.9 L729.8 474.9 L730.1 475.8 L730.4 476.8 L730.7 477.7 L731.1 478.7 L731.4 479.6 L731.7 480.6 L732.1 481.5 L732.4 482.5 L732.7 483.4 L733.1 484.4 L733.4 485.3 L733.7 486.3 L734.1 487.2 L734.4 488.2 L734.7 489.2 L735.1 490.1 L735.4 491.1 L735.8 492 L736.1 492.9 L736.4 493.9 L736.8 494.8 L737.1 495.8 L737.5 496.7 L737.9 497.7 L738.2 498.6 L738.6 499.5 L739 500.5 L739.3 501.4 L739.7 502.3 L740.1 503.3 L740.5 504.2 L740.9 505.1 L741.3 506 L741.7 507 L742.1 507.9 L742.5 508.8 L742.9 509.7 L743.3 510.6 L743.7 511.5 L744.2 512.4 L744.6 513.3 L745.1 514.2 L745.5 515.1 L746 516 L746.4 516.8 L746.9 517.7 L747.4 518.6 L747.9 519.5 L748.4 520.3 L748.9 521.2 L749.4 522 L749.9 522.9 L750.4 523.7 L751 524.6 L751.5 525.4 L752.1 526.2 L752.7 527.1 L753.2 527.9 L753.8 528.7 L754.4 529.5 L755 530.3 L755.6 531.1 L756.2 531.9 L756.9 532.6 L757.5 533.4 L758.2 534.2 L758.8 534.9 L759.5 535.7 L760.2 536.4 L760.9 537.1 L761.6 537.8 L762.4 538.5 L763.1 539.1 L763.8 539.7 L764.6 540.4 L765.4 541 L766.2 541.5 L767 542.1 L767.8 542.6 L768.6 543.1 L769.4 543.6 L770.3 544 L771.2 544.4 L772 544.8 L772.9 545.2 L773.8 545.6 L774.7 545.9 L775.7 546.2 L776.6 546.5 L777.5 546.7 L778.5 547 L779.4 547.2 L780.4 547.5 L781.4 547.7 L782.3 547.9 L783.3 548.1 L784.3 548.3 L785.3 548.5 L786.2 548.8 L787.2 549 L788.2 549.2 L789.2 549.4 L790.2 549.6 L791.1 549.9 L792.1 550.1 L793.1 550.3 L794.1 550.6 L795 550.8 L796 551.1 L797 551.3 L798 551.6 L798.9 551.9 L799.9 552.1 L800.9 552.4 L801.8 552.7 L802.8 553 L803.7 553.3 L804.7 553.6 L805 553.7 L805.4 553.8 L805.8 553.9 L806.2 554 L806.6 554.2 L807 554.4 L807.4 554.5 L807.8 554.7 L808.2 554.7 L808.6 555 L809 555 L809.4 555.4 L809.8 555.5 L810.2 555.2 L810.6 555.3 L811 555.5 L811.4 556.1 L811.8 555.9 L812.2 556.2 L812.6 556.1 L813 556.4 L813.4 556.5 L813.8 556.7 L814.2 557.1 L814.6 557.3 L815 557.8 L815.4 557.8 L815.8 558.3 L816.2 558.4 L816.6 558.7 L817 558.5 L817.4 558 L817.8 559.2 L818.2 559.5 L818.6 559.6 L819 559.3 L819.4 559.6 L819.8 558.9 L820.2 560 L820.6 559.6 L821 559.2 L821.4 558.8 L821.8 560.3 L822.2 560.6 L822.6 559 L823 560.5 L823.4 559.8 L823.8 559.4 L824.2 559.9 L824.6 561 L825 561.4 L825.4 559.6 L825.8 561 L826.2 559.9 L826.6 561.9 L827 561.3 L827.4 563 L827.8 563.6 L828.2 562.8 L828.6 564.5 L829 563 L829.4 562.8 L829.8 564.2 L830.2 562.6 L830.6 562.9 L831 563.4 L831.4 563.9 L831.8 562.4 L832.2 562 L832.6 564.3 L833 562.5 L833.4 564.5 L833.8 564.4 L834.2 562.8 L834.6 563 L835 563.3 L835.4 563.7 L835.8 563.5 L836.2 563.4 L836.6 563.7 L837 565.2 L837.4 564 L837.8 564 L838.2 565.4 L838.6 563.9 L839 564.5 L839.4 567.4 L839.8 566 L840.2 566.1 L840.6 563.8 L841 565.1 L841.4 565.5 L841.8 563 L842.2 565.1 L842.6 564.9 L843 562.2 L843.4 564.3 L843.8 563.6 L844.2 564.7 L844.6 563.4 L845 565 L845.4 565.3 L845.8 562.2 L846.2 562.5 L846.6 565.4 L847 566.9 L847.4 563.3 L847.8 563.9 L848.2 564.3 L848.6 562.7 L849 562.6 L849.4 562 L849.8 562 L850.2 562.8 L850.6 561 L851 561.4 L851.4 563.4 L851.8 559.5 L852.2 562.3 L852.6 563.1 L853 560.8 L853.4 560.3 L853.8 563.4 L854.2 560.1 L854.6 559.3 L855 560.2 L855.4 561.2 L855.8 557.3 L856.2 558.1 L856.6 557.6 L857 560 L857.4 557.2 L857.8 559.6 L858.2 555.7 L858.6 556.8 L859 558.8 L859.4 560.4 L859.8 557.9 L860.2 556.6 L860.6 556.1 L861 558.8 L861.4 556.6 L861.8 560.5 L862.2 560.7 L862.6 556.4 L863 557 L863.4 560.4 L863.8 559.3 L864.2 560.3 L864.6 557.2 L865 555.2 L865.4 555.8 L865.8 558.7 L866.2 554.7 L866.6 554.7 L867 554.7 L867.4 554.2 L867.8 553.6 L868.2 556.8 L868.6 551.4 L869 550.2 L869.4 556.8 L869.8 556.3 L870.2 557 L870.6 552.9 L871 556.6 L871.4 556.3 L871.8 550.8 L872.2 554.4 L872.6 554.7 L873 553 L873.4 551.6 L873.8 549.4 L874.2 549.4 L874.6 548.1 L875 546.5 L875.4 549.6 L875.8 546.3 L876.2 549.5 L876.6 542.5 L877 548.3 L877.4 545.6 L877.8 546.5 L878.2 545.2 L878.6 544.5 L879 542 L879.4 537.5 L879.8 543.5 L880.2 538.8 L880.6 539.9 L881 542.7 L881.4 541.5 L881.8 540.3 L882.2 543.9 L882.6 540 L883 536.4 L883.4 534.5" stroke="#6ab42d" stroke-width="3.9"/>
<path d="M237 575.5 L237.9 575.5 L238.9 575.4 L239.9 575.4 L240.9 575.4 L241.9 575.3 L242.9 575.3 L243.8 575.3 L244.8 575.2 L245.8 575.2 L246.8 575.2 L247.8 575.1 L248.8 575.1 L249.7 575.1 L250.7 575 L251.7 575 L252.7 574.9 L253.7 574.9 L254.7 574.9 L255.7 574.8 L256.7 574.8 L257.7 574.7 L258.7 574.7 L259.7 574.7 L260.6 574.6 L261.6 574.6 L262.6 574.5 L263.6 574.5 L264.6 574.5 L265.6 574.4 L266.6 574.4 L267.6 574.3 L268.6 574.3 L269.6 574.2 L270.6 574.2 L271.6 574.2 L272.6 574.1 L273.6 574.1 L274.6 574 L275.6 574 L276.6 574 L277.6 573.9 L278.6 573.9 L279.6 573.8 L280.6 573.8 L281.6 573.8 L282.6 573.7 L283.6 573.7 L284.6 573.6 L285.6 573.6 L286.6 573.6 L287.6 573.5 L288.6 573.5 L289.6 573.5 L290.6 573.4 L291.6 573.4 L292.6 573.3 L293.6 573.3 L294.6 573.3 L295.7 573.2 L296.7 573.2 L297.7 573.2 L298.7 573.1 L299.7 573.1 L300.7 573.1 L301.7 573.1 L302.7 573 L303.7 573 L304.7 573 L305.7 573 L306.7 572.9 L307.7 572.9 L308.7 572.9 L309.7 572.9 L310.7 572.8 L311.7 572.8 L312.7 572.8 L313.7 572.8 L314.7 572.8 L315.7 572.8 L316.7 572.7 L317.7 572.7 L318.7 572.7 L319.7 572.7 L320.8 572.7 L321.8 572.7 L322.8 572.7 L323.8 572.7 L324.8 572.7 L325.8 572.7 L326.8 572.7 L327.8 572.7 L328.8 572.7 L329.8 572.7 L330.8 572.7 L331.8 572.7 L332.8 572.7 L333.8 572.7 L334.8 572.7 L335.8 572.7 L336.8 572.7 L337.8 572.7 L338.8 572.7 L339.8 572.7 L340.8 572.8 L341.8 572.8 L342.8 572.8 L343.8 572.8 L344.8 572.8 L345.8 572.8 L346.8 572.8 L347.8 572.9 L348.7 572.9 L349.7 572.9 L350.7 572.9 L351.7 572.9 L352.7 572.9 L353.7 573 L354.7 573 L355.7 573 L356.7 573 L357.7 573 L358.7 573 L359.7 573.1 L360.7 573.1 L361.7 573.1 L362.7 573.1 L363.7 573.1 L364.7 573.1 L365.7 573.2 L366.7 573.2 L367.7 573.2 L368.7 573.2 L369.7 573.2 L370.7 573.2 L371.7 573.2 L372.7 573.3 L373.7 573.3 L374.7 573.3 L375.7 573.3 L376.7 573.3 L377.7 573.3 L378.6 573.3 L379.6 573.3 L380.6 573.3 L381.6 573.3 L382.6 573.3 L383.6 573.3 L384.6 573.3 L385.6 573.3 L386.6 573.3 L387.6 573.3 L388.6 573.3 L389.6 573.3 L390.6 573.3 L391.6 573.3 L392.6 573.3 L393.6 573.3 L394.6 573.2 L395.6 573.2 L396.6 573.2 L397.6 573.2 L398.6 573.2 L399.6 573.1 L400.6 573.1 L401.6 573.1 L402.6 573.1 L403.6 573 L404.6 573 L405.6 573 L406.6 572.9 L407.6 572.9 L408.6 572.8 L409.6 572.8 L410.6 572.7 L411.6 572.7 L412.6 572.6 L413.6 572.6 L414.6 572.5 L415.6 572.5 L416.6 572.4 L417.6 572.3 L418.6 572.3 L419.6 572.2 L420.6 572.1 L421.6 572.1 L422.6 572 L423.6 571.9 L424.6 571.8 L425.6 571.7 L426.6 571.6 L427.6 571.5 L428.6 571.4 L429.6 571.3 L430.6 571.2 L431.6 571.1 L432.6 571 L433.6 570.8 L434.6 570.7 L435.6 570.6 L436.6 570.4 L437.6 570.3 L438.6 570.1 L439.6 570 L440.6 569.8 L441.5 569.6 L442.5 569.4 L443.5 569.2 L444.5 569 L445.5 568.8 L446.4 568.6 L447.4 568.4 L448.4 568.2 L449.4 567.9 L450.3 567.7 L451.3 567.4 L452.2 567.2 L453.2 566.9 L454.2 566.6 L455.1 566.3 L456.1 566 L457 565.7 L457.9 565.4 L458.9 565.1 L459.8 564.7 L460.7 564.4 L461.7 564 L462.6 563.6 L463.5 563.3 L464.4 562.9 L465.3 562.5 L466.2 562.1 L467.1 561.6 L468 561.2 L468.9 560.8 L469.8 560.3 L470.7 559.9 L471.6 559.4 L472.5 558.9 L473.4 558.4 L474.2 558 L475.1 557.5 L476 557 L476.8 556.5 L477.7 556 L478.6 555.5 L479.4 555 L480.3 554.4 L481.1 553.9 L482 553.4 L482.8 552.9 L483.7 552.4 L484.5 551.8 L485.3 551.3 L486.2 550.8 L487 550.2 L487.8 549.7 L488.7 549.2 L489.5 548.6 L490.3 548.1 L491.2 547.5 L492 547 L492.8 546.5 L493.7 545.9 L494.5 545.4 L495.3 544.9 L496.2 544.3 L497 543.8 L497.8 543.2 L498.7 542.7 L499.5 542.2 L500.4 541.6 L501.2 541.1 L502.1 540.6 L502.9 540 L503.8 539.5 L504.7 539 L505.5 538.5 L506.4 538 L507.3 537.4 L508.1 536.9 L509 536.4 L509.9 535.9 L510.8 535.4 L511.6 534.8 L512.5 534.3 L513.4 533.8 L514.3 533.3 L515.1 532.8 L516 532.2 L516.9 531.7 L517.8 531.2 L518.6 530.7 L519.5 530.1 L520.3 529.6 L521.2 529 L522 528.5 L522.9 528 L523.7 527.4 L524.6 526.9 L525.4 526.3 L526.2 525.7 L527 525.2 L527.9 524.6 L528.7 524 L529.5 523.5 L530.3 522.9 L531.1 522.3 L531.9 521.7 L532.7 521.2 L533.5 520.6 L534.3 520 L535.1 519.4 L535.9 518.8 L536.7 518.2 L537.5 517.6 L538.2 517 L539 516.4 L539.8 515.8 L540.6 515.2 L541.4 514.6 L542.1 514 L542.9 513.4 L543.7 512.8 L544.4 512.2 L545.2 511.6 L546 511 L546.7 510.4 L547.5 509.8 L548.3 509.1 L549 508.5 L549.8 507.9 L550.5 507.3 L551.3 506.7 L552.1 506 L552.8 505.4 L553.6 504.8 L554.3 504.2 L555.1 503.5 L555.9 502.9 L556.6 502.3 L557.4 501.6 L558.1 501 L558.9 500.4 L559.6 499.8 L560.4 499.1 L561.2 498.5 L561.9 497.9 L562.7 497.2 L563.4 496.6 L564.2 496 L565 495.3 L565.7 494.7 L566.5 494.1 L567.3 493.5 L568 492.8 L568.8 492.2 L569.6 491.6 L570.4 490.9 L571.1 490.3 L571.9 489.7 L572.7 489 L573.5 488.4 L574.3 487.8 L575.1 487.2 L575.8 486.5 L576.6 485.9 L577.4 485.3 L578.2 484.7 L579 484.1 L579.8 483.4 L580.6 482.8 L581.5 482.2 L582.3 481.6 L583.1 481 L583.9 480.4 L584.7 479.7 L585.6 479.1 L586.4 478.5 L587.2 477.9 L588.1 477.3 L588.9 476.7 L589.7 476.1 L590.6 475.5 L591.4 474.9 L592.3 474.3 L593.2 473.8 L594 473.2 L594.9 472.6 L595.8 472 L596.6 471.5 L597.5 470.9 L598.4 470.3 L599.3 469.8 L600.1 469.2 L601 468.7 L601.9 468.2 L602.8 467.7 L603.7 467.1 L604.6 466.6 L605.5 466.1 L606.4 465.7 L607.3 465.2 L608.2 464.7 L609.2 464.2 L610.1 463.8 L611 463.3 L611.9 462.9 L612.8 462.5 L613.8 462.1 L614.7 461.7 L615.6 461.3 L616.5 460.9 L617.5 460.5 L618.4 460.2 L619.4 459.8 L620.3 459.5 L621.2 459.2 L622.2 458.9 L623.1 458.6 L624.1 458.3 L625 458.1 L626 457.8 L626.9 457.6 L627.9 457.4 L628.9 457.2 L629.8 457 L630.8 456.8 L631.7 456.7 L632.7 456.5 L633.7 456.4 L634.6 456.3 L635.6 456.2 L636.6 456.2 L637.6 456.1 L638.5 456.1 L639.5 456.1 L640.5 456.1 L641.5 456.1 L642.4 456.2 L643.4 456.2 L644.4 456.3 L645.3 456.4 L646.3 456.5 L647.3 456.6 L648.2 456.8 L649.2 456.9 L650.2 457.1 L651.1 457.3 L652.1 457.5 L653 457.8 L654 458 L654.9 458.3 L655.8 458.6 L656.8 458.9 L657.7 459.2 L658.6 459.5 L659.5 459.9 L660.4 460.3 L661.3 460.7 L662.2 461.1 L663.1 461.5 L664 461.9 L664.8 462.4 L665.7 462.9 L666.5 463.4 L667.4 463.9 L668.2 464.4 L669 464.9 L669.8 465.5 L670.6 466.1 L671.4 466.7 L672.2 467.3 L673 467.9 L673.7 468.5 L674.5 469.2 L675.2 469.8 L676 470.5 L676.7 471.2 L677.4 471.9 L678.2 472.6 L678.9 473.3 L679.6 474.1 L680.3 474.8 L681 475.5 L681.6 476.3 L682.3 477.1 L683 477.8 L683.7 478.6 L684.3 479.4 L685 480.2 L685.7 481 L686.3 481.8 L687 482.6 L687.6 483.4 L688.2 484.2 L688.9 485 L689.5 485.8 L690.2 486.6 L690.8 487.4 L691.4 488.2 L692 489 L692.7 489.9 L693.3 490.7 L693.9 491.5 L694.5 492.3 L695.2 493.1 L695.8 493.9 L696.4 494.7 L697 495.5 L697.6 496.3 L698.3 497.1 L698.9 497.9 L699.5 498.7 L700.1 499.5 L700.7 500.3 L701.4 501.1 L702 501.9 L702.6 502.7 L703.2 503.4 L703.8 504.2 L704.4 505 L705.1 505.8 L705.7 506.6 L706.3 507.4 L706.9 508.1 L707.5 508.9 L708.1 509.7 L708.8 510.5 L709.4 511.2 L710 512 L710.6 512.8 L711.3 513.6 L711.9 514.3 L712.5 515.1 L713.1 515.8 L713.8 516.6 L714.4 517.4 L715 518.1 L715.7 518.9 L716.3 519.6 L716.9 520.4 L717.6 521.1 L718.2 521.9 L718.9 522.6 L719.5 523.4 L720.1 524.1 L720.8 524.9 L721.4 525.6 L722.1 526.4 L722.8 527.1 L723.4 527.8 L724.1 528.6 L724.7 529.3 L725.4 530 L726.1 530.8 L726.7 531.5 L727.4 532.2 L728.1 532.9 L728.8 533.7 L729.5 534.4 L730.1 535.1 L730.8 535.8 L731.5 536.5 L732.2 537.2 L732.9 537.9 L733.6 538.6 L734.3 539.4 L735 540.1 L735.7 540.8 L736.5 541.4 L737.2 542.1 L737.9 542.8 L738.6 543.5 L739.4 544.2 L740.1 544.9 L740.9 545.5 L741.6 546.2 L742.4 546.9 L743.1 547.5 L743.9 548.2 L744.6 548.8 L745.4 549.5 L746.2 550.1 L747 550.7 L747.8 551.4 L748.5 552 L749.3 552.6 L750.1 553.2 L751 553.8 L751.8 554.4 L752.6 555 L753.4 555.5 L754.2 556.1 L755.1 556.7 L755.9 557.2 L756.8 557.8 L757.6 558.3 L758.5 558.8 L759.3 559.4 L760.2 559.9 L761.1 560.4 L762 560.9 L762.9 561.3 L763.8 561.8 L764.7 562.2 L765.6 562.7 L766.5 563.1 L767.4 563.4 L768.4 563.8 L769.3 564.1 L770.2 564.4 L771.2 564.7 L772.1 565 L773.1 565.2 L774.1 565.4 L775 565.6 L776 565.7 L777 565.9 L778 566 L778.9 566.1 L779.9 566.2 L780.9 566.3 L781.9 566.4 L782.9 566.5 L783.9 566.6 L784.9 566.6 L785.9 566.7 L786.9 566.8 L787.9 566.9 L788.9 567 L789.8 567.1 L790.8 567.2 L791.8 567.3 L792.8 567.4 L793.8 567.5 L794.8 567.6 L795.8 567.7 L796.8 567.8 L797.8 567.9 L798.8 568 L799.8 568.1 L800.8 568.3 L801.7 568.4 L802.7 568.5 L803.7 568.6 L804.7 568.7 L805 568.8 L805.4 568.8 L805.8 568.8 L806.2 568.9 L806.6 568.9 L807 568.9 L807.4 568.9 L807.8 568.8 L808.2 569.2 L808.6 569.2 L809 569.1 L809.4 569 L809.8 569.4 L810.2 569.3 L810.6 569.5 L811 569.6 L811.4 569.4 L811.8 569.4 L812.2 569.6 L812.6 569.4 L813 569.2 L813.4 569.3 L813.8 569.8 L814.2 569.1 L814.6 569 L815 569.7 L815.4 569.3 L815.8 569.6 L816.2 569.5 L816.6 569.3 L817 570.2 L817.4 569.1 L817.8 569.4 L818.2 569.1 L818.6 569.8 L819 569.2 L819.4 569.4 L819.8 570.1 L820.2 569.5 L820.6 570 L821 570.7 L821.4 569.3 L821.8 569.3 L822.2 569.7 L822.6 570.8 L823 570.7 L823.4 570.1 L823.8 570.4 L824.2 570.2 L824.6 571 L825 570.2 L825.4 571.8 L825.8 572.5 L826.2 572.7 L826.6 572.2 L827 572.8 L827.4 570.4 L827.8 571.1 L828.2 572.8 L828.6 572.3 L829 571.4 L829.4 572.8 L829.8 571.9 L830.2 572.5 L830.6 571 L831 570.7 L831.4 571.5 L831.8 570.6 L832.2 571.3 L832.6 573.1 L833 571.1 L833.4 569.9 L833.8 569.8 L834.2 570 L834.6 571.8 L835 570.2 L835.4 569.7 L835.8 568.8 L836.2 571.7 L836.6 569.6 L837 568.9 L837.4 568.5 L837.8 568.6 L838.2 569.1 L838.6 571.1 L839 569.2 L839.4 568.9 L839.8 570.8 L840.2 569.8 L840.6 572.6 L841 569 L841.4 570.5 L841.8 571.4 L842.2 569.7 L842.6 572 L843 569.7 L843.4 568.5 L843.8 569.1 L844.2 567.4 L844.6 569 L845 568.1 L845.4 570.8 L845.8 570.5 L846.2 568.8 L846.6 566.5 L847 567.4 L847.4 567.2 L847.8 566.9 L848.2 566.8 L848.6 569.7 L849 566 L849.4 565.3 L849.8 569.4 L850.2 567.4 L850.6 569.4 L851 566.2 L851.4 568.6 L851.8 567.2 L852.2 567.7 L852.6 567.3 L853 565.8 L853.4 563.4 L853.8 563.8 L854.2 567.3 L854.6 567.6 L855 567.9 L855.4 564.8 L855.8 566.8 L856.2 567.7 L856.6 567 L857 568.1 L857.4 566.7 L857.8 567.2 L858.2 567 L858.6 564.1 L859 567.7 L859.4 567.5 L859.8 561.8 L860.2 566.9 L860.6 566.6 L861 564.4 L861.4 560.2 L861.8 565.3 L862.2 560.2 L862.6 565.3 L863 563.1 L863.4 559 L863.8 559.4 L864.2 562.3 L864.6 561.6 L865 562.6 L865.4 563.6 L865.8 558.7 L866.2 557 L866.6 563.1 L867 556.7 L867.4 562.5 L867.8 557 L868.2 561.4 L868.6 560.6 L869 560.6 L869.4 557.6 L869.8 559.3 L870.2 553.8 L870.6 556.5 L871 553.3 L871.4 556.7 L871.8 555.6 L872.2 553.3 L872.6 553.6 L873 549.7 L873.4 549.6 L873.8 553.8 L874.2 552.8 L874.6 555.6 L875 553.5 L875.4 549.9 L875.8 551.7 L876.2 554.9 L876.6 553 L877 548.9 L877.4 555.5 L877.8 555.4 L878.2 549.4 L878.6 553 L879 551.4 L879.4 554.4 L879.8 550.2 L880.2 549.2 L880.6 550.8 L881 554.2 L881.4 546.6 L881.8 546.1 L882.2 549.3 L882.6 550.4 L883 545.9 L883.4 543.5" stroke="#3444a6" stroke-width="3.9"/>
<path d="M237 577 L238 577.1 L239 577.2 L240 577.3 L241 577.4 L242 577.5 L243 577.6 L244 577.6 L245 577.7 L246 577.8 L247 577.9 L248 578 L249 578.1 L250 578.1 L251 578.2 L252 578.3 L253 578.4 L254 578.4 L255 578.5 L256 578.6 L257 578.6 L258 578.7 L259 578.8 L260 578.8 L261 578.9 L262 579 L263 579 L264 579.1 L265 579.2 L266 579.2 L267 579.3 L268 579.3 L269 579.4 L270 579.4 L271 579.5 L272 579.5 L273 579.6 L274 579.6 L275 579.7 L276 579.7 L277 579.8 L278 579.8 L279 579.9 L280 579.9 L281 579.9 L282 580 L283 580 L284 580.1 L285 580.1 L286 580.1 L287 580.2 L288 580.2 L289 580.2 L290 580.3 L291 580.3 L292 580.3 L293 580.3 L294 580.4 L295 580.4 L296 580.4 L297 580.4 L298 580.5 L299 580.5 L300 580.5 L301 580.5 L302 580.5 L303 580.5 L304 580.6 L305 580.6 L306 580.6 L307 580.6 L308 580.6 L309 580.6 L310 580.6 L311 580.6 L312 580.6 L313 580.6 L314 580.7 L315 580.7 L316 580.7 L317 580.7 L318 580.7 L319 580.7 L320 580.7 L321 580.7 L322 580.7 L323 580.7 L324 580.6 L325 580.6 L326 580.6 L327 580.6 L328 580.6 L329 580.6 L330 580.6 L331 580.6 L332 580.6 L333 580.6 L334 580.5 L335 580.5 L336 580.5 L337 580.5 L338 580.5 L339 580.5 L340 580.4 L341 580.4 L342 580.4 L343 580.4 L344 580.4 L345 580.3 L346 580.3 L347 580.3 L348 580.3 L349 580.2 L350 580.2 L351 580.2 L352 580.2 L353 580.1 L354 580.1 L355 580.1 L356 580 L357 580 L358 580 L359 579.9 L360 579.9 L361 579.9 L362 579.8 L363 579.8 L364 579.8 L365 579.7 L366 579.7 L367 579.6 L368 579.6 L369 579.6 L369.9 579.5 L370.9 579.5 L371.9 579.4 L372.9 579.4 L373.9 579.4 L374.9 579.3 L375.9 579.3 L376.9 579.2 L377.9 579.2 L378.9 579.1 L379.9 579.1 L380.9 579 L381.9 579 L382.9 578.9 L383.9 578.9 L384.9 578.8 L385.9 578.8 L386.9 578.7 L387.9 578.7 L388.9 578.6 L389.9 578.6 L390.9 578.5 L391.9 578.5 L392.9 578.4 L393.9 578.3 L394.9 578.3 L395.9 578.2 L396.9 578.2 L397.9 578.1 L398.9 578.1 L399.9 578 L400.9 577.9 L401.9 577.9 L402.9 577.8 L403.9 577.8 L404.9 577.7 L405.9 577.6 L406.8 577.6 L407.8 577.5 L408.8 577.4 L409.8 577.4 L410.8 577.3 L411.8 577.3 L412.8 577.2 L413.8 577.1 L414.8 577.1 L415.8 577 L416.8 576.9 L417.8 576.9 L418.8 576.8 L419.8 576.7 L420.8 576.7 L421.8 576.6 L422.8 576.5 L423.8 576.4 L424.8 576.4 L425.8 576.3 L426.8 576.2 L427.8 576.2 L428.8 576.1 L429.8 576 L430.8 576 L431.8 575.9 L432.8 575.8 L433.8 575.7 L434.8 575.7 L435.8 575.6 L436.7 575.5 L437.7 575.4 L438.7 575.4 L439.7 575.3 L440.7 575.2 L441.7 575.1 L442.7 575.1 L443.7 575 L444.7 574.9 L445.7 574.8 L446.7 574.8 L447.7 574.7 L448.7 574.6 L449.7 574.5 L450.7 574.5 L451.7 574.4 L452.7 574.3 L453.7 574.2 L454.7 574.2 L455.7 574.1 L456.7 574 L457.7 573.9 L458.7 573.8 L459.7 573.8 L460.7 573.7 L461.7 573.6 L462.6 573.5 L463.6 573.4 L464.6 573.4 L465.6 573.3 L466.6 573.2 L467.6 573.1 L468.6 573 L469.6 573 L470.6 572.9 L471.6 572.8 L472.6 572.7 L473.6 572.6 L474.6 572.6 L475.6 572.5 L476.6 572.4 L477.6 572.3 L478.6 572.2 L479.6 572.2 L480.6 572.1 L481.6 572 L482.6 571.9 L483.6 571.8 L484.6 571.8 L485.6 571.7 L486.5 571.6 L487.5 571.5 L488.5 571.4 L489.5 571.3 L490.5 571.3 L491.5 571.2 L492.5 571.1 L493.5 571 L494.5 570.9 L495.5 570.9 L496.5 570.8 L497.5 570.7 L498.5 570.6 L499.5 570.5 L500.5 570.5 L501.5 570.4 L502.5 570.3 L503.5 570.2 L504.5 570.1 L505.5 570.1 L506.5 570 L507.5 569.9 L508.5 569.8 L509.4 569.7 L510.4 569.7 L511.4 569.6 L512.4 569.5 L513.4 569.4 L514.4 569.3 L515.4 569.3 L516.4 569.2 L517.4 569.1 L518.4 569 L519.4 568.9 L520.4 568.9 L521.4 568.8 L522.4 568.7 L523.4 568.6 L524.4 568.5 L525.4 568.5 L526.4 568.4 L527.4 568.3 L528.4 568.2 L529.4 568.2 L530.4 568.1 L531.3 568 L532.3 567.9 L533.3 567.9 L534.3 567.8 L535.3 567.7 L536.3 567.6 L537.3 567.6 L538.3 567.5 L539.3 567.4 L540.3 567.3 L541.3 567.3 L542.3 567.2 L543.3 567.1 L544.3 567.1 L545.3 567 L546.3 566.9 L547.3 566.9 L548.3 566.8 L549.3 566.7 L550.3 566.6 L551.3 566.6 L552.3 566.5 L553.3 566.4 L554.2 566.4 L555.2 566.3 L556.2 566.2 L557.2 566.2 L558.2 566.1 L559.2 566 L560.2 566 L561.2 565.9 L562.2 565.9 L563.2 565.8 L564.2 565.7 L565.2 565.7 L566.2 565.6 L567.2 565.6 L568.2 565.5 L569.2 565.4 L570.2 565.4 L571.2 565.3 L572.2 565.3 L573.2 565.2 L574.2 565.2 L575.2 565.1 L576.2 565 L577.2 565 L578.2 564.9 L579.2 564.9 L580.2 564.8 L581.2 564.8 L582.2 564.7 L583.2 564.7 L584.1 564.6 L585.1 564.6 L586.1 564.5 L587.1 564.5 L588.1 564.5 L589.1 564.4 L590.1 564.4 L591.1 564.3 L592.1 564.3 L593.1 564.2 L594.1 564.2 L595.1 564.2 L596.1 564.1 L597.1 564.1 L598.1 564 L599.1 564 L600.1 564 L601.1 563.9 L602.1 563.9 L603.1 563.9 L604.1 563.8 L605.1 563.8 L606.1 563.8 L607.1 563.8 L608.1 563.7 L609.1 563.7 L610.1 563.7 L611.1 563.7 L612.1 563.6 L613.1 563.6 L614.1 563.6 L615.1 563.6 L616.1 563.5 L617.1 563.5 L618.1 563.5 L619.1 563.5 L620.1 563.5 L621.1 563.5 L622.1 563.4 L623.1 563.4 L624.1 563.4 L625.1 563.4 L626.1 563.4 L627.1 563.4 L628.1 563.4 L629.1 563.4 L630.1 563.4 L631.1 563.4 L632.1 563.4 L633.1 563.4 L634.1 563.4 L635.1 563.4 L636.1 563.4 L637.1 563.4 L638.1 563.4 L639.1 563.4 L640.1 563.4 L641.1 563.4 L642.1 563.4 L643.1 563.4 L644.1 563.4 L645.2 563.5 L646.2 563.5 L647.2 563.5 L648.2 563.5 L649.2 563.5 L650.2 563.6 L651.2 563.6 L652.2 563.6 L653.2 563.6 L654.2 563.7 L655.2 563.7 L656.2 563.7 L657.2 563.8 L658.2 563.8 L659.2 563.9 L660.2 563.9 L661.2 563.9 L662.2 564 L663.2 564 L664.2 564.1 L665.2 564.2 L666.2 564.2 L667.2 564.3 L668.2 564.3 L669.2 564.4 L670.2 564.5 L671.2 564.5 L672.2 564.6 L673.2 564.7 L674.2 564.7 L675.1 564.8 L676.1 564.9 L677.1 565 L678.1 565.1 L679.1 565.2 L680.1 565.3 L681.1 565.4 L682.1 565.4 L683.1 565.5 L684.1 565.7 L685.1 565.8 L686.1 565.9 L687.1 566 L688.1 566.1 L689.1 566.2 L690 566.3 L691 566.5 L692 566.6 L693 566.7 L694 566.8 L695 567 L696 567.1 L697 567.3 L697.9 567.4 L698.9 567.6 L699.9 567.7 L700.9 567.9 L701.9 568 L702.9 568.2 L703.8 568.3 L704.8 568.5 L705.8 568.7 L706.8 568.9 L707.8 569 L708.7 569.2 L709.7 569.4 L710.7 569.6 L711.7 569.7 L712.7 569.9 L713.6 570.1 L714.6 570.3 L715.6 570.5 L716.6 570.7 L717.6 570.8 L718.5 571 L719.5 571.2 L720.5 571.4 L721.5 571.6 L722.4 571.8 L723.4 571.9 L724.4 572.1 L725.4 572.3 L726.4 572.5 L727.3 572.6 L728.3 572.8 L729.3 573 L730.3 573.1 L731.3 573.3 L732.2 573.5 L733.2 573.6 L734.2 573.8 L735.2 573.9 L736.2 574.1 L737.2 574.2 L738.1 574.4 L739.1 574.5 L740.1 574.6 L741.1 574.8 L742.1 574.9 L743.1 575 L744.1 575.1 L745.1 575.2 L746.1 575.3 L747.1 575.4 L748 575.5 L749 575.6 L750 575.7 L751 575.8 L752 575.9 L753 576 L754 576 L755 576.1 L756 576.2 L757 576.2 L758 576.3 L759 576.4 L760 576.4 L761 576.5 L762 576.5 L763 576.6 L764 576.6 L765 576.6 L766 576.7 L767 576.7 L768 576.7 L769 576.8 L770 576.8 L771 576.8 L772 576.8 L773.1 576.9 L774.1 576.9 L775.1 576.9 L776.1 576.9 L777.1 576.9 L778.1 576.9 L779.1 576.9 L780.1 577 L781.1 577 L782.1 577 L783.1 577 L784.1 577 L785.1 577 L786.1 577 L787.2 577 L788.2 576.9 L789.2 576.9 L790.2 576.9 L791.2 576.9 L792.2 576.9 L793.2 576.9 L794.2 576.9 L795.2 576.9 L796.2 576.9 L797.2 576.9 L798.2 576.9 L799.3 576.8 L800.3 576.8 L801.3 576.8 L802.3 576.8 L803.3 576.8 L804.3 576.8 L805 576.8 L805.4 576.7 L805.8 576.7 L806.2 576.8 L806.6 576.7 L807 576.7 L807.4 576.8 L807.8 576.8 L808.2 576.7 L808.6 576.9 L809 576.8 L809.4 576.8 L809.8 576.6 L810.2 576.9 L810.6 576.8 L811 577 L811.4 576.9 L811.8 576.7 L812.2 576.7 L812.6 576.6 L813 576.6 L813.4 576.5 L813.8 576.7 L814.2 576.9 L814.6 576.4 L815 576.9 L815.4 576.7 L815.8 576.7 L816.2 577 L816.6 576.7 L817 576.6 L817.4 576.7 L817.8 576.9 L818.2 576.2 L818.6 577.1 L819 576.1 L819.4 576.8 L819.8 576.9 L820.2 576 L820.6 576.9 L821 576.4 L821.4 576.7 L821.8 576 L822.2 576 L822.6 576.2 L823 577 L823.4 575.9 L823.8 576.5 L824.2 576.5 L824.6 576.4 L825 575.3 L825.4 575.2 L825.8 575.2 L826.2 575.5 L826.6 574.5 L827 575.5 L827.4 575.7 L827.8 575.8 L828.2 574.4 L828.6 576.1 L829 574.6 L829.4 575.1 L829.8 575.6 L830.2 576.2 L830.6 575.2 L831 576.4 L831.4 575.7 L831.8 575.3 L832.2 575.4 L832.6 575.2 L833 575 L833.4 575.1 L833.8 576.1 L834.2 576.6 L834.6 574.7 L835 574.3 L835.4 576.3 L835.8 575.1 L836.2 574.7 L836.6 574.2 L837 575 L837.4 575.6 L837.8 574.7 L838.2 574.6 L838.6 573.7 L839 575.9 L839.4 573.6 L839.8 574.8 L840.2 575.6 L840.6 573.4 L841 574.7 L841.4 574.9 L841.8 573.7 L842.2 573.8 L842.6 571.6 L843 572.2 L843.4 571 L843.8 572.9 L844.2 571.3 L844.6 571.8 L845 573.4 L845.4 573 L845.8 573.4 L846.2 571.8 L846.6 571.9 L847 572.7 L847.4 571.7 L847.8 570.9 L848.2 571.1 L848.6 570 L849 570.6 L849.4 572.3 L849.8 572 L850.2 570.7 L850.6 570.1 L851 569.5 L851.4 568.7 L851.8 569.3 L852.2 571 L852.6 571.3 L853 569.5 L853.4 570.9 L853.8 570.9 L854.2 570.5 L854.6 570.3 L855 570.5 L855.4 568.9 L855.8 570 L856.2 568.2 L856.6 568.8 L857 569.8 L857.4 569.3 L857.8 567.4 L858.2 569.5 L858.6 567.9 L859 567.2 L859.4 564.5 L859.8 566.2 L860.2 564.5 L860.6 565.7 L861 564.4 L861.4 565.7 L861.8 564.9 L862.2 565.4 L862.6 563.4 L863 564.5 L863.4 564.8 L863.8 565.1 L864.2 562.8 L864.6 564.9 L865 564.8 L865.4 563.8 L865.8 564.9 L866.2 564.6 L866.6 562.4 L867 562.2 L867.4 560.3 L867.8 563.2 L868.2 563.6 L868.6 561.5 L869 562.6 L869.4 562.9 L869.8 563 L870.2 560.4 L870.6 563.5 L871 562.6 L871.4 563.1 L871.8 561.7 L872.2 562.4 L872.6 562.8 L873 561.7 L873.4 561.8 L873.8 558 L874.2 558.3 L874.6 559.4 L875 560.1 L875.4 557.2 L875.8 559 L876.2 558.1 L876.6 554.4 L877 556 L877.4 554.1 L877.8 552.5 L878.2 552.2 L878.6 552.8 L879 552.2 L879.4 552.4 L879.8 551.6 L880.2 554.1 L880.6 553.8 L881 555.1 L881.4 555.1 L881.8 553.4 L882.2 556.7 L882.6 551.1 L883 552.7 L883.4 551.4" stroke="#7cc6df" stroke-width="3.9"/>
<path d="M237 579.1 L238 579.1 L239 579 L240 579 L241 579 L242 579 L243 579 L244 579 L245 578.9 L246 578.9 L247 578.9 L248 578.9 L249 578.9 L250 578.8 L251 578.8 L252 578.8 L253 578.8 L254 578.8 L255 578.8 L256 578.7 L257 578.7 L258 578.7 L259 578.7 L260 578.7 L261 578.7 L262 578.6 L263 578.6 L264 578.6 L265 578.6 L266 578.6 L267 578.6 L268 578.5 L269 578.5 L270 578.5 L270.9 578.5 L271.9 578.5 L272.9 578.5 L273.9 578.4 L274.9 578.4 L275.9 578.4 L276.9 578.4 L277.9 578.4 L278.9 578.4 L279.9 578.4 L280.9 578.3 L281.9 578.3 L282.9 578.3 L283.9 578.3 L284.9 578.3 L285.9 578.3 L286.9 578.3 L287.9 578.2 L288.9 578.2 L289.9 578.2 L290.9 578.2 L291.9 578.2 L292.9 578.2 L293.9 578.2 L294.9 578.2 L295.9 578.1 L296.9 578.1 L297.9 578.1 L298.9 578.1 L299.9 578.1 L300.9 578.1 L301.9 578.1 L302.9 578.1 L303.9 578 L304.9 578 L305.9 578 L306.9 578 L307.9 578 L308.9 578 L309.9 578 L310.9 578 L311.9 578 L312.9 577.9 L313.9 577.9 L314.9 577.9 L315.9 577.9 L316.9 577.9 L317.9 577.9 L318.9 577.9 L319.9 577.9 L320.9 577.9 L321.9 577.8 L322.9 577.8 L323.9 577.8 L324.9 577.8 L325.9 577.8 L326.9 577.8 L327.9 577.8 L328.9 577.8 L329.9 577.8 L330.9 577.8 L331.9 577.8 L332.9 577.7 L333.9 577.7 L334.9 577.7 L335.9 577.7 L336.9 577.7 L337.8 577.7 L338.8 577.7 L339.8 577.7 L340.8 577.7 L341.8 577.7 L342.8 577.7 L343.8 577.6 L344.8 577.6 L345.8 577.6 L346.8 577.6 L347.8 577.6 L348.8 577.6 L349.8 577.6 L350.8 577.6 L351.8 577.6 L352.8 577.6 L353.8 577.6 L354.8 577.6 L355.8 577.6 L356.8 577.6 L357.8 577.5 L358.8 577.5 L359.8 577.5 L360.8 577.5 L361.8 577.5 L362.8 577.5 L363.8 577.5 L364.8 577.5 L365.8 577.5 L366.8 577.5 L367.8 577.5 L368.8 577.5 L369.8 577.5 L370.8 577.5 L371.8 577.5 L372.8 577.5 L373.8 577.5 L374.8 577.4 L375.8 577.4 L376.8 577.4 L377.8 577.4 L378.8 577.4 L379.8 577.4 L380.8 577.4 L381.8 577.4 L382.8 577.4 L383.8 577.4 L384.8 577.4 L385.8 577.4 L386.8 577.4 L387.8 577.4 L388.8 577.4 L389.8 577.4 L390.8 577.4 L391.8 577.4 L392.8 577.4 L393.8 577.4 L394.8 577.4 L395.8 577.4 L396.8 577.3 L397.8 577.3 L398.8 577.3 L399.8 577.3 L400.8 577.3 L401.8 577.3 L402.8 577.3 L403.7 577.3 L404.7 577.3 L405.7 577.3 L406.7 577.3 L407.7 577.3 L408.7 577.3 L409.7 577.3 L410.7 577.3 L411.7 577.3 L412.7 577.3 L413.7 577.3 L414.7 577.3 L415.7 577.3 L416.7 577.3 L417.7 577.3 L418.7 577.3 L419.7 577.3 L420.7 577.3 L421.7 577.3 L422.7 577.3 L423.7 577.3 L424.7 577.3 L425.7 577.3 L426.7 577.3 L427.7 577.3 L428.7 577.3 L429.7 577.3 L430.7 577.3 L431.7 577.3 L432.7 577.3 L433.7 577.3 L434.7 577.3 L435.7 577.3 L436.7 577.3 L437.7 577.3 L438.7 577.3 L439.7 577.3 L440.7 577.3 L441.7 577.3 L442.7 577.3 L443.7 577.2 L444.7 577.2 L445.7 577.2 L446.7 577.2 L447.7 577.2 L448.7 577.2 L449.7 577.2 L450.7 577.2 L451.7 577.2 L452.7 577.2 L453.7 577.2 L454.7 577.2 L455.7 577.2 L456.7 577.2 L457.7 577.2 L458.7 577.2 L459.7 577.2 L460.7 577.2 L461.7 577.2 L462.7 577.2 L463.7 577.2 L464.7 577.2 L465.7 577.2 L466.7 577.2 L467.7 577.2 L468.7 577.3 L469.6 577.3 L470.6 577.3 L471.6 577.3 L472.6 577.3 L473.6 577.3 L474.6 577.3 L475.6 577.3 L476.6 577.3 L477.6 577.3 L478.6 577.3 L479.6 577.3 L480.6 577.3 L481.6 577.3 L482.6 577.3 L483.6 577.3 L484.6 577.3 L485.6 577.3 L486.6 577.3 L487.6 577.3 L488.6 577.3 L489.6 577.3 L490.6 577.3 L491.6 577.3 L492.6 577.3 L493.6 577.3 L494.6 577.3 L495.6 577.3 L496.6 577.3 L497.6 577.3 L498.6 577.3 L499.6 577.3 L500.6 577.3 L501.6 577.3 L502.6 577.3 L503.6 577.3 L504.6 577.3 L505.6 577.3 L506.6 577.3 L507.6 577.3 L508.6 577.3 L509.6 577.3 L510.6 577.3 L511.6 577.3 L512.6 577.3 L513.6 577.3 L514.6 577.3 L515.6 577.3 L516.6 577.3 L517.6 577.3 L518.6 577.3 L519.6 577.3 L520.6 577.3 L521.6 577.3 L522.6 577.3 L523.6 577.3 L524.6 577.4 L525.6 577.4 L526.6 577.4 L527.6 577.4 L528.6 577.4 L529.6 577.4 L530.6 577.4 L531.6 577.4 L532.6 577.4 L533.6 577.4 L534.6 577.4 L535.5 577.4 L536.5 577.4 L537.5 577.4 L538.5 577.4 L539.5 577.4 L540.5 577.4 L541.5 577.4 L542.5 577.4 L543.5 577.4 L544.5 577.4 L545.5 577.4 L546.5 577.4 L547.5 577.4 L548.5 577.4 L549.5 577.4 L550.5 577.4 L551.5 577.4 L552.5 577.4 L553.5 577.4 L554.5 577.4 L555.5 577.4 L556.5 577.5 L557.5 577.5 L558.5 577.5 L559.5 577.5 L560.5 577.5 L561.5 577.5 L562.5 577.5 L563.5 577.5 L564.5 577.5 L565.5 577.5 L566.5 577.5 L567.5 577.5 L568.5 577.5 L569.5 577.5 L570.5 577.5 L571.5 577.5 L572.5 577.5 L573.5 577.5 L574.5 577.5 L575.5 577.5 L576.5 577.5 L577.5 577.5 L578.5 577.5 L579.5 577.5 L580.5 577.5 L581.5 577.5 L582.5 577.5 L583.5 577.6 L584.5 577.6 L585.5 577.6 L586.5 577.6 L587.5 577.6 L588.5 577.6 L589.5 577.6 L590.5 577.6 L591.5 577.6 L592.5 577.6 L593.5 577.6 L594.5 577.6 L595.5 577.6 L596.5 577.6 L597.5 577.6 L598.5 577.6 L599.5 577.6 L600.4 577.6 L601.4 577.6 L602.4 577.6 L603.4 577.6 L604.4 577.6 L605.4 577.6 L606.4 577.6 L607.4 577.6 L608.4 577.6 L609.4 577.7 L610.4 577.7 L611.4 577.7 L612.4 577.7 L613.4 577.7 L614.4 577.7 L615.4 577.7 L616.4 577.7 L617.4 577.7 L618.4 577.7 L619.4 577.7 L620.4 577.7 L621.4 577.7 L622.4 577.7 L623.4 577.7 L624.4 577.7 L625.4 577.7 L626.4 577.7 L627.4 577.7 L628.4 577.7 L629.4 577.7 L630.4 577.7 L631.4 577.7 L632.4 577.7 L633.4 577.7 L634.4 577.7 L635.4 577.7 L636.4 577.8 L637.4 577.8 L638.4 577.8 L639.4 577.8 L640.4 577.8 L641.4 577.8 L642.4 577.8 L643.4 577.8 L644.4 577.8 L645.4 577.8 L646.4 577.8 L647.4 577.8 L648.4 577.8 L649.4 577.8 L650.4 577.8 L651.4 577.8 L652.4 577.8 L653.4 577.8 L654.4 577.8 L655.4 577.8 L656.4 577.8 L657.4 577.8 L658.4 577.8 L659.4 577.8 L660.4 577.8 L661.4 577.8 L662.4 577.8 L663.4 577.8 L664.3 577.9 L665.3 577.9 L666.3 577.9 L667.3 577.9 L668.3 577.9 L669.3 577.9 L670.3 577.9 L671.3 577.9 L672.3 577.9 L673.3 577.9 L674.3 577.9 L675.3 577.9 L676.3 577.9 L677.3 577.9 L678.3 577.9 L679.3 577.9 L680.3 577.9 L681.3 577.9 L682.3 577.9 L683.3 577.9 L684.3 577.9 L685.3 577.9 L686.3 577.9 L687.3 577.9 L688.3 577.9 L689.3 577.9 L690.3 577.9 L691.3 577.9 L692.3 577.9 L693.3 577.9 L694.3 577.9 L695.3 577.9 L696.3 577.9 L697.3 577.9 L698.3 577.9 L699.3 578 L700.3 578 L701.3 578 L702.3 578 L703.3 578 L704.3 578 L705.3 578 L706.3 578 L707.3 578 L708.3 578 L709.3 578 L710.3 578 L711.3 578 L712.3 578 L713.3 578 L714.3 578 L715.3 578 L716.3 578 L717.3 578 L718.3 578 L719.3 578 L720.3 578 L721.3 578 L722.3 578 L723.3 578 L724.3 578 L725.3 578 L726.3 578 L727.3 578 L728.3 578 L729.2 578 L730.2 578 L731.2 578 L732.2 578 L733.2 578 L734.2 578 L735.2 578 L736.2 578 L737.2 578 L738.2 578 L739.2 578 L740.2 578 L741.2 578 L742.2 578 L743.2 578 L744.2 578 L745.2 578 L746.2 578 L747.2 578 L748.2 578 L749.2 578 L750.2 578 L751.2 578 L752.2 578 L753.2 578 L754.2 578 L755.2 578 L756.2 578 L757.2 578 L758.2 578 L759.2 578 L760.2 578 L761.2 578 L762.2 578 L763.2 578 L764.2 578 L765.2 578 L766.2 578 L767.2 578 L768.2 578 L769.2 578 L770.2 578 L771.2 578 L772.2 578 L773.2 578 L774.2 578 L775.2 578 L776.2 578 L777.2 578 L778.2 578 L779.2 578 L780.2 578 L781.2 578 L782.2 578 L783.2 578 L784.2 578 L785.2 578 L786.2 578 L787.2 578 L788.2 578 L789.2 578 L790.2 578 L791.2 578 L792.1 578 L793.1 578 L794.1 578 L795.1 578 L796.1 578 L797.1 578 L798.1 578 L799.1 578 L800.1 578 L801.1 578 L802.1 578 L803.1 578 L804.1 578 L805 578 L805.4 578 L805.8 578 L806.2 578 L806.6 577.9 L807 577.9 L807.4 578 L807.8 578 L808.2 578 L808.6 578 L809 577.9 L809.4 578 L809.8 577.9 L810.2 578 L810.6 578 L811 578 L811.4 578 L811.8 578 L812.2 578 L812.6 578 L813 577.8 L813.4 577.8 L813.8 577.9 L814.2 577.8 L814.6 577.9 L815 577.7 L815.4 578 L815.8 577.8 L816.2 577.6 L816.6 577.8 L817 577.7 L817.4 577.6 L817.8 577.7 L818.2 577.5 L818.6 577.5 L819 577.8 L819.4 577.8 L819.8 577.4 L820.2 577.9 L820.6 577.5 L821 577.7 L821.4 578.1 L821.8 578 L822.2 577.8 L822.6 577.9 L823 577.9 L823.4 577.7 L823.8 578.3 L824.2 577.6 L824.6 577.9 L825 578.1 L825.4 577.8 L825.8 578.2 L826.2 577.7 L826.6 578.3 L827 578.2 L827.4 578.1 L827.8 578.3 L828.2 577.9 L828.6 578.3 L829 578.3 L829.4 578.1 L829.8 578 L830.2 578.2 L830.6 577.9 L831 577.5 L831.4 578.1 L831.8 577.6 L832.2 577.8 L832.6 578 L833 577.4 L833.4 577.2 L833.8 577.4 L834.2 577.9 L834.6 577.7 L835 577.7 L835.4 577.9 L835.8 578.5 L836.2 577.8 L836.6 578 L837 578.5 L837.4 578.1 L837.8 577.6 L838.2 577.8 L838.6 577.7 L839 577.3 L839.4 577.5 L839.8 577.3 L840.2 577.9 L840.6 577.4 L841 577.9 L841.4 578.4 L841.8 578.4 L842.2 577.8 L842.6 578.2 L843 577.8 L843.4 578 L843.8 578.2 L844.2 578.6 L844.6 578.8 L845 577.9 L845.4 577.4 L845.8 578.1 L846.2 577.5 L846.6 577.4 L847 578.5 L847.4 577.5 L847.8 578.4 L848.2 577.7 L848.6 578.6 L849 578.4 L849.4 577 L849.8 577.2 L850.2 578.4 L850.6 577.8 L851 577.5 L851.4 578.1 L851.8 578.2 L852.2 577.7 L852.6 577.6 L853 577 L853.4 577.5 L853.8 577.1 L854.2 578 L854.6 578 L855 577.2 L855.4 578.1 L855.8 577.2 L856.2 577.2 L856.6 578.3 L857 577.9 L857.4 578.8 L857.8 578.2 L858.2 578.2 L858.6 577 L859 578.3 L859.4 576.7 L859.8 577.6 L860.2 578.1 L860.6 578 L861 577.8 L861.4 577 L861.8 577.6 L862.2 577.9 L862.6 576.6 L863 578.4 L863.4 578.4 L863.8 577.5 L864.2 578.3 L864.6 577.7 L865 577.3 L865.4 578.4 L865.8 577 L866.2 578.7 L866.6 579.2 L867 577.7 L867.4 579.2 L867.8 577.3 L868.2 579.1 L868.6 577.6 L869 579.1 L869.4 577.6 L869.8 578.7 L870.2 576.4 L870.6 576.4 L871 578 L871.4 577.4 L871.8 577.2 L872.2 576.1 L872.6 576.6 L873 577.2 L873.4 576.6 L873.8 579.1 L874.2 578.7 L874.6 579.3 L875 578.9 L875.4 577.9 L875.8 577.2 L876.2 578.8 L876.6 577.2 L877 578.3 L877.4 578 L877.8 578.1 L878.2 576.9 L878.6 576.9 L879 578.1 L879.4 576.9 L879.8 578.2 L880.2 577.3 L880.6 577.7 L881 577.4 L881.4 578.5 L881.8 578.1 L882.2 577.6 L882.6 577.4 L883 578.2" stroke="#b04ea8" stroke-width="3.9"/>
<path d="M236.9 578.6 L237.9 578.5 L238.9 578.4 L239.9 578.4 L240.9 578.3 L241.9 578.2 L242.9 578.1 L243.9 578 L244.9 578 L245.9 577.9 L246.9 577.8 L247.9 577.8 L248.9 577.7 L249.9 577.6 L250.9 577.6 L251.9 577.5 L252.8 577.4 L253.8 577.4 L254.8 577.3 L255.8 577.3 L256.8 577.2 L257.8 577.2 L258.8 577.1 L259.8 577.1 L260.8 577 L261.8 577 L262.8 576.9 L263.8 576.9 L264.8 576.8 L265.8 576.8 L266.8 576.7 L267.8 576.7 L268.8 576.7 L269.8 576.6 L270.8 576.6 L271.8 576.5 L272.8 576.5 L273.8 576.5 L274.8 576.4 L275.8 576.4 L276.8 576.4 L277.8 576.4 L278.8 576.3 L279.8 576.3 L280.8 576.3 L281.8 576.3 L282.8 576.2 L283.7 576.2 L284.7 576.2 L285.7 576.2 L286.7 576.2 L287.7 576.1 L288.7 576.1 L289.7 576.1 L290.7 576.1 L291.7 576.1 L292.7 576.1 L293.7 576.1 L294.7 576 L295.7 576 L296.7 576 L297.7 576 L298.7 576 L299.7 576 L300.7 576 L301.7 576 L302.7 576 L303.7 576 L304.7 576 L305.7 576 L306.7 576 L307.7 576 L308.7 576 L309.7 576 L310.7 576 L311.7 576 L312.7 576 L313.7 576 L314.7 576 L315.7 576 L316.7 576 L317.7 576 L318.7 576 L319.7 576 L320.7 576 L321.7 576 L322.7 576 L323.7 576 L324.7 576 L325.7 576.1 L326.7 576.1 L327.7 576.1 L328.7 576.1 L329.7 576.1 L330.7 576.1 L331.7 576.1 L332.7 576.1 L333.7 576.1 L334.7 576.1 L335.7 576.2 L336.7 576.2 L337.7 576.2 L338.7 576.2 L339.7 576.2 L340.7 576.2 L341.7 576.2 L342.7 576.2 L343.7 576.3 L344.7 576.3 L345.7 576.3 L346.7 576.3 L347.7 576.3 L348.7 576.3 L349.7 576.3 L350.7 576.4 L351.7 576.4 L352.7 576.4 L353.7 576.4 L354.7 576.4 L355.7 576.4 L356.7 576.4 L357.7 576.5 L358.7 576.5 L359.7 576.5 L360.7 576.5 L361.7 576.5 L362.7 576.5 L363.7 576.5 L364.7 576.5 L365.7 576.6 L366.7 576.6 L367.7 576.6 L368.7 576.6 L369.7 576.6 L370.7 576.6 L371.7 576.6 L372.7 576.6 L373.7 576.7 L374.7 576.7 L375.7 576.7 L376.7 576.7 L377.7 576.7 L378.7 576.7 L379.7 576.7 L380.7 576.7 L381.7 576.7 L382.7 576.7 L383.7 576.7 L384.7 576.7 L385.7 576.7 L386.7 576.7 L387.7 576.7 L388.7 576.8 L389.7 576.8 L390.7 576.8 L391.7 576.8 L392.7 576.8 L393.7 576.8 L394.7 576.8 L395.7 576.8 L396.7 576.8 L397.7 576.8 L398.7 576.8 L399.7 576.7 L400.7 576.7 L401.7 576.7 L402.7 576.7 L403.7 576.7 L404.7 576.7 L405.7 576.7 L406.7 576.7 L407.7 576.7 L408.7 576.7 L409.7 576.7 L410.7 576.7 L411.7 576.6 L412.7 576.6 L413.7 576.6 L414.7 576.6 L415.7 576.6 L416.7 576.6 L417.7 576.5 L418.7 576.5 L419.7 576.5 L420.7 576.5 L421.7 576.5 L422.7 576.4 L423.7 576.4 L424.7 576.4 L425.7 576.3 L426.7 576.3 L427.7 576.3 L428.7 576.3 L429.7 576.2 L430.7 576.2 L431.7 576.2 L432.7 576.1 L433.7 576.1 L434.7 576.1 L435.7 576 L436.6 576 L437.6 575.9 L438.6 575.9 L439.6 575.9 L440.6 575.8 L441.6 575.8 L442.6 575.7 L443.6 575.7 L444.6 575.6 L445.6 575.6 L446.6 575.5 L447.6 575.5 L448.6 575.4 L449.6 575.4 L450.6 575.3 L451.6 575.3 L452.6 575.2 L453.6 575.2 L454.6 575.1 L455.6 575.1 L456.6 575 L457.6 575 L458.6 574.9 L459.6 574.8 L460.6 574.8 L461.6 574.7 L462.6 574.7 L463.6 574.6 L464.6 574.5 L465.6 574.5 L466.6 574.4 L467.5 574.3 L468.5 574.3 L469.5 574.2 L470.5 574.1 L471.5 574.1 L472.5 574 L473.5 573.9 L474.5 573.9 L475.5 573.8 L476.5 573.7 L477.5 573.6 L478.5 573.6 L479.5 573.5 L480.5 573.4 L481.5 573.4 L482.5 573.3 L483.5 573.2 L484.5 573.1 L485.5 573 L486.5 573 L487.5 572.9 L488.5 572.8 L489.5 572.7 L490.5 572.6 L491.5 572.6 L492.4 572.5 L493.4 572.4 L494.4 572.3 L495.4 572.2 L496.4 572.2 L497.4 572.1 L498.4 572 L499.4 571.9 L500.4 571.8 L501.4 571.7 L502.4 571.6 L503.4 571.5 L504.4 571.5 L505.4 571.4 L506.4 571.3 L507.4 571.2 L508.4 571.1 L509.4 571 L510.4 570.9 L511.4 570.8 L512.4 570.7 L513.4 570.6 L514.3 570.5 L515.3 570.4 L516.3 570.4 L517.3 570.3 L518.3 570.2 L519.3 570.1 L520.3 570 L521.3 569.9 L522.3 569.8 L523.3 569.7 L524.3 569.6 L525.3 569.5 L526.3 569.4 L527.3 569.3 L528.3 569.2 L529.3 569.1 L530.3 569 L531.3 568.9 L532.3 568.8 L533.3 568.7 L534.3 568.6 L535.3 568.5 L536.2 568.4 L537.2 568.3 L538.2 568.2 L539.2 568.1 L540.2 568 L541.2 567.9 L542.2 567.8 L543.2 567.7 L544.2 567.6 L545.2 567.5 L546.2 567.4 L547.2 567.3 L548.2 567.2 L549.2 567.1 L550.2 567 L551.2 566.9 L552.2 566.8 L553.2 566.7 L554.2 566.6 L555.2 566.5 L556.2 566.4 L557.2 566.4 L558.2 566.3 L559.1 566.2 L560.1 566.1 L561.1 566 L562.1 565.9 L563.1 565.8 L564.1 565.7 L565.1 565.6 L566.1 565.5 L567.1 565.5 L568.1 565.4 L569.1 565.3 L570.1 565.2 L571.1 565.1 L572.1 565 L573.1 565 L574.1 564.9 L575.1 564.8 L576.1 564.7 L577.1 564.6 L578.1 564.6 L579.1 564.5 L580.1 564.4 L581.1 564.3 L582.1 564.3 L583 564.2 L584 564.1 L585 564.1 L586 564 L587 563.9 L588 563.9 L589 563.8 L590 563.7 L591 563.7 L592 563.6 L593 563.6 L594 563.5 L595 563.5 L596 563.4 L597 563.4 L598 563.3 L599 563.3 L600 563.2 L601 563.2 L602 563.1 L603 563.1 L604 563.1 L605 563 L606 563 L607 563 L608 562.9 L609 562.9 L610 562.9 L610.9 562.8 L611.9 562.8 L612.9 562.8 L613.9 562.8 L614.9 562.8 L615.9 562.8 L616.9 562.7 L617.9 562.7 L618.9 562.7 L619.9 562.7 L620.9 562.7 L621.9 562.7 L622.9 562.7 L623.9 562.7 L624.9 562.7 L625.9 562.7 L626.9 562.7 L627.9 562.8 L628.9 562.8 L629.9 562.8 L630.9 562.8 L631.9 562.8 L632.9 562.9 L633.9 562.9 L634.9 562.9 L635.9 562.9 L636.9 563 L637.9 563 L638.9 563.1 L639.9 563.1 L640.9 563.1 L641.9 563.2 L642.9 563.2 L643.9 563.3 L644.9 563.3 L645.9 563.4 L646.9 563.5 L647.9 563.5 L648.9 563.6 L649.9 563.6 L650.8 563.7 L651.8 563.8 L652.8 563.8 L653.8 563.9 L654.8 564 L655.8 564.1 L656.8 564.1 L657.8 564.2 L658.8 564.3 L659.8 564.4 L660.8 564.5 L661.8 564.5 L662.8 564.6 L663.8 564.7 L664.8 564.8 L665.8 564.9 L666.8 565 L667.8 565.1 L668.8 565.2 L669.8 565.3 L670.8 565.4 L671.8 565.5 L672.8 565.6 L673.8 565.7 L674.8 565.8 L675.8 565.9 L676.8 566 L677.8 566.2 L678.7 566.3 L679.7 566.4 L680.7 566.5 L681.7 566.6 L682.7 566.7 L683.7 566.8 L684.7 567 L685.7 567.1 L686.7 567.2 L687.7 567.3 L688.7 567.5 L689.7 567.6 L690.7 567.7 L691.7 567.8 L692.7 568 L693.6 568.1 L694.6 568.2 L695.6 568.4 L696.6 568.5 L697.6 568.6 L698.6 568.8 L699.6 568.9 L700.6 569 L701.6 569.2 L702.6 569.3 L703.6 569.5 L704.5 569.6 L705.5 569.7 L706.5 569.9 L707.5 570 L708.5 570.2 L709.5 570.3 L710.5 570.5 L711.5 570.6 L712.4 570.7 L713.4 570.9 L714.4 571 L715.4 571.2 L716.4 571.3 L717.4 571.5 L718.4 571.6 L719.4 571.8 L720.3 571.9 L721.3 572 L722.3 572.2 L723.3 572.3 L724.3 572.5 L725.3 572.6 L726.3 572.7 L727.2 572.9 L728.2 573 L729.2 573.2 L730.2 573.3 L731.2 573.4 L732.2 573.6 L733.2 573.7 L734.1 573.8 L735.1 574 L736.1 574.1 L737.1 574.2 L738.1 574.4 L739.1 574.5 L740.1 574.6 L741.1 574.7 L742 574.9 L743 575 L744 575.1 L745 575.2 L746 575.3 L747 575.4 L748 575.5 L749 575.6 L749.9 575.8 L750.9 575.9 L751.9 576 L752.9 576.1 L753.9 576.2 L754.9 576.2 L755.9 576.3 L756.9 576.4 L757.9 576.5 L758.8 576.6 L759.8 576.7 L760.8 576.7 L761.8 576.8 L762.8 576.9 L763.8 577 L764.8 577 L765.8 577.1 L766.8 577.1 L767.8 577.2 L768.8 577.3 L769.8 577.3 L770.8 577.3 L771.7 577.4 L772.7 577.4 L773.7 577.5 L774.7 577.5 L775.7 577.5 L776.7 577.6 L777.7 577.6 L778.7 577.6 L779.7 577.6 L780.7 577.7 L781.7 577.7 L782.7 577.7 L783.7 577.7 L784.7 577.7 L785.7 577.8 L786.7 577.8 L787.7 577.8 L788.7 577.8 L789.7 577.8 L790.7 577.8 L791.7 577.8 L792.7 577.8 L793.7 577.8 L794.7 577.8 L795.7 577.8 L796.7 577.8 L797.8 577.8 L798.8 577.8 L799.8 577.8 L800.8 577.8 L801.8 577.8 L802.8 577.8 L803.8 577.8 L804.8 577.8 L805 577.8 L805.4 577.8 L805.8 577.8 L806.2 577.8 L806.6 577.7 L807 577.8 L807.4 577.8 L807.8 577.6 L808.2 577.7 L808.6 577.4 L809 577.4 L809.4 577.5 L809.8 577.8 L810.2 577.7 L810.6 577.6 L811 577.9 L811.4 577.9 L811.8 577.8 L812.2 578.3 L812.6 578.1 L813 577.5 L813.4 577.8 L813.8 577.7 L814.2 578.1 L814.6 577.8 L815 577 L815.4 578 L815.8 576.5 L816.2 577.1 L816.6 577.8 L817 576.8 L817.4 577.5 L817.8 576.7 L818.2 578.1 L818.6 578.4 L819 578.1 L819.4 578.8 L819.8 577.5 L820.2 578.3 L820.6 578 L821 578 L821.4 577.6 L821.8 578.6 L822.2 578.8 L822.6 577.5 L823 577.9 L823.4 576 L823.8 577.8 L824.2 577.5 L824.6 578.5 L825 577.9 L825.4 576 L825.8 576.2 L826.2 577.1 L826.6 575.1 L827 576.8 L827.4 575.9 L827.8 575.8 L828.2 575.8 L828.6 578.6 L829 576.3 L829.4 577 L829.8 577.4 L830.2 579.1 L830.6 575.7 L831 576.9 L831.4 577.1 L831.8 578.3 L832.2 577.8 L832.6 577.7 L833 574.8 L833.4 575.6 L833.8 575.5 L834.2 578.1 L834.6 578.7 L835 575 L835.4 575.3 L835.8 575.7 L836.2 575.9 L836.6 577.2 L837 577.5 L837.4 575.6 L837.8 573.9 L838.2 575.8 L838.6 575.3 L839 576.1 L839.4 577.9 L839.8 576.2 L840.2 575 L840.6 575.5 L841 575.8 L841.4 572.1 L841.8 577 L842.2 576.2 L842.6 576.7 L843 576.2 L843.4 573.6 L843.8 573.7 L844.2 572 L844.6 575.5 L845 571.9 L845.4 572.1 L845.8 573.1 L846.2 572.9 L846.6 574.2 L847 572.4 L847.4 572.2 L847.8 573.4 L848.2 573.2 L848.6 575.2 L849 573 L849.4 579.2 L849.8 577.6 L850.2 574.4 L850.6 575.1 L851 575.1 L851.4 574.4 L851.8 571.8 L852.2 576.5 L852.6 576.8 L853 572 L853.4 571.3 L853.8 567.3 L854.2 566.9 L854.6 568.7 L855 567.9 L855.4 572.3 L855.8 566.7 L856.2 565.4 L856.6 572.9 L857 569.2 L857.4 565.9 L857.8 569.2 L858.2 565 L858.6 569.4 L859 573.4 L859.4 572.6 L859.8 571.3 L860.2 567.6 L860.6 568.6 L861 567 L861.4 572.5 L861.8 570.4 L862.2 572.7 L862.6 568.7 L863 567.7 L863.4 573.3 L863.8 575 L864.2 573.9 L864.6 573.4 L865 572.9 L865.4 571.4 L865.8 565.8 L866.2 567.9 L866.6 565.7 L867 561.7 L867.4 561 L867.8 562.8 L868.2 562 L868.6 565.9 L869 568.1 L869.4 562.4 L869.8 567 L870.2 567.1 L870.6 566.3 L871 559.6 L871.4 557.5 L871.8 557.8 L872.2 557.9 L872.6 558.4 L873 563.5 L873.4 567 L873.8 566.9 L874.2 563.4 L874.6 565.9 L875 568.1 L875.4 558.6 L875.8 563.8 L876.2 565.2 L876.6 562.4 L877 560.6 L877.4 556 L877.8 551.1 L878.2 556.8 L878.6 550.6 L879 557 L879.4 559.9 L879.8 554.1 L880.2 555.1 L880.6 562.5 L881 560.8 L881.4 555.3 L881.8 555.7 L882.2 556.1 L882.6 564 L883 562 L883.4 553.4" stroke="#ffe500" stroke-width="3.9"/>
<path d="M825 579 L840 578 L850 577 L857 574 L862 570 L870 567 L878 563 L883.5 560 L883.5 579 L825 579Z" fill="#ffe500"/>
</g>
<rect x="103.25" y="30.5" width="828.25" height="550.5" fill="none" stroke="#111" stroke-width="3.5"/>
<g font-size="28" fill="#111"><text x="79.9" y="616.5" font-size="28" fill="#111">550</text><text x="172.7" y="616.5" font-size="28" fill="#111">600</text><text x="264.9" y="616.5" font-size="28" fill="#111">650</text><text x="356" y="616.5" font-size="28" fill="#111">700</text><text x="448" y="616.5" font-size="28" fill="#111">750</text><text x="541.5" y="616.5" font-size="28" fill="#111">800</text><text x="632.1" y="616.5" font-size="28" fill="#111">850</text><text x="724.1" y="616.5" font-size="28" fill="#111">900</text><text x="812.8" y="616.5" font-size="28" fill="#111">950</text><text x="900.4" y="616.5" font-size="28" fill="#111"> 000</text><path d="M910.8 616.5H908.3V600.8Q907.4 601.7 906 602.5T903.4 603.8V601.4Q905.5 600.4 907 599.1T909.2 596.4H910.8V616.5Z" fill="#111"/><text x="55.1" y="591.5" font-size="28" fill="#111">0.0</text><text x="55.1" y="486.6" font-size="28" fill="#111">0.2</text><text x="55.1" y="381.7" font-size="28" fill="#111">0.4</text><text x="55.1" y="276.7" font-size="28" fill="#111">0.6</text><text x="55.1" y="171.8" font-size="28" fill="#111">0.8</text><text x="55.1" y="66.9" font-size="28" fill="#111"> .0</text><path d="M65.5 66.9H63V51.2Q62.2 52.1 60.7 52.9T58.1 54.2V51.8Q60.2 50.8 61.8 49.5T64 46.8H65.5V66.9Z" fill="#111"/></g>
<text x="518" y="659.5" font-size="31" text-anchor="middle" fill="#111">Wavelength (nm)</text>
<text transform="translate(27 261.2) rotate(-90)" font-size="31" text-anchor="middle" fill="#111">Intensity (arb. u.)</text>
<g font-size="28" fill="#111"><text x="793.5" y="104.8">Gap</text><text x="793.5" y="146.3">25 nm</text><text x="793.7" y="190">5 nm</text></g>
<path d="M707.5 137.5H723.5M746 137.5H762.5" stroke="#111" stroke-width="4.5" stroke-linecap="round"/>
<path d="M707.5 179.3H784" stroke="#111" stroke-width="4.9" stroke-linecap="round"/>
<text x="426.2" y="72" font-size="31" style="font-family:&quot;Liberation Serif&quot;,serif" fill="#111">θ</text><path d="M450.6 56.8h14v2.4h-14zM450.6 62.8h14v2.4h-14z" fill="#111"/><text x="473.6" y="72" font-size="31" fill="#111">0°</text>
<path d="M475.4 86V356" stroke="#111" stroke-width="3.6"/>
<path d="M466 353.2L484.6 353.2L475.3 393Z" fill="#111"/>
<text x="419.8" y="421.3" font-size="31" style="font-family:&quot;Liberation Serif&quot;,serif" fill="#6cc2df">θ</text><path d="M443.8 405.5h13.8v2.5h-13.8zM443.8 412.3h13.8v2.5h-13.8z" fill="#6cc2df"/><text x="466.7" y="421.3" font-size="31" fill="#6cc2df">90°</text>
<text x="3" y="760.8" font-size="43.5" font-weight="bold" fill="#111">B</text>
<path d="M107.4 771V1443M107.4 787H121.4M107.4 867H114.4M107.4 947H121.4M107.4 1027H114.4M107.4 1107H121.4M107.4 1187H114.4M107.4 1267H121.4M107.4 1347H114.4M107.4 1427H121.4" stroke="#111" stroke-width="3.3" fill="none"/>
<g font-size="28" fill="#111"><text x="60.1" y="797" font-size="28" fill="#111"> .0</text><path d="M70.5 797H68V781.3Q67.2 782.2 65.7 783T63.1 784.3V781.9Q65.2 780.9 66.8 779.6T69 776.9H70.5V797Z" fill="#111"/><text x="60.1" y="957" font-size="28" fill="#111">0.5</text><text x="60.1" y="1117" font-size="28" fill="#111">0.0</text><text x="60.1" y="1277" font-size="28" fill="#111">0.5</text><text x="60.1" y="1437" font-size="28" fill="#111"> .0</text><path d="M70.5 1437H68V1421.3Q67.2 1422.2 65.7 1423T63.1 1424.3V1421.9Q65.2 1420.9 66.8 1419.6T69 1416.9H70.5V1437Z" fill="#111"/></g>
<text transform="translate(26.5 1108) rotate(-90)" font-size="31" text-anchor="middle" fill="#111">Intensity (arb.u.)</text>
<circle cx="544.2" cy="1107.5" r="80" fill="none" stroke="#bababa" stroke-width="1.0" stroke-dasharray="3.5 3"/><circle cx="544.2" cy="1107.5" r="240" fill="none" stroke="#bababa" stroke-width="1.0" stroke-dasharray="3.5 3"/><circle cx="544.2" cy="1107.5" r="160" fill="none" stroke="#808080" stroke-width="1.3"/><circle cx="544.2" cy="1107.5" r="320" fill="none" stroke="#808080" stroke-width="1.3"/><path d="M698.7 1066.1L853.3 1024.7M657.3 994.4L770.5 881.2M585.6 953L627 798.4M502.8 953L461.4 798.4M431.1 994.4L317.9 881.2M389.7 1066.1L235.1 1024.7M389.7 1148.9L235.1 1190.3M431.1 1220.6L317.9 1333.8M502.8 1262L461.4 1416.6M585.6 1262L627 1416.6M657.3 1220.6L770.5 1333.8M698.7 1148.9L853.3 1190.3" stroke="#bababa" stroke-width="1.0" stroke-dasharray="3.5 3" fill="none"/><path d="M624.2 1107.5L864.2 1107.5M613.5 1067.5L821.3 947.5M584.2 1038.2L704.2 830.4M544.2 1027.5L544.2 787.5M504.2 1038.2L384.2 830.4M474.9 1067.5L267.1 947.5M464.2 1107.5L224.2 1107.5M474.9 1147.5L267.1 1267.5M504.2 1176.8L384.2 1384.6M544.2 1187.5L544.2 1427.5M584.2 1176.8L704.2 1384.6M613.5 1147.5L821.3 1267.5" stroke="#7c7c7c" stroke-width="1.3" fill="none"/><circle cx="544.2" cy="1107.5" r="335.5" fill="none" stroke="#111" stroke-width="2"/><path d="M864.2 1107.5L879.7 1107.5M860.1 1022.9L868.3 1020.7M821.3 947.5L834.8 939.8M775.4 876.3L781.4 870.3M704.2 830.4L712 816.9M628.8 791.6L631 783.4M544.2 787.5L544.2 772M459.6 791.6L457.4 783.4M384.2 830.4L376.5 816.9M313 876.3L307 870.3M267.1 947.5L253.6 939.8M228.3 1022.9L220.1 1020.7M224.2 1107.5L208.7 1107.5M228.3 1192.1L220.1 1194.3M267.1 1267.5L253.6 1275.2M313 1338.7L307 1344.7M384.2 1384.6L376.4 1398.1M459.6 1423.4L457.4 1431.6M544.2 1427.5L544.2 1443M628.8 1423.4L631 1431.6M704.2 1384.6L712 1398.1M775.4 1338.7L781.4 1344.7M821.3 1267.5L834.8 1275.3M860.1 1192.1L868.3 1194.3" stroke="#111" stroke-width="1.8" fill="none"/><path d="M856 1099h16v16h-16zM852.7 1070.9h16v16h-16zM840 1045.7h16v16h-16zM825 1021.7h16v16h-16zM802.5 1002.2h16v16h-16zM775.9 987.2h16v16h-16zM744.4 978.8h16v16h-16zM713.9 974.9h16v16h-16zM682.4 975.7h16v16h-16zM652.2 983h16v16h-16zM624.1 993.9h16v16h-16zM599.4 1007.4h16v16h-16zM579.3 1023h16v16h-16zM564.3 1039.7h16v16h-16zM552.7 1055.1h16v16h-16zM543.5 1069h16v16h-16zM540.7 1080.7h16v16h-16zM538 1086h16v16h-16zM536 1088h16v16h-16zM534 1086h16v16h-16zM532.3 1080.6h16v16h-16zM527.6 1067.8h16v16h-16zM519.8 1054h16v16h-16zM507.7 1037.6h16v16h-16zM491.7 1021.9h16v16h-16zM471.1 1006.9h16v16h-16zM446.8 993.1h16v16h-16zM418.7 981.8h16v16h-16zM389.5 975.1h16v16h-16zM358.7 974h16v16h-16zM325 977h16v16h-16zM295 986.3h16v16h-16zM269.9 1001.3h16v16h-16zM247.5 1021.9h16v16h-16zM229.5 1044.4h16v16h-16zM222 1071.4h16v16h-16zM222 1098.7h16v16h-16zM223.8 1126.1h16v16h-16zM232.5 1152.3h16v16h-16zM250.1 1175.5h16v16h-16zM271.4 1196.1h16v16h-16zM298 1210h16v16h-16zM328.8 1218.6h16v16h-16zM359.5 1222.4h16v16h-16zM390.6 1220.5h16v16h-16zM419.8 1214.9h16v16h-16zM448.6 1203.6h16v16h-16zM472.3 1189.8h16v16h-16zM491.7 1173.7h16v16h-16zM508.4 1158.4h16v16h-16zM520.3 1142.2h16v16h-16zM529 1128.5h16v16h-16zM533 1118h16v16h-16zM534 1112h16v16h-16zM535.5 1108.5h16v16h-16zM538 1112h16v16h-16zM540 1118h16v16h-16zM544 1128.5h16v16h-16zM552 1141.6h16v16h-16zM563.2 1157.5h16v16h-16zM578.6 1173.4h16v16h-16zM599.4 1188.7h16v16h-16zM623 1203.3h16v16h-16zM650.4 1213.1h16v16h-16zM679.5 1219.7h16v16h-16zM711.1 1221.2h16v16h-16zM742 1217.9h16v16h-16zM769.4 1207.8h16v16h-16zM795.4 1193.7h16v16h-16zM816.6 1174h16v16h-16zM842.2 1153.2h16v16h-16zM854 1126.7h16v16h-16z" fill="#6ab42d"/><path d="M864.2 1107.5 L864.2 1106.1 L864.2 1104.7 L864.1 1103.3 L864.1 1101.9 L864 1100.5 L863.9 1099.1 L863.8 1097.7 L863.6 1096.3 L863.5 1095 L863.3 1093.6 L863.1 1092.2 L862.9 1090.8 L862.7 1089.4 L862.4 1088 L862.1 1086.7 L861.9 1085.3 L861.6 1083.9 L861.2 1082.5 L860.9 1081.2 L860.6 1079.8 L860.2 1078.5 L859.8 1077.1 L859.4 1075.8 L859 1074.4 L858.5 1073.1 L858.1 1071.7 L857.6 1070.4 L857.1 1069.1 L856.6 1067.8 L856.1 1066.4 L855.5 1065.1 L854.9 1063.8 L854.4 1062.5 L853.8 1061.2 L853.2 1059.9 L852.5 1058.7 L851.9 1057.4 L851.2 1056.1 L850.5 1054.9 L849.8 1053.6 L849.1 1052.4 L848.4 1051.1 L847.6 1049.9 L846.9 1048.7 L846.1 1047.4 L845.3 1046.2 L844.5 1045 L843.7 1043.8 L842.8 1042.7 L842 1041.5 L841.1 1040.3 L840.2 1039.2 L839.3 1038 L838.4 1036.9 L837.5 1035.7 L836.5 1034.6 L835.6 1033.5 L834.6 1032.4 L833.6 1031.3 L832.6 1030.2 L831.6 1029.2 L830.5 1028.1 L829.5 1027 L828.4 1026 L827.4 1025 L826.3 1023.9 L825.2 1022.9 L824.1 1021.9 L822.9 1021 L821.8 1020 L820.6 1019 L819.5 1018.1 L818.3 1017.1 L817.1 1016.2 L815.9 1015.3 L814.7 1014.4 L813.5 1013.5 L812.2 1012.6 L811 1011.7 L809.7 1010.9 L808.5 1010 L807.2 1009.2 L805.9 1008.4 L804.6 1007.6 L803.3 1006.8 L801.9 1006 L800.6 1005.2 L799.3 1004.4 L797.9 1003.7 L796.5 1003 L795.2 1002.3 L793.8 1001.6 L792.4 1000.9 L791 1000.2 L789.6 999.5 L788.2 998.9 L786.7 998.2 L785.3 997.6 L783.9 997 L782.4 996.4 L781 995.8 L779.5 995.3 L778 994.7 L776.5 994.2 L775.1 993.7 L773.6 993.1 L772.1 992.6 L770.6 992.2 L769 991.7 L767.5 991.2 L766 990.8 L764.5 990.4 L762.9 990 L761.4 989.6 L759.8 989.2 L758.3 988.8 L756.7 988.5 L755.2 988.1 L753.6 987.8 L752 987.5 L750.5 987.2 L748.9 986.9 L747.3 986.7 L745.7 986.4 L744.1 986.2 L742.6 985.9 L741 985.7 L739.4 985.5 L737.8 985.4 L736.2 985.2 L734.6 985 L733 984.9 L731.4 984.8 L729.8 984.7 L728.1 984.6 L726.5 984.5 L724.9 984.4 L723.3 984.4 L721.7 984.4 L720.1 984.3 L718.5 984.3 L716.9 984.3 L715.3 984.4 L713.6 984.4 L712 984.4 L710.4 984.5 L708.8 984.6 L707.2 984.7 L705.6 984.8 L704 984.9 L702.4 985 L700.8 985.2 L699.2 985.3 L697.6 985.5 L696 985.7 L694.4 985.9 L692.8 986.1 L691.2 986.3 L689.6 986.5 L688.1 986.8 L686.5 987.1 L684.9 987.3 L683.3 987.6 L681.8 987.9 L680.2 988.2 L678.6 988.6 L677.1 988.9 L675.5 989.2 L674 989.6 L672.4 990 L670.9 990.4 L669.4 990.8 L667.9 991.2 L666.3 991.6 L664.8 992 L663.3 992.5 L661.8 992.9 L660.3 993.4 L658.8 993.9 L657.3 994.4 L655.9 994.9 L654.4 995.4 L652.9 995.9 L651.5 996.4 L650 997 L648.6 997.5 L647.1 998.1 L645.7 998.6 L644.3 999.2 L642.9 999.8 L641.5 1000.4 L640.1 1001 L638.7 1001.6 L637.3 1002.3 L635.9 1002.9 L634.6 1003.6 L633.2 1004.2 L631.9 1004.9 L630.5 1005.5 L629.2 1006.2 L627.9 1006.9 L626.6 1007.6 L625.3 1008.3 L624 1009 L622.7 1009.7 L621.4 1010.5 L620.1 1011.2 L618.9 1011.9 L617.6 1012.7 L616.4 1013.4 L615.2 1014.2 L613.9 1014.9 L612.7 1015.7 L611.5 1016.5 L610.4 1017.3 L609.2 1018.1 L608 1018.9 L606.9 1019.6 L605.7 1020.5 L604.6 1021.3 L603.5 1022.1 L602.3 1022.9 L601.2 1023.7 L600.2 1024.5 L599.1 1025.4 L598 1026.2 L596.9 1027 L595.9 1027.9 L594.9 1028.7 L593.8 1029.6 L592.8 1030.4 L591.8 1031.3 L590.8 1032.2 L589.8 1033 L588.9 1033.9 L587.9 1034.7 L587 1035.6 L586 1036.5 L585.1 1037.3 L584.2 1038.2 L583.3 1039.1 L582.4 1040 L581.5 1040.8 L580.7 1041.7 L579.8 1042.6 L579 1043.5 L578.1 1044.3 L577.3 1045.2 L576.5 1046.1 L575.7 1047 L574.9 1047.9 L574.1 1048.7 L573.4 1049.6 L572.6 1050.5 L571.9 1051.4 L571.2 1052.2 L570.4 1053.1 L569.7 1054 L569 1054.8 L568.4 1055.7 L567.7 1056.6 L567 1057.4 L566.4 1058.3 L565.7 1059.1 L565.1 1060 L564.5 1060.8 L563.9 1061.7 L563.3 1062.5 L562.7 1063.4 L562.1 1064.2 L561.6 1065 L561 1065.9 L560.5 1066.7 L560 1067.5 L559.4 1068.3 L558.9 1069.1 L558.4 1069.9 L557.9 1070.7 L557.5 1071.5 L557 1072.3 L556.5 1073.1 L556.1 1073.9 L555.7 1074.7 L555.2 1075.4 L554.8 1076.2 L554.4 1076.9 L554 1077.7 L553.6 1078.4 L553.3 1079.2 L552.9 1079.9 L552.5 1080.6 L552.2 1081.3 L551.9 1082 L551.5 1082.8 L551.2 1083.4 L550.9 1084.1 L550.6 1084.8 L550.3 1085.5 L550 1086.1 L549.7 1086.8 L549.5 1087.4 L549.2 1088.1 L549 1088.7 L548.7 1089.3 L548.5 1089.9 L548.3 1090.5 L548.1 1091.1 L547.8 1091.7 L547.6 1092.3 L547.4 1092.9 L547.3 1093.4 L547.1 1094 L546.9 1094.5 L546.7 1095 L546.6 1095.6 L546.4 1096.1 L546.3 1096.6 L546.1 1097.1 L546 1097.5 L545.9 1098 L545.8 1098.5 L545.6 1098.9 L545.5 1099.3 L545.4 1099.8 L545.3 1100.2 L545.2 1100.6 L545.1 1101 L545.1 1101.4 L545 1101.7 L544.9 1102.1 L544.8 1102.4 L544.8 1102.8 L544.7 1103.1 L544.7 1103.4 L544.6 1103.7 L544.6 1104 L544.5 1104.3 L544.5 1104.6 L544.4 1104.8 L544.4 1105.1 L544.4 1105.3 L544.4 1105.5 L544.3 1105.7 L544.3 1105.9 L544.3 1106.1 L544.3 1106.3 L544.3 1106.5 L544.2 1106.6 L544.2 1106.8 L544.2 1106.9 L544.2 1107 L544.2 1107.1 L544.2 1107.2 L544.2 1107.3 L544.2 1107.3 L544.2 1107.4 L544.2 1107.4 L544.2 1107.5 L544.2 1107.5 L544.2 1107.5 L544.2 1107.5 L544.2 1107.5 L544.2 1107.4 L544.2 1107.4 L544.2 1107.3 L544.2 1107.3 L544.2 1107.2 L544.2 1107.1 L544.2 1107 L544.2 1106.9 L544.2 1106.8 L544.2 1106.6 L544.1 1106.5 L544.1 1106.3 L544.1 1106.1 L544.1 1105.9 L544.1 1105.7 L544 1105.5 L544 1105.3 L544 1105.1 L544 1104.8 L543.9 1104.6 L543.9 1104.3 L543.8 1104 L543.8 1103.7 L543.7 1103.4 L543.7 1103.1 L543.6 1102.8 L543.6 1102.4 L543.5 1102.1 L543.4 1101.7 L543.3 1101.4 L543.3 1101 L543.2 1100.6 L543.1 1100.2 L543 1099.8 L542.9 1099.3 L542.8 1098.9 L542.6 1098.5 L542.5 1098 L542.4 1097.5 L542.3 1097.1 L542.1 1096.6 L542 1096.1 L541.8 1095.6 L541.7 1095 L541.5 1094.5 L541.3 1094 L541.1 1093.4 L541 1092.9 L540.8 1092.3 L540.6 1091.7 L540.3 1091.1 L540.1 1090.5 L539.9 1089.9 L539.7 1089.3 L539.4 1088.7 L539.2 1088.1 L538.9 1087.4 L538.7 1086.8 L538.4 1086.1 L538.1 1085.5 L537.8 1084.8 L537.5 1084.1 L537.2 1083.4 L536.9 1082.8 L536.5 1082 L536.2 1081.3 L535.9 1080.6 L535.5 1079.9 L535.1 1079.2 L534.8 1078.4 L534.4 1077.7 L534 1076.9 L533.6 1076.2 L533.2 1075.4 L532.7 1074.7 L532.3 1073.9 L531.9 1073.1 L531.4 1072.3 L530.9 1071.5 L530.5 1070.7 L530 1069.9 L529.5 1069.1 L529 1068.3 L528.4 1067.5 L527.9 1066.7 L527.4 1065.9 L526.8 1065 L526.3 1064.2 L525.7 1063.4 L525.1 1062.5 L524.5 1061.7 L523.9 1060.8 L523.3 1060 L522.7 1059.1 L522 1058.3 L521.4 1057.4 L520.7 1056.6 L520 1055.7 L519.4 1054.8 L518.7 1054 L518 1053.1 L517.2 1052.2 L516.5 1051.4 L515.8 1050.5 L515 1049.6 L514.3 1048.7 L513.5 1047.9 L512.7 1047 L511.9 1046.1 L511.1 1045.2 L510.3 1044.3 L509.4 1043.5 L508.6 1042.6 L507.7 1041.7 L506.9 1040.8 L506 1040 L505.1 1039.1 L504.2 1038.2 L503.3 1037.3 L502.4 1036.5 L501.4 1035.6 L500.5 1034.7 L499.5 1033.9 L498.6 1033 L497.6 1032.2 L496.6 1031.3 L495.6 1030.4 L494.6 1029.6 L493.5 1028.7 L492.5 1027.9 L491.5 1027 L490.4 1026.2 L489.3 1025.4 L488.2 1024.5 L487.2 1023.7 L486.1 1022.9 L484.9 1022.1 L483.8 1021.3 L482.7 1020.5 L481.5 1019.6 L480.4 1018.9 L479.2 1018.1 L478 1017.3 L476.9 1016.5 L475.7 1015.7 L474.5 1014.9 L473.2 1014.2 L472 1013.4 L470.8 1012.7 L469.5 1011.9 L468.3 1011.2 L467 1010.5 L465.7 1009.7 L464.4 1009 L463.1 1008.3 L461.8 1007.6 L460.5 1006.9 L459.2 1006.2 L457.9 1005.5 L456.5 1004.9 L455.2 1004.2 L453.8 1003.6 L452.5 1002.9 L451.1 1002.3 L449.7 1001.6 L448.3 1001 L446.9 1000.4 L445.5 999.8 L444.1 999.2 L442.7 998.6 L441.3 998.1 L439.8 997.5 L438.4 997 L436.9 996.4 L435.5 995.9 L434 995.4 L432.5 994.9 L431.1 994.4 L429.6 993.9 L428.1 993.4 L426.6 992.9 L425.1 992.5 L423.6 992 L422.1 991.6 L420.5 991.2 L419 990.8 L417.5 990.4 L416 990 L414.4 989.6 L412.9 989.2 L411.3 988.9 L409.8 988.6 L408.2 988.2 L406.6 987.9 L405.1 987.6 L403.5 987.3 L401.9 987.1 L400.3 986.8 L398.8 986.5 L397.2 986.3 L395.6 986.1 L394 985.9 L392.4 985.7 L390.8 985.5 L389.2 985.3 L387.6 985.2 L386 985 L384.4 984.9 L382.8 984.8 L381.2 984.7 L379.6 984.6 L378 984.5 L376.4 984.4 L374.8 984.4 L373.1 984.4 L371.5 984.3 L369.9 984.3 L368.3 984.3 L366.7 984.4 L365.1 984.4 L363.5 984.4 L361.9 984.5 L360.3 984.6 L358.6 984.7 L357 984.8 L355.4 984.9 L353.8 985 L352.2 985.2 L350.6 985.4 L349 985.5 L347.4 985.7 L345.8 985.9 L344.3 986.2 L342.7 986.4 L341.1 986.7 L339.5 986.9 L337.9 987.2 L336.4 987.5 L334.8 987.8 L333.2 988.1 L331.7 988.5 L330.1 988.8 L328.6 989.2 L327 989.6 L325.5 990 L323.9 990.4 L322.4 990.8 L320.9 991.2 L319.4 991.7 L317.8 992.2 L316.3 992.6 L314.8 993.1 L313.3 993.7 L311.9 994.2 L310.4 994.7 L308.9 995.3 L307.4 995.8 L306 996.4 L304.5 997 L303.1 997.6 L301.7 998.2 L300.2 998.9 L298.8 999.5 L297.4 1000.2 L296 1000.9 L294.6 1001.6 L293.2 1002.3 L291.9 1003 L290.5 1003.7 L289.1 1004.4 L287.8 1005.2 L286.5 1006 L285.1 1006.8 L283.8 1007.6 L282.5 1008.4 L281.2 1009.2 L279.9 1010 L278.7 1010.9 L277.4 1011.7 L276.2 1012.6 L274.9 1013.5 L273.7 1014.4 L272.5 1015.3 L271.3 1016.2 L270.1 1017.1 L268.9 1018.1 L267.8 1019 L266.6 1020 L265.5 1021 L264.3 1021.9 L263.2 1022.9 L262.1 1023.9 L261 1025 L260 1026 L258.9 1027 L257.9 1028.1 L256.8 1029.2 L255.8 1030.2 L254.8 1031.3 L253.8 1032.4 L252.8 1033.5 L251.9 1034.6 L250.9 1035.7 L250 1036.9 L249.1 1038 L248.2 1039.2 L247.3 1040.3 L246.4 1041.5 L245.6 1042.7 L244.7 1043.8 L243.9 1045 L243.1 1046.2 L242.3 1047.4 L241.5 1048.7 L240.8 1049.9 L240 1051.1 L239.3 1052.4 L238.6 1053.6 L237.9 1054.9 L237.2 1056.1 L236.5 1057.4 L235.9 1058.7 L235.2 1059.9 L234.6 1061.2 L234 1062.5 L233.5 1063.8 L232.9 1065.1 L232.3 1066.4 L231.8 1067.8 L231.3 1069.1 L230.8 1070.4 L230.3 1071.7 L229.9 1073.1 L229.4 1074.4 L229 1075.8 L228.6 1077.1 L228.2 1078.5 L227.8 1079.8 L227.5 1081.2 L227.2 1082.5 L226.8 1083.9 L226.5 1085.3 L226.3 1086.7 L226 1088 L225.7 1089.4 L225.5 1090.8 L225.3 1092.2 L225.1 1093.6 L224.9 1095 L224.8 1096.3 L224.6 1097.7 L224.5 1099.1 L224.4 1100.5 L224.3 1101.9 L224.3 1103.3 L224.2 1104.7 L224.2 1106.1 L224.2 1107.5 L224.2 1108.9 L224.2 1110.3 L224.3 1111.7 L224.3 1113.1 L224.4 1114.5 L224.5 1115.9 L224.6 1117.3 L224.8 1118.7 L224.9 1120 L225.1 1121.4 L225.3 1122.8 L225.5 1124.2 L225.7 1125.6 L226 1127 L226.3 1128.3 L226.5 1129.7 L226.8 1131.1 L227.2 1132.5 L227.5 1133.8 L227.8 1135.2 L228.2 1136.5 L228.6 1137.9 L229 1139.2 L229.4 1140.6 L229.9 1141.9 L230.3 1143.3 L230.8 1144.6 L231.3 1145.9 L231.8 1147.2 L232.3 1148.6 L232.9 1149.9 L233.5 1151.2 L234 1152.5 L234.6 1153.8 L235.2 1155.1 L235.9 1156.3 L236.5 1157.6 L237.2 1158.9 L237.9 1160.1 L238.6 1161.4 L239.3 1162.6 L240 1163.9 L240.8 1165.1 L241.5 1166.3 L242.3 1167.6 L243.1 1168.8 L243.9 1170 L244.7 1171.2 L245.6 1172.3 L246.4 1173.5 L247.3 1174.7 L248.2 1175.8 L249.1 1177 L250 1178.1 L250.9 1179.3 L251.9 1180.4 L252.8 1181.5 L253.8 1182.6 L254.8 1183.7 L255.8 1184.8 L256.8 1185.8 L257.9 1186.9 L258.9 1188 L260 1189 L261 1190 L262.1 1191.1 L263.2 1192.1 L264.3 1193.1 L265.5 1194 L266.6 1195 L267.8 1196 L268.9 1196.9 L270.1 1197.9 L271.3 1198.8 L272.5 1199.7 L273.7 1200.6 L274.9 1201.5 L276.2 1202.4 L277.4 1203.3 L278.7 1204.1 L279.9 1205 L281.2 1205.8 L282.5 1206.6 L283.8 1207.4 L285.1 1208.2 L286.5 1209 L287.8 1209.8 L289.1 1210.6 L290.5 1211.3 L291.9 1212 L293.2 1212.7 L294.6 1213.4 L296 1214.1 L297.4 1214.8 L298.8 1215.5 L300.2 1216.1 L301.7 1216.8 L303.1 1217.4 L304.5 1218 L306 1218.6 L307.4 1219.2 L308.9 1219.7 L310.4 1220.3 L311.9 1220.8 L313.3 1221.3 L314.8 1221.9 L316.3 1222.4 L317.8 1222.8 L319.4 1223.3 L320.9 1223.8 L322.4 1224.2 L323.9 1224.6 L325.5 1225 L327 1225.4 L328.6 1225.8 L330.1 1226.2 L331.7 1226.5 L333.2 1226.9 L334.8 1227.2 L336.4 1227.5 L337.9 1227.8 L339.5 1228.1 L341.1 1228.3 L342.7 1228.6 L344.3 1228.8 L345.8 1229.1 L347.4 1229.3 L349 1229.5 L350.6 1229.6 L352.2 1229.8 L353.8 1230 L355.4 1230.1 L357 1230.2 L358.6 1230.3 L360.3 1230.4 L361.9 1230.5 L363.5 1230.6 L365.1 1230.6 L366.7 1230.6 L368.3 1230.7 L369.9 1230.7 L371.5 1230.7 L373.1 1230.6 L374.8 1230.6 L376.4 1230.6 L378 1230.5 L379.6 1230.4 L381.2 1230.3 L382.8 1230.2 L384.4 1230.1 L386 1230 L387.6 1229.8 L389.2 1229.7 L390.8 1229.5 L392.4 1229.3 L394 1229.1 L395.6 1228.9 L397.2 1228.7 L398.8 1228.5 L400.3 1228.2 L401.9 1227.9 L403.5 1227.7 L405.1 1227.4 L406.6 1227.1 L408.2 1226.8 L409.8 1226.4 L411.3 1226.1 L412.9 1225.8 L414.4 1225.4 L416 1225 L417.5 1224.6 L419 1224.2 L420.5 1223.8 L422.1 1223.4 L423.6 1223 L425.1 1222.5 L426.6 1222.1 L428.1 1221.6 L429.6 1221.1 L431.1 1220.6 L432.5 1220.1 L434 1219.6 L435.5 1219.1 L436.9 1218.6 L438.4 1218 L439.8 1217.5 L441.3 1216.9 L442.7 1216.4 L444.1 1215.8 L445.5 1215.2 L446.9 1214.6 L448.3 1214 L449.7 1213.4 L451.1 1212.7 L452.5 1212.1 L453.8 1211.4 L455.2 1210.8 L456.5 1210.1 L457.9 1209.5 L459.2 1208.8 L460.5 1208.1 L461.8 1207.4 L463.1 1206.7 L464.4 1206 L465.7 1205.3 L467 1204.5 L468.3 1203.8 L469.5 1203.1 L470.8 1202.3 L472 1201.6 L473.2 1200.8 L474.5 1200.1 L475.7 1199.3 L476.9 1198.5 L478 1197.7 L479.2 1196.9 L480.4 1196.1 L481.5 1195.4 L482.7 1194.5 L483.8 1193.7 L484.9 1192.9 L486.1 1192.1 L487.2 1191.3 L488.2 1190.5 L489.3 1189.6 L490.4 1188.8 L491.5 1188 L492.5 1187.1 L493.5 1186.3 L494.6 1185.4 L495.6 1184.6 L496.6 1183.7 L497.6 1182.8 L498.6 1182 L499.5 1181.1 L500.5 1180.3 L501.4 1179.4 L502.4 1178.5 L503.3 1177.7 L504.2 1176.8 L505.1 1175.9 L506 1175 L506.9 1174.2 L507.7 1173.3 L508.6 1172.4 L509.4 1171.5 L510.3 1170.7 L511.1 1169.8 L511.9 1168.9 L512.7 1168 L513.5 1167.1 L514.3 1166.3 L515 1165.4 L515.8 1164.5 L516.5 1163.6 L517.2 1162.8 L518 1161.9 L518.7 1161 L519.4 1160.2 L520 1159.3 L520.7 1158.4 L521.4 1157.6 L522 1156.7 L522.7 1155.9 L523.3 1155 L523.9 1154.2 L524.5 1153.3 L525.1 1152.5 L525.7 1151.6 L526.3 1150.8 L526.8 1150 L527.4 1149.1 L527.9 1148.3 L528.4 1147.5 L529 1146.7 L529.5 1145.9 L530 1145.1 L530.5 1144.3 L530.9 1143.5 L531.4 1142.7 L531.9 1141.9 L532.3 1141.1 L532.7 1140.3 L533.2 1139.6 L533.6 1138.8 L534 1138.1 L534.4 1137.3 L534.8 1136.6 L535.1 1135.8 L535.5 1135.1 L535.9 1134.4 L536.2 1133.7 L536.5 1133 L536.9 1132.2 L537.2 1131.6 L537.5 1130.9 L537.8 1130.2 L538.1 1129.5 L538.4 1128.9 L538.7 1128.2 L538.9 1127.6 L539.2 1126.9 L539.4 1126.3 L539.7 1125.7 L539.9 1125.1 L540.1 1124.5 L540.3 1123.9 L540.6 1123.3 L540.8 1122.7 L541 1122.1 L541.1 1121.6 L541.3 1121 L541.5 1120.5 L541.7 1120 L541.8 1119.4 L542 1118.9 L542.1 1118.4 L542.3 1117.9 L542.4 1117.5 L542.5 1117 L542.6 1116.5 L542.8 1116.1 L542.9 1115.7 L543 1115.2 L543.1 1114.8 L543.2 1114.4 L543.3 1114 L543.3 1113.6 L543.4 1113.3 L543.5 1112.9 L543.6 1112.6 L543.6 1112.2 L543.7 1111.9 L543.7 1111.6 L543.8 1111.3 L543.8 1111 L543.9 1110.7 L543.9 1110.4 L544 1110.2 L544 1109.9 L544 1109.7 L544 1109.5 L544.1 1109.3 L544.1 1109.1 L544.1 1108.9 L544.1 1108.7 L544.1 1108.5 L544.2 1108.4 L544.2 1108.2 L544.2 1108.1 L544.2 1108 L544.2 1107.9 L544.2 1107.8 L544.2 1107.7 L544.2 1107.7 L544.2 1107.6 L544.2 1107.6 L544.2 1107.5 L544.2 1107.5 L544.2 1107.5 L544.2 1107.5 L544.2 1107.5 L544.2 1107.6 L544.2 1107.6 L544.2 1107.7 L544.2 1107.7 L544.2 1107.8 L544.2 1107.9 L544.2 1108 L544.2 1108.1 L544.2 1108.2 L544.2 1108.4 L544.3 1108.5 L544.3 1108.7 L544.3 1108.9 L544.3 1109.1 L544.3 1109.3 L544.4 1109.5 L544.4 1109.7 L544.4 1109.9 L544.4 1110.2 L544.5 1110.4 L544.5 1110.7 L544.6 1111 L544.6 1111.3 L544.7 1111.6 L544.7 1111.9 L544.8 1112.2 L544.8 1112.6 L544.9 1112.9 L545 1113.3 L545.1 1113.6 L545.1 1114 L545.2 1114.4 L545.3 1114.8 L545.4 1115.2 L545.5 1115.7 L545.6 1116.1 L545.8 1116.5 L545.9 1117 L546 1117.5 L546.1 1117.9 L546.3 1118.4 L546.4 1118.9 L546.6 1119.4 L546.7 1120 L546.9 1120.5 L547.1 1121 L547.3 1121.6 L547.4 1122.1 L547.6 1122.7 L547.8 1123.3 L548.1 1123.9 L548.3 1124.5 L548.5 1125.1 L548.7 1125.7 L549 1126.3 L549.2 1126.9 L549.5 1127.6 L549.7 1128.2 L550 1128.9 L550.3 1129.5 L550.6 1130.2 L550.9 1130.9 L551.2 1131.6 L551.5 1132.2 L551.9 1133 L552.2 1133.7 L552.5 1134.4 L552.9 1135.1 L553.3 1135.8 L553.6 1136.6 L554 1137.3 L554.4 1138.1 L554.8 1138.8 L555.2 1139.6 L555.7 1140.3 L556.1 1141.1 L556.5 1141.9 L557 1142.7 L557.5 1143.5 L557.9 1144.3 L558.4 1145.1 L558.9 1145.9 L559.4 1146.7 L560 1147.5 L560.5 1148.3 L561 1149.1 L561.6 1150 L562.1 1150.8 L562.7 1151.6 L563.3 1152.5 L563.9 1153.3 L564.5 1154.2 L565.1 1155 L565.7 1155.9 L566.4 1156.7 L567 1157.6 L567.7 1158.4 L568.4 1159.3 L569 1160.2 L569.7 1161 L570.4 1161.9 L571.2 1162.8 L571.9 1163.6 L572.6 1164.5 L573.4 1165.4 L574.1 1166.3 L574.9 1167.1 L575.7 1168 L576.5 1168.9 L577.3 1169.8 L578.1 1170.7 L579 1171.5 L579.8 1172.4 L580.7 1173.3 L581.5 1174.2 L582.4 1175 L583.3 1175.9 L584.2 1176.8 L585.1 1177.7 L586 1178.5 L587 1179.4 L587.9 1180.3 L588.9 1181.1 L589.8 1182 L590.8 1182.8 L591.8 1183.7 L592.8 1184.6 L593.8 1185.4 L594.9 1186.3 L595.9 1187.1 L596.9 1188 L598 1188.8 L599.1 1189.6 L600.2 1190.5 L601.2 1191.3 L602.3 1192.1 L603.5 1192.9 L604.6 1193.7 L605.7 1194.5 L606.9 1195.4 L608 1196.1 L609.2 1196.9 L610.4 1197.7 L611.5 1198.5 L612.7 1199.3 L613.9 1200.1 L615.2 1200.8 L616.4 1201.6 L617.6 1202.3 L618.9 1203.1 L620.1 1203.8 L621.4 1204.5 L622.7 1205.3 L624 1206 L625.3 1206.7 L626.6 1207.4 L627.9 1208.1 L629.2 1208.8 L630.5 1209.5 L631.9 1210.1 L633.2 1210.8 L634.6 1211.4 L635.9 1212.1 L637.3 1212.7 L638.7 1213.4 L640.1 1214 L641.5 1214.6 L642.9 1215.2 L644.3 1215.8 L645.7 1216.4 L647.1 1216.9 L648.6 1217.5 L650 1218 L651.5 1218.6 L652.9 1219.1 L654.4 1219.6 L655.9 1220.1 L657.3 1220.6 L658.8 1221.1 L660.3 1221.6 L661.8 1222.1 L663.3 1222.5 L664.8 1223 L666.3 1223.4 L667.9 1223.8 L669.4 1224.2 L670.9 1224.6 L672.4 1225 L674 1225.4 L675.5 1225.8 L677.1 1226.1 L678.6 1226.4 L680.2 1226.8 L681.8 1227.1 L683.3 1227.4 L684.9 1227.7 L686.5 1227.9 L688.1 1228.2 L689.6 1228.5 L691.2 1228.7 L692.8 1228.9 L694.4 1229.1 L696 1229.3 L697.6 1229.5 L699.2 1229.7 L700.8 1229.8 L702.4 1230 L704 1230.1 L705.6 1230.2 L707.2 1230.3 L708.8 1230.4 L710.4 1230.5 L712 1230.6 L713.6 1230.6 L715.3 1230.6 L716.9 1230.7 L718.5 1230.7 L720.1 1230.7 L721.7 1230.6 L723.3 1230.6 L724.9 1230.6 L726.5 1230.5 L728.1 1230.4 L729.8 1230.3 L731.4 1230.2 L733 1230.1 L734.6 1230 L736.2 1229.8 L737.8 1229.6 L739.4 1229.5 L741 1229.3 L742.6 1229.1 L744.1 1228.8 L745.7 1228.6 L747.3 1228.3 L748.9 1228.1 L750.5 1227.8 L752 1227.5 L753.6 1227.2 L755.2 1226.9 L756.7 1226.5 L758.3 1226.2 L759.8 1225.8 L761.4 1225.4 L762.9 1225 L764.5 1224.6 L766 1224.2 L767.5 1223.8 L769 1223.3 L770.6 1222.8 L772.1 1222.4 L773.6 1221.9 L775.1 1221.3 L776.5 1220.8 L778 1220.3 L779.5 1219.7 L781 1219.2 L782.4 1218.6 L783.9 1218 L785.3 1217.4 L786.7 1216.8 L788.2 1216.1 L789.6 1215.5 L791 1214.8 L792.4 1214.1 L793.8 1213.4 L795.2 1212.7 L796.5 1212 L797.9 1211.3 L799.3 1210.6 L800.6 1209.8 L801.9 1209 L803.3 1208.2 L804.6 1207.4 L805.9 1206.6 L807.2 1205.8 L808.5 1205 L809.7 1204.1 L811 1203.3 L812.2 1202.4 L813.5 1201.5 L814.7 1200.6 L815.9 1199.7 L817.1 1198.8 L818.3 1197.9 L819.5 1196.9 L820.6 1196 L821.8 1195 L822.9 1194 L824.1 1193.1 L825.2 1192.1 L826.3 1191.1 L827.4 1190 L828.4 1189 L829.5 1188 L830.5 1186.9 L831.6 1185.8 L832.6 1184.8 L833.6 1183.7 L834.6 1182.6 L835.6 1181.5 L836.5 1180.4 L837.5 1179.3 L838.4 1178.1 L839.3 1177 L840.2 1175.8 L841.1 1174.7 L842 1173.5 L842.8 1172.3 L843.7 1171.2 L844.5 1170 L845.3 1168.8 L846.1 1167.6 L846.9 1166.3 L847.6 1165.1 L848.4 1163.9 L849.1 1162.6 L849.8 1161.4 L850.5 1160.1 L851.2 1158.9 L851.9 1157.6 L852.5 1156.3 L853.2 1155.1 L853.8 1153.8 L854.4 1152.5 L854.9 1151.2 L855.5 1149.9 L856.1 1148.6 L856.6 1147.2 L857.1 1145.9 L857.6 1144.6 L858.1 1143.3 L858.5 1141.9 L859 1140.6 L859.4 1139.2 L859.8 1137.9 L860.2 1136.5 L860.6 1135.2 L860.9 1133.8 L861.2 1132.5 L861.6 1131.1 L861.9 1129.7 L862.1 1128.3 L862.4 1127 L862.7 1125.6 L862.9 1124.2 L863.1 1122.8 L863.3 1121.4 L863.5 1120 L863.6 1118.7 L863.8 1117.3 L863.9 1115.9 L864 1114.5 L864.1 1113.1 L864.1 1111.7 L864.2 1110.3 L864.2 1108.9 L864.2 1107.5Z" fill="none" stroke="#111" stroke-width="3.8" stroke-linejoin="round"/>
<g font-size="28" fill="#111"><text x="892.9" y="1117.7" font-size="28" fill="#111">0</text><text x="846.4" y="929" font-size="28" fill="#111">30</text><text x="718.9" y="799" font-size="28" fill="#111">60</text><text x="528.4" y="759.6" font-size="28" fill="#111">90</text><text x="328.1" y="799.3" font-size="28" fill="#111"> 20</text><path d="M338.6 799.3H336.1V783.6Q335.2 784.5 333.8 785.3T331.2 786.6V784.2Q333.3 783.2 334.8 781.9T337 779.2H338.6V799.3Z" fill="#111"/><text x="193.1" y="928.5" font-size="28" fill="#111"> 50</text><path d="M203.6 928.5H201.1V912.8Q200.2 913.7 198.8 914.5T196.2 915.8V913.4Q198.3 912.4 199.8 911.1T202 908.4H203.6V928.5Z" fill="#111"/><text x="151.3" y="1117.7" font-size="28" fill="#111"> 80</text><path d="M161.8 1117.7H159.3V1102Q158.4 1102.9 157 1103.7T154.4 1105V1102.6Q156.5 1101.6 158 1100.3T160.2 1097.6H161.8V1117.7Z" fill="#111"/><text x="191.9" y="1306.1" font-size="28" fill="#111">2 0</text><path d="M217.9 1306.1H215.5V1290.4Q214.6 1291.3 213.2 1292.1T210.6 1293.4V1291Q212.6 1290 214.2 1288.7T216.4 1286H217.9V1306.1Z" fill="#111"/><text x="321.9" y="1437.4" font-size="28" fill="#111">240</text><text x="520.3" y="1476" font-size="28" fill="#111">270</text><text x="719.6" y="1436.3" font-size="28" fill="#111">300</text><text x="850.1" y="1307.2" font-size="28" fill="#111">330</text></g>
</svg></body></html>
